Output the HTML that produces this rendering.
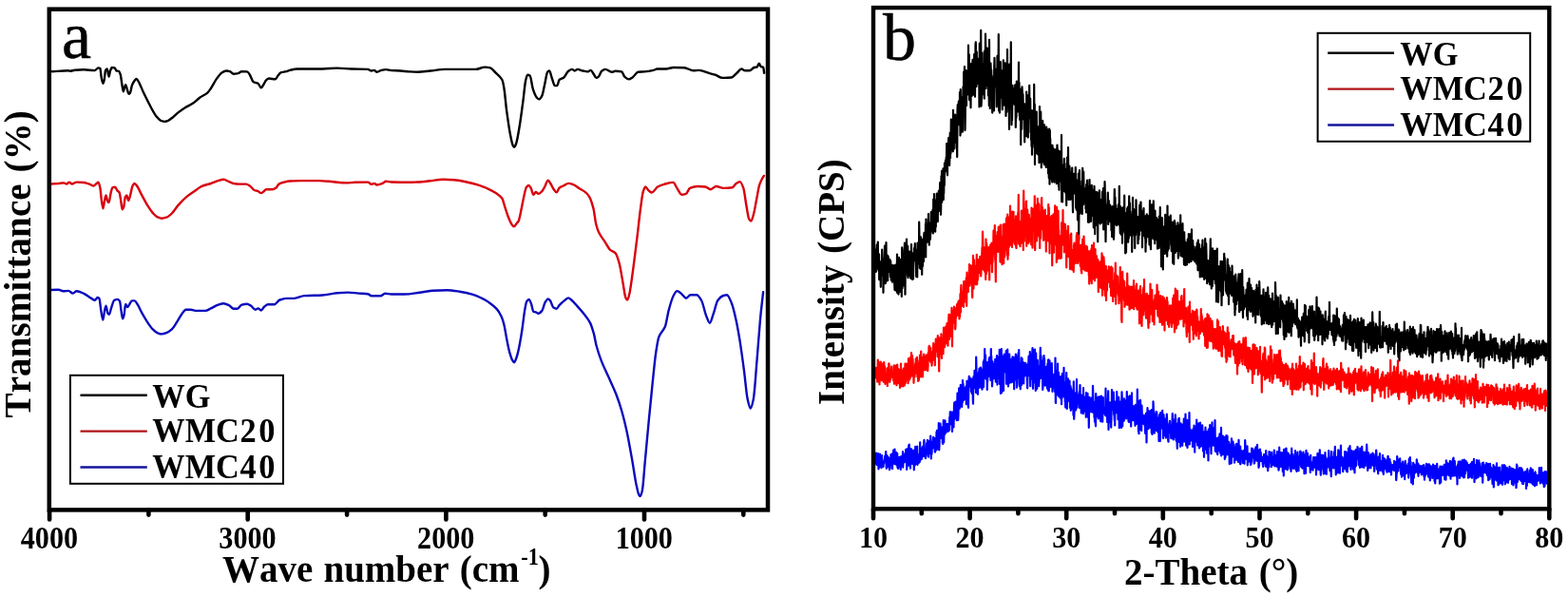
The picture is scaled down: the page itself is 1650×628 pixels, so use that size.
<!DOCTYPE html>
<html lang="en"><head><meta charset="utf-8"><title>FTIR and XRD</title>
<style>html,body{margin:0;padding:0;background:#fff}body{width:1650px;height:628px;overflow:hidden}svg{display:block}text{font-family:"Liberation Serif","Times New Roman",serif;fill:#000}.b{font-weight:bold}.t{font-size:33.5px;font-weight:bold;text-anchor:middle}.l{font-size:39px;font-weight:bold;font-kerning:none;word-spacing:2px}.g{font-size:36px;font-weight:bold;font-kerning:none}.p{font-size:70px;stroke:#000;stroke-width:0.5px}.c{fill:none;stroke-linejoin:round;stroke-linecap:round}</style></head><body>
<svg width="1650" height="628" viewBox="0 0 1650 628">
<rect width="1650" height="628" fill="#fff"/>
<g class="c" stroke-width="2.4">
<path stroke="#000" d="M54.8 75.2C60.5 74.9 66.3 74.3 72.0 74.3C72.6 74.3 73.3 74.8 73.9 74.8C75.5 74.8 77.1 73.8 78.7 73.7C81.9 73.5 85.0 73.3 88.2 73.3C92.0 73.3 95.9 74.1 99.7 74.1C101.0 74.1 102.2 71.4 103.5 71.4C104.1 71.4 104.8 71.6 105.4 72.0C105.8 72.3 106.3 79.3 106.7 81.5C107.2 84.2 107.8 87.8 108.3 87.8C108.7 87.8 109.2 86.1 109.6 84.4C110.1 82.5 110.6 74.7 111.1 73.9C111.6 73.1 112.2 72.5 112.7 72.5C113.3 72.5 114.0 80.6 114.6 80.6C115.0 80.6 115.5 76.0 115.9 74.8C116.5 73.1 117.2 71.0 117.8 71.0C118.8 71.0 119.7 71.2 120.7 71.4C121.3 71.6 122.0 74.3 122.6 74.5C123.4 74.7 124.1 74.6 124.9 74.8C125.5 75.0 126.2 76.7 126.8 78.7C127.3 80.3 127.8 85.3 128.3 88.2C128.8 91.1 129.3 96.2 129.8 96.2C130.3 96.2 130.7 92.3 131.2 91.1C131.5 90.3 131.8 89.2 132.1 89.2C132.8 89.2 133.4 93.0 134.1 94.9C134.5 96.2 135.0 98.7 135.4 98.7C135.9 98.7 136.4 98.3 136.9 97.8C137.5 97.1 138.2 91.8 138.8 90.1C139.6 87.9 140.5 86.4 141.3 85.3C142.1 84.3 142.8 82.9 143.6 82.9C144.2 82.9 144.9 84.3 145.5 85.3C147.4 88.3 149.3 93.9 151.2 97.8C153.8 103.1 156.3 108.3 158.9 113.0C160.8 116.5 162.7 120.3 164.6 122.6C166.2 124.5 167.8 126.4 169.4 127.0C170.7 127.5 171.9 127.9 173.2 127.9C174.5 127.9 175.7 127.3 177.0 126.8C178.6 126.1 180.2 124.7 181.8 123.5C183.7 122.0 185.6 119.9 187.5 118.4C190.1 116.4 192.6 114.6 195.2 113.0C197.7 111.4 200.3 110.5 202.8 108.8C205.4 107.1 207.9 104.3 210.5 102.5C213.0 100.7 215.6 99.9 218.1 97.8C219.4 96.7 220.6 94.8 221.9 93.0C223.8 90.3 225.7 86.1 227.6 83.4C229.5 80.7 231.5 77.6 233.4 76.4C235.0 75.4 236.6 74.5 238.2 74.5C239.5 74.5 240.7 74.8 242.0 75.2C243.2 75.6 244.5 77.7 245.7 77.7C247.3 77.7 248.9 77.4 250.5 77.1C251.8 76.8 253.0 75.2 254.3 75.2C256.2 75.2 258.2 75.3 260.1 75.4C261.0 75.5 262.0 77.3 262.9 78.7C264.2 80.6 265.4 85.6 266.7 86.3C268.3 87.2 269.9 87.0 271.5 87.8C272.6 88.4 273.7 92.4 274.8 92.4C275.6 92.4 276.4 90.4 277.2 89.2C278.2 87.8 279.1 85.3 280.1 84.4C281.1 83.5 282.0 82.5 283.0 82.5C285.2 82.5 287.5 83.4 289.7 83.4C290.6 83.4 291.6 80.7 292.5 79.6C293.5 78.4 294.4 76.7 295.4 76.4C297.3 75.7 299.2 75.7 301.1 75.2C302.4 74.9 303.6 74.2 304.9 73.9C307.5 73.3 310.0 72.5 312.6 72.5C317.1 72.5 321.5 72.5 326.0 72.5C330.4 72.5 334.9 72.5 339.3 72.5C344.4 72.5 349.5 71.6 354.6 71.6C359.7 71.6 364.8 72.3 369.9 72.5C375.6 72.7 381.4 72.6 387.1 72.9C388.4 73.0 389.6 74.5 390.9 74.5C391.9 74.5 392.8 73.9 393.8 73.9C394.7 73.9 395.7 75.8 396.6 75.8C398.2 75.8 399.8 74.3 401.4 73.9C403.0 73.5 404.6 73.1 406.2 73.1C408.1 73.1 410.0 74.0 411.9 74.1C415.1 74.3 418.3 74.3 421.5 74.5C424.7 74.7 427.8 75.2 431.0 75.4C433.9 75.6 436.7 75.8 439.6 75.8C444.0 75.8 448.5 74.9 452.9 74.5C458.0 74.0 463.1 72.9 468.2 72.9C474.6 72.9 480.9 72.9 487.3 72.9C491.8 72.9 496.2 72.9 500.7 72.9C503.9 72.9 507.0 70.6 510.2 70.6C512.1 70.6 514.1 70.9 516.0 71.4C517.9 71.9 519.8 74.8 521.7 76.7C523.9 78.9 526.2 80.1 528.4 84.0C529.0 85.1 529.7 88.4 530.3 92.0C531.3 97.5 532.2 109.7 533.2 116.9C534.5 126.3 535.7 135.3 537.0 141.7C537.9 146.4 538.9 151.6 539.8 153.2C540.3 154.0 540.7 154.7 541.2 154.7C541.8 154.7 542.5 152.9 543.1 151.2C544.2 148.1 545.4 140.7 546.5 134.0C547.8 126.5 549.0 116.7 550.3 107.3C551.3 100.1 552.2 88.6 553.2 84.4C553.8 81.6 554.5 78.7 555.1 78.7C555.9 78.7 556.8 79.0 557.6 79.6C558.7 80.3 559.8 90.6 560.9 93.9C562.2 97.7 563.4 101.1 564.7 102.5C565.5 103.4 566.4 104.4 567.2 104.4C568.3 104.4 569.3 102.6 570.4 100.6C571.4 98.8 572.3 92.4 573.3 88.2C574.2 84.1 575.2 76.9 576.1 75.8C576.7 75.0 577.4 74.5 578.0 74.5C579.0 74.5 579.9 79.9 580.9 82.5C581.9 85.1 582.8 90.1 583.8 90.1C584.6 90.1 585.5 90.1 586.3 90.1C587.0 90.1 587.8 84.6 588.5 84.0C590.1 82.6 591.7 82.7 593.3 81.5C594.9 80.3 596.5 76.0 598.1 74.8C599.4 73.9 600.6 72.9 601.9 72.9C602.9 72.9 603.8 74.5 604.8 74.5C605.8 74.5 606.7 72.9 607.7 72.9C609.6 72.9 611.5 74.1 613.4 74.5C615.0 74.9 616.6 75.4 618.2 75.4C619.3 75.4 620.5 73.9 621.6 73.9C622.6 73.9 623.6 76.3 624.6 77.7C625.5 79.0 626.5 81.9 627.4 81.9C628.2 81.9 629.1 81.3 629.9 80.6C631.0 79.7 632.0 75.6 633.1 74.8C634.4 73.8 635.7 72.9 637.0 72.9C639.2 72.9 641.5 75.8 643.7 75.8C645.0 75.8 646.2 74.8 647.5 74.8C649.7 74.8 652.0 75.0 654.2 75.4C655.3 75.6 656.3 80.0 657.4 80.9C658.9 82.2 660.3 83.4 661.8 83.4C663.1 83.4 664.3 82.3 665.6 81.5C667.5 80.2 669.5 76.0 671.4 75.8C673.6 75.5 675.8 75.6 678.0 75.4C681.2 75.1 684.4 74.6 687.6 73.9C688.9 73.6 690.1 72.5 691.4 72.5C694.6 72.5 697.8 72.5 701.0 72.5C703.5 72.5 706.1 71.0 708.6 71.0C712.4 71.0 716.3 71.1 720.1 71.2C723.3 71.3 726.4 74.3 729.6 74.3C731.5 74.3 733.4 73.9 735.3 73.9C739.1 73.9 743.0 76.0 746.8 77.1C748.7 77.6 750.6 78.1 752.5 78.7C755.1 79.6 757.6 81.9 760.2 81.9C763.4 81.9 766.5 81.8 769.7 81.5C771.6 81.3 773.6 78.4 775.5 76.7C777.1 75.4 778.6 72.5 780.2 72.5C781.5 72.5 782.8 74.3 784.1 74.3C785.7 74.3 787.2 74.3 788.8 74.3C790.4 74.3 792.0 71.4 793.6 71.0C794.6 70.8 795.5 70.8 796.5 70.6C797.3 70.4 798.0 66.8 798.8 66.8C799.4 66.8 800.1 69.9 800.7 70.1C801.5 70.4 802.4 70.3 803.2 70.6C803.5 70.7 803.8 74.7 804.1 76.7"/>
<path stroke="#d8000c" d="M52.9 193.6C55.8 193.4 58.6 193.2 61.5 193.0C63.4 192.8 65.3 192.4 67.2 192.4C68.2 192.4 69.1 193.6 70.1 193.6C71.0 193.6 72.0 191.6 72.9 191.6C73.9 191.6 74.8 193.6 75.8 193.6C77.4 193.6 79.0 191.6 80.6 191.6C83.1 191.6 85.7 191.8 88.2 192.0C90.1 192.2 92.0 193.0 93.9 193.6C95.5 194.1 97.1 195.5 98.7 195.5C99.7 195.5 100.6 193.8 101.6 193.0C102.2 192.5 102.9 191.6 103.5 191.6C104.1 191.6 104.8 194.8 105.4 197.8C105.9 200.2 106.4 207.9 106.9 211.1C107.4 214.5 108.0 219.2 108.5 219.2C109.0 219.2 109.5 213.3 110.0 211.1C110.5 208.9 111.0 205.4 111.5 205.4C112.0 205.4 112.5 210.2 113.0 211.1C113.5 212.1 114.1 213.0 114.6 213.0C115.2 213.0 115.9 206.0 116.5 203.5C117.1 201.0 117.8 197.7 118.4 197.4C119.3 197.0 120.2 196.8 121.1 196.8C121.9 196.8 122.7 199.7 123.5 200.6C124.2 201.4 124.9 201.4 125.6 202.5C126.1 203.3 126.7 208.0 127.2 211.1C127.7 214.0 128.2 220.3 128.7 220.3C129.2 220.3 129.7 219.1 130.2 217.8C130.7 216.4 131.3 208.4 131.8 207.3C132.3 206.2 132.8 205.4 133.3 205.4C133.9 205.4 134.6 211.1 135.2 211.1C135.8 211.1 136.5 207.6 137.1 205.4C137.9 202.7 138.6 197.5 139.4 195.8C140.0 194.4 140.7 193.0 141.3 193.0C142.1 193.0 142.8 194.0 143.6 194.9C145.5 197.1 147.4 201.9 149.3 205.4C151.2 208.9 153.2 212.8 155.1 215.9C157.0 218.9 158.9 222.0 160.8 224.1C162.4 225.8 164.0 227.6 165.6 228.3C167.2 229.0 168.7 229.7 170.3 229.7C171.9 229.7 173.5 229.2 175.1 228.7C177.0 228.1 178.9 226.3 180.8 224.5C183.0 222.4 185.3 218.4 187.5 215.9C190.7 212.3 193.9 209.0 197.1 206.4C200.3 203.8 203.4 201.9 206.6 199.7C208.5 198.4 210.5 196.6 212.4 195.8C215.6 194.5 218.7 194.0 221.9 193.0C224.5 192.2 227.0 190.8 229.6 190.1C231.5 189.6 233.4 188.8 235.3 188.8C237.2 188.8 239.1 190.3 241.0 191.1C242.6 191.7 244.1 192.7 245.7 193.0C247.6 193.3 249.6 193.6 251.5 193.6C254.0 193.6 256.6 193.6 259.1 193.6C260.4 193.6 261.6 194.7 262.9 195.5C264.5 196.5 266.1 199.2 267.7 200.0C269.0 200.6 270.2 200.7 271.5 201.2C272.6 201.6 273.7 203.1 274.8 203.1C275.6 203.1 276.4 202.2 277.2 201.6C278.2 200.9 279.1 199.3 280.1 199.3C282.3 199.3 284.6 199.3 286.8 199.3C288.1 199.3 289.3 198.3 290.6 197.4C291.6 196.7 292.5 194.1 293.5 193.6C295.4 192.5 297.3 192.1 299.2 191.6C301.1 191.1 303.0 190.6 304.9 190.5C308.7 190.3 312.6 190.1 316.4 190.1C322.8 190.1 329.1 190.1 335.5 190.1C340.6 190.1 345.7 190.9 350.8 191.3C355.3 191.7 359.7 192.4 364.2 192.4C367.4 192.4 370.5 191.9 373.7 191.8C378.2 191.7 382.6 191.6 387.1 191.6C388.4 191.6 389.6 193.9 390.9 193.9C391.9 193.9 392.8 193.0 393.8 193.0C394.7 193.0 395.7 194.5 396.6 194.5C398.5 194.5 400.5 193.7 402.4 193.0C403.7 192.5 404.9 190.7 406.2 190.7C408.1 190.7 410.0 191.4 411.9 191.5C418.3 191.7 424.6 191.8 431.0 191.8C433.9 191.8 436.7 191.6 439.6 191.5C444.0 191.3 448.5 190.7 452.9 190.2C457.4 189.7 461.8 188.7 466.3 188.7C470.1 188.7 474.0 188.9 477.8 189.2C482.2 189.5 486.7 190.6 491.1 191.5C494.9 192.3 498.8 193.2 502.6 194.4C506.4 195.6 510.2 197.1 514.0 198.8C516.6 200.0 519.1 201.3 521.7 203.0C523.9 204.5 526.2 205.7 528.4 208.7C529.3 209.9 530.3 214.5 531.2 217.3C532.5 221.2 533.8 225.6 535.1 228.8C536.2 231.6 537.4 234.5 538.5 236.0C539.3 237.0 540.0 238.3 540.8 238.3C541.8 238.3 542.7 236.1 543.7 234.9C544.3 234.1 545.0 233.8 545.6 232.6C546.5 230.9 547.5 225.3 548.4 221.1C549.4 216.8 550.3 211.0 551.3 206.8C552.1 203.2 553.0 198.5 553.8 197.2C554.6 196.0 555.3 195.0 556.1 195.0C556.9 195.0 557.6 196.1 558.4 197.2C559.4 198.6 560.4 204.9 561.4 204.9C562.2 204.9 562.9 202.0 563.7 202.0C564.7 202.0 565.6 203.9 566.6 203.9C567.9 203.9 569.1 202.4 570.4 201.1C571.4 200.1 572.3 198.0 573.3 196.3C574.4 194.3 575.6 189.6 576.7 189.6C577.5 189.6 578.2 191.4 579.0 192.5C580.3 194.4 581.5 197.5 582.8 199.2C583.8 200.5 584.7 202.4 585.7 202.4C586.6 202.4 587.6 198.5 588.5 197.8C590.1 196.5 591.7 196.1 593.3 195.3C594.9 194.5 596.5 192.9 598.1 192.9C600.0 192.9 601.9 193.7 603.8 194.4C605.7 195.1 607.7 197.0 609.6 198.2C611.5 199.4 613.4 200.1 615.3 201.6C616.9 202.8 618.5 204.3 620.1 206.8C621.6 209.1 623.0 213.8 624.5 219.5C625.4 223.0 626.3 232.2 627.2 235.8C628.1 239.4 629.0 242.0 629.9 243.9C632.2 248.6 634.4 251.2 636.7 254.7C638.5 257.5 640.3 261.2 642.1 262.8C643.9 264.4 645.7 264.3 647.5 266.1C648.8 267.4 650.2 271.8 651.5 276.4C652.9 281.1 654.2 290.6 655.6 298.0C656.5 302.9 657.4 310.9 658.3 312.9C658.9 314.3 659.6 315.6 660.2 315.6C660.9 315.6 661.7 312.0 662.4 308.9C663.7 303.3 665.1 291.5 666.4 281.8C667.8 271.8 669.1 260.5 670.5 249.3C671.7 239.7 672.8 228.1 674.0 219.5C674.9 212.9 675.8 204.9 676.7 201.9C677.5 199.2 678.3 196.5 679.1 196.5C680.3 196.5 681.5 199.7 682.7 200.6C683.8 201.4 684.8 202.5 685.9 202.5C688.0 202.5 690.0 197.7 692.1 196.5C694.4 195.2 696.6 194.4 698.9 193.8C702.1 193.0 705.2 191.9 708.4 191.9C709.7 191.9 711.1 196.0 712.4 197.9C714.0 200.3 715.7 204.7 717.3 204.7C718.8 204.7 720.4 204.3 721.9 203.8C723.3 203.3 724.6 198.5 726.0 197.9C728.7 196.8 731.4 196.0 734.1 196.0C736.8 196.0 739.5 196.2 742.2 196.5C744.0 196.7 745.8 199.2 747.6 199.2C749.6 199.2 751.6 196.0 753.6 196.0C756.1 196.0 758.6 197.9 761.1 197.9C764.3 197.9 767.4 197.7 770.6 197.3C772.0 197.1 773.3 193.9 774.7 193.0C776.0 192.1 777.4 191.1 778.7 191.1C779.9 191.1 781.1 194.5 782.3 197.9C783.4 201.0 784.4 211.0 785.5 216.8C786.4 221.7 787.3 229.0 788.2 230.4C788.9 231.6 789.7 232.5 790.4 232.5C791.3 232.5 792.2 228.2 793.1 225.0C794.2 221.2 795.2 214.1 796.3 208.7C797.2 204.2 798.1 198.1 799.0 195.2C799.9 192.1 800.9 190.2 801.8 188.4C802.5 187.0 803.2 186.1 803.9 184.9"/>
<path stroke="#0a0abe" d="M52.9 305.0C55.8 304.9 58.6 304.8 61.5 304.8C63.4 304.8 65.3 306.3 67.2 306.3C68.8 306.3 70.4 305.9 72.0 305.9C73.6 305.9 75.1 308.6 76.7 308.6C78.0 308.6 79.3 306.3 80.6 306.3C83.1 306.3 85.7 307.7 88.2 308.8C90.7 309.9 93.3 312.1 95.8 313.6C97.2 314.4 98.6 315.8 100.0 315.8C100.8 315.8 101.7 313.0 102.5 313.0C103.1 313.0 103.8 313.3 104.4 313.9C105.1 314.5 105.7 323.6 106.4 327.3C107.0 330.9 107.7 336.5 108.3 336.5C108.9 336.5 109.4 329.8 110.0 327.3C110.5 325.1 111.0 321.6 111.5 321.6C112.1 321.6 112.8 328.8 113.4 329.6C113.9 330.2 114.4 330.7 114.9 330.7C115.7 330.7 116.4 325.6 117.2 323.5C118.2 320.6 119.3 316.3 120.3 315.8C121.4 315.3 122.4 314.9 123.5 314.9C124.3 314.9 125.2 315.7 126.0 316.8C126.5 317.5 127.1 324.2 127.6 327.3C128.1 330.2 128.6 335.3 129.1 335.3C129.6 335.3 130.1 333.1 130.6 331.1C131.1 329.1 131.6 320.0 132.1 320.0C132.8 320.0 133.4 323.1 134.1 323.1C134.8 323.1 135.6 321.0 136.3 320.0C137.1 318.8 138.0 316.4 138.8 316.4C139.8 316.4 140.7 316.4 141.7 316.4C142.7 316.4 143.6 318.5 144.6 320.0C146.2 322.4 147.7 326.4 149.3 329.2C151.2 332.7 153.2 335.9 155.1 338.8C157.0 341.6 158.9 344.5 160.8 346.4C162.4 348.0 164.0 349.6 165.6 350.2C167.2 350.8 168.7 351.4 170.3 351.4C171.9 351.4 173.5 350.8 175.1 350.2C177.0 349.5 178.9 348.1 180.8 346.4C182.4 345.0 184.0 342.1 185.6 339.7C187.5 336.8 189.5 332.7 191.4 330.2C192.8 328.4 194.2 325.8 195.6 325.8C197.4 325.8 199.1 325.8 200.9 325.8C202.8 325.8 204.7 326.9 206.6 326.9C209.8 326.9 213.0 326.9 216.2 326.9C218.1 326.9 220.0 325.3 221.9 324.4C224.5 323.2 227.0 321.4 229.6 320.6C231.5 320.0 233.4 319.3 235.3 319.3C237.2 319.3 239.1 320.3 241.0 321.2C242.6 321.9 244.1 324.8 245.7 324.8C247.0 324.8 248.3 324.8 249.6 324.8C251.2 324.8 252.7 321.0 254.3 320.6C256.2 320.1 258.2 319.7 260.1 319.7C261.4 319.7 262.6 320.8 263.9 321.6C265.5 322.6 267.1 325.8 268.7 325.8C269.6 325.8 270.6 324.4 271.5 324.4C272.6 324.4 273.7 326.5 274.8 326.5C275.9 326.5 277.1 323.4 278.2 322.5C279.5 321.5 280.7 320.2 282.0 320.2C284.2 320.2 286.5 320.2 288.7 320.2C290.6 320.2 292.5 316.2 294.4 315.5C296.6 314.7 298.9 313.9 301.1 313.9C304.0 313.9 306.8 313.9 309.7 313.9C313.2 313.9 316.7 311.3 320.2 311.1C326.6 310.7 332.9 310.8 339.3 310.5C344.4 310.2 349.5 308.6 354.6 308.2C358.4 307.9 362.3 307.6 366.1 307.6C369.9 307.6 373.7 308.3 377.5 308.6C380.7 308.8 383.9 308.8 387.1 309.2C388.4 309.3 389.6 311.3 390.9 311.3C394.1 311.3 397.3 311.3 400.5 311.3C402.1 311.3 403.6 308.8 405.2 308.8C407.4 308.8 409.7 309.5 411.9 309.5C416.4 309.5 420.8 309.5 425.3 309.5C430.7 309.5 436.1 308.4 441.5 307.7C445.9 307.1 450.4 306.1 454.8 305.8C459.9 305.5 465.0 305.2 470.1 305.2C474.6 305.2 479.0 306.0 483.5 306.7C488.0 307.4 492.4 308.3 496.9 309.6C500.7 310.7 504.5 312.5 508.3 314.4C510.9 315.7 513.4 317.3 516.0 319.2C518.2 320.8 520.4 322.4 522.6 324.9C524.2 326.7 525.8 329.2 527.4 332.5C528.4 334.5 529.3 337.4 530.3 341.1C531.3 344.8 532.2 351.5 533.2 356.4C534.1 361.1 535.1 366.4 536.0 369.8C537.0 373.3 537.9 376.7 538.9 378.4C539.7 379.7 540.4 381.2 541.2 381.2C542.0 381.2 542.9 377.9 543.7 375.5C544.6 372.8 545.6 368.5 546.5 364.0C547.5 359.3 548.4 353.2 549.4 346.9C550.4 340.6 551.3 331.2 552.3 325.8C552.9 322.3 553.6 318.2 554.2 317.2C555.0 316.0 555.7 315.0 556.5 315.0C557.3 315.0 558.1 317.3 558.9 319.2C559.7 321.1 560.6 327.5 561.4 327.8C562.2 328.1 562.9 328.1 563.7 328.3C564.7 328.6 565.6 329.7 566.6 329.7C567.9 329.7 569.1 328.3 570.4 326.8C571.5 325.5 572.5 320.0 573.6 318.2C574.6 316.5 575.7 314.4 576.7 314.4C577.5 314.4 578.2 315.4 579.0 316.3C580.1 317.7 581.3 322.8 582.4 323.6C583.5 324.3 584.6 324.9 585.7 324.9C586.6 324.9 587.6 322.1 588.5 321.1C590.4 319.0 592.4 317.4 594.3 315.9C595.6 314.9 596.8 313.4 598.1 313.4C599.1 313.4 600.0 314.5 601.0 315.3C603.2 317.1 605.5 319.9 607.7 322.4C609.9 324.8 612.1 327.2 614.3 330.0C616.5 332.9 618.8 335.3 621.0 339.6C622.3 342.0 623.5 346.2 624.8 350.7C625.8 354.1 626.7 360.5 627.7 364.0C629.4 370.4 631.2 375.4 632.9 379.9C635.5 386.5 638.0 391.3 640.6 397.1C643.1 402.8 645.7 407.8 648.2 414.3C650.1 419.3 652.1 424.9 654.0 431.5C655.9 438.0 657.8 445.7 659.7 454.4C661.6 463.1 663.5 474.2 665.4 485.0C666.7 492.4 668.0 502.1 669.3 508.4C670.3 513.1 671.2 518.3 672.2 520.2C672.7 521.1 673.1 522.0 673.6 522.0C674.3 522.0 675.1 519.3 675.8 516.2C676.8 512.0 677.8 495.6 678.8 485.0C680.1 471.2 681.4 456.5 682.7 443.0C684.0 429.8 685.2 416.8 686.5 404.7C687.8 392.6 689.0 378.7 690.3 370.3C691.3 363.5 692.4 356.8 693.4 354.2C695.6 348.8 697.7 348.7 699.9 343.5C701.2 340.4 702.4 330.9 703.7 326.3C705.4 320.2 707.0 314.0 708.7 311.0C710.0 308.7 711.2 306.1 712.5 306.1C714.0 306.1 715.6 307.9 717.1 309.1C718.7 310.4 720.4 313.7 722.0 313.7C723.5 313.7 725.1 310.3 726.6 310.3C728.8 310.3 730.9 310.3 733.1 310.3C734.8 310.3 736.4 313.2 738.1 316.0C739.8 318.8 741.4 328.0 743.1 332.1C744.4 335.2 745.6 339.7 746.9 339.7C748.2 339.7 749.4 333.7 750.7 330.2C752.2 326.0 753.8 318.1 755.3 316.0C757.2 313.4 759.2 311.6 761.1 311.0C762.4 310.6 763.6 310.3 764.9 310.3C766.5 310.3 768.2 314.9 769.8 318.7C771.3 322.3 772.9 329.1 774.4 335.9C775.7 341.6 777.0 349.0 778.3 356.9C779.8 366.3 781.4 377.9 782.9 389.4C784.2 398.9 785.4 414.2 786.7 420.0C787.7 424.6 788.7 429.6 789.7 429.6C790.7 429.6 791.8 425.0 792.8 420.0C794.1 413.9 795.3 392.8 796.6 378.0C797.7 364.8 798.9 347.9 800.0 335.9C801.0 325.0 802.1 316.8 803.1 307.2"/>
</g>
<g class="c" stroke-width="2.2">
<path stroke="#000" d="M921.5 268.0L921.8 286.0L922.0 265.1L922.2 262.1L922.5 260.6L922.8 257.4L923.0 265.1L923.2 269.7L923.5 281.5L923.8 254.6L924.0 276.9L924.2 283.7L924.5 272.4L924.8 285.3L925.0 267.4L925.2 294.2L925.5 283.8L925.8 279.7L926.0 282.1L926.2 284.0L926.5 284.9L926.8 301.8L927.0 275.0L927.2 278.5L927.5 290.2L927.8 289.8L928.0 270.5L928.2 262.7L928.5 270.2L928.8 279.2L929.0 272.4L929.2 285.9L929.5 307.8L929.8 290.1L930.0 279.8L930.2 284.9L930.5 297.8L930.8 279.1L931.0 258.5L931.2 293.7L931.5 293.0L931.8 298.2L932.0 278.3L932.2 291.6L932.5 255.2L932.8 288.1L933.0 295.1L933.2 295.6L933.5 290.1L933.8 269.5L934.0 268.7L934.2 295.1L934.5 276.2L934.8 270.2L935.0 278.2L935.2 277.7L935.5 285.8L935.8 285.9L936.0 278.0L936.2 281.6L936.5 273.2L936.8 277.6L937.0 291.3L937.2 274.7L937.5 281.9L937.8 294.7L938.0 289.4L938.2 285.6L938.5 287.5L938.8 284.6L939.0 296.7L939.2 279.0L939.5 278.9L939.8 280.6L940.0 285.8L940.2 279.4L940.5 293.4L940.8 295.8L941.0 285.2L941.2 298.2L941.5 304.9L941.8 283.8L942.0 282.2L942.2 278.6L942.5 289.8L942.8 305.1L943.0 281.8L943.2 306.1L943.5 294.9L943.8 289.5L944.0 267.6L944.2 308.1L944.5 284.4L944.8 280.7L945.0 277.7L945.2 287.9L945.5 309.6L945.8 290.6L946.0 270.9L946.2 293.1L946.5 273.7L946.8 282.6L947.0 294.4L947.2 275.8L947.5 307.0L947.8 296.4L948.0 272.9L948.2 281.8L948.5 291.1L948.8 312.0L949.0 280.3L949.2 260.4L949.5 303.2L949.8 278.7L950.0 273.0L950.2 299.0L950.5 275.8L950.8 300.4L951.0 291.9L951.2 282.4L951.5 263.8L951.8 260.6L952.0 255.6L952.2 266.3L952.5 309.7L952.8 273.8L953.0 276.9L953.2 284.8L953.5 266.2L953.8 268.0L954.0 251.6L954.2 286.5L954.5 285.1L954.8 264.2L955.0 290.1L955.2 258.8L955.5 292.2L955.8 274.7L956.0 285.7L956.2 290.0L956.5 269.5L956.8 264.7L957.0 275.7L957.2 266.8L957.5 279.3L957.8 271.0L958.0 277.9L958.2 292.6L958.5 283.5L958.8 269.5L959.0 257.0L959.2 293.3L959.5 272.9L959.8 268.1L960.0 266.7L960.2 294.0L960.5 270.2L960.8 269.4L961.0 293.5L961.2 281.0L961.5 265.9L961.8 273.3L962.0 261.1L962.2 273.9L962.5 264.1L962.8 256.2L963.0 264.3L963.2 270.0L963.5 272.2L963.8 275.0L964.0 279.5L964.2 291.0L964.5 279.8L964.8 262.5L965.0 272.1L965.2 291.5L965.5 255.6L965.8 261.6L966.0 264.1L966.2 266.9L966.5 277.5L966.8 255.4L967.0 275.0L967.2 233.5L967.5 252.5L967.8 282.0L968.0 258.8L968.2 273.3L968.5 254.7L968.8 283.0L969.0 249.3L969.2 258.1L969.5 272.0L969.8 261.5L970.0 273.9L970.2 288.8L970.5 259.5L970.8 251.8L971.0 280.0L971.2 272.3L971.5 269.6L971.8 258.4L972.0 275.0L972.2 249.0L972.5 244.8L972.8 252.4L973.0 245.4L973.2 250.9L973.5 265.8L973.8 263.9L974.0 235.7L974.2 270.5L974.5 230.5L974.8 241.9L975.0 235.8L975.2 246.7L975.5 238.3L975.8 254.7L976.0 251.5L976.2 244.8L976.5 235.9L976.8 250.0L977.0 225.0L977.2 249.4L977.5 234.2L977.8 257.7L978.0 243.0L978.2 250.1L978.5 241.5L978.8 251.8L979.0 249.4L979.2 241.8L979.5 244.7L979.8 223.0L980.0 239.3L980.2 233.0L980.5 223.0L980.8 236.8L981.0 223.1L981.2 236.1L981.5 220.5L981.8 245.5L982.0 243.9L982.2 209.7L982.5 223.6L982.8 242.9L983.0 204.2L983.2 219.2L983.5 216.1L983.8 236.1L984.0 212.9L984.2 243.7L984.5 210.9L984.8 238.8L985.0 221.4L985.2 223.5L985.5 224.3L985.8 203.6L986.0 217.8L986.2 221.9L986.5 222.9L986.8 233.1L987.0 209.8L987.2 220.6L987.5 217.1L987.8 200.9L988.0 207.1L988.2 204.3L988.5 221.8L988.8 205.0L989.0 199.5L989.2 192.0L989.5 207.5L989.8 194.0L990.0 225.8L990.2 218.7L990.5 185.4L990.8 201.6L991.0 179.9L991.2 212.8L991.5 204.6L991.8 201.8L992.0 193.5L992.2 186.7L992.5 177.4L992.8 210.1L993.0 188.6L993.2 203.5L993.5 184.9L993.8 195.0L994.0 171.5L994.2 178.3L994.5 180.0L994.8 172.0L995.0 168.8L995.2 180.1L995.5 167.9L995.8 165.1L996.0 176.2L996.2 151.1L996.5 168.3L996.8 182.6L997.0 184.3L997.2 152.5L997.5 153.8L997.8 153.8L998.0 152.7L998.2 145.1L998.5 165.4L998.8 159.9L999.0 172.1L999.2 173.9L999.5 146.6L999.8 139.6L1000.0 166.3L1000.2 145.9L1000.5 161.6L1000.8 125.7L1001.0 141.4L1001.2 136.9L1001.5 139.7L1001.8 146.1L1002.0 128.3L1002.2 140.7L1002.5 151.6L1002.8 159.3L1003.0 115.8L1003.2 141.9L1003.5 154.1L1003.8 156.8L1004.0 130.5L1004.2 148.3L1004.5 131.3L1004.8 147.9L1005.0 131.8L1005.2 120.7L1005.5 136.6L1005.8 150.3L1006.0 127.7L1006.2 135.5L1006.5 155.9L1006.8 146.1L1007.0 141.5L1007.2 165.1L1007.5 116.2L1007.8 110.0L1008.0 127.9L1008.2 128.1L1008.5 131.2L1008.8 106.5L1009.0 130.8L1009.2 123.9L1009.5 114.5L1009.8 113.5L1010.0 97.1L1010.2 99.3L1010.5 142.6L1010.8 94.2L1011.0 134.1L1011.2 139.7L1011.5 112.6L1011.8 117.7L1012.0 108.2L1012.2 102.4L1012.5 117.0L1012.8 102.1L1013.0 138.6L1013.2 116.1L1013.5 91.4L1013.8 94.7L1014.0 104.1L1014.2 75.6L1014.5 96.2L1014.8 103.7L1015.0 70.0L1015.2 102.7L1015.5 137.0L1015.8 120.7L1016.0 101.4L1016.2 102.5L1016.5 74.0L1016.8 88.4L1017.0 110.9L1017.2 77.8L1017.5 96.6L1017.8 94.3L1018.0 89.4L1018.2 85.8L1018.5 74.3L1018.8 88.8L1019.0 47.5L1019.2 99.8L1019.5 87.8L1019.8 57.3L1020.0 105.1L1020.2 101.3L1020.5 67.6L1020.8 69.5L1021.0 78.5L1021.2 87.0L1021.5 113.3L1021.8 71.2L1022.0 67.1L1022.2 84.1L1022.5 66.6L1022.8 100.8L1023.0 81.5L1023.2 70.2L1023.5 62.8L1023.8 79.9L1024.0 83.9L1024.2 98.9L1024.5 96.3L1024.8 99.7L1025.0 97.7L1025.2 57.1L1025.5 71.8L1025.8 76.2L1026.0 101.7L1026.2 87.0L1026.5 46.9L1026.8 44.4L1027.0 52.4L1027.2 54.6L1027.5 91.0L1027.8 54.7L1028.0 76.1L1028.2 82.3L1028.5 62.8L1028.8 87.9L1029.0 72.1L1029.2 70.8L1029.5 87.1L1029.8 61.7L1030.0 86.8L1030.2 73.2L1030.5 112.5L1030.8 45.7L1031.0 92.3L1031.2 45.4L1031.5 90.9L1031.8 57.2L1032.0 87.5L1032.2 31.9L1032.5 111.6L1032.8 107.0L1033.0 102.8L1033.2 77.6L1033.5 55.6L1033.8 77.5L1034.0 67.2L1034.2 91.9L1034.5 91.1L1034.8 99.1L1035.0 75.8L1035.2 69.9L1035.5 92.9L1035.8 103.7L1036.0 53.6L1036.2 75.3L1036.5 54.9L1036.8 80.3L1037.0 35.7L1037.2 47.2L1037.5 93.1L1037.8 76.3L1038.0 89.0L1038.2 60.9L1038.5 64.5L1038.8 50.7L1039.0 79.9L1039.2 82.3L1039.5 90.1L1039.8 69.5L1040.0 100.5L1040.2 55.6L1040.5 79.3L1040.8 111.1L1041.0 41.9L1041.2 90.0L1041.5 66.8L1041.8 114.1L1042.0 74.3L1042.2 98.8L1042.5 66.6L1042.8 76.2L1043.0 92.5L1043.2 73.7L1043.5 83.5L1043.8 79.9L1044.0 96.0L1044.2 118.6L1044.5 107.7L1044.8 82.4L1045.0 100.6L1045.2 98.0L1045.5 102.1L1045.8 87.6L1046.0 116.5L1046.2 72.0L1046.5 60.8L1046.8 80.4L1047.0 74.2L1047.2 88.6L1047.5 72.7L1047.8 89.1L1048.0 91.1L1048.2 76.9L1048.5 93.1L1048.8 112.4L1049.0 89.8L1049.2 96.1L1049.5 58.9L1049.8 91.6L1050.0 109.0L1050.2 78.5L1050.5 87.2L1050.8 36.2L1051.0 108.1L1051.2 116.7L1051.5 80.4L1051.8 113.4L1052.0 118.6L1052.2 97.5L1052.5 103.2L1052.8 65.1L1053.0 89.8L1053.2 97.0L1053.5 87.8L1053.8 74.0L1054.0 100.9L1054.2 79.0L1054.5 97.8L1054.8 115.3L1055.0 102.3L1055.2 90.6L1055.5 93.4L1055.8 63.4L1056.0 77.5L1056.2 72.5L1056.5 98.5L1056.8 110.7L1057.0 77.7L1057.2 102.1L1057.5 71.4L1057.8 66.4L1058.0 95.3L1058.2 81.8L1058.5 122.0L1058.8 81.8L1059.0 79.8L1059.2 99.1L1059.5 117.8L1059.8 105.1L1060.0 52.1L1060.2 99.2L1060.5 102.5L1060.8 100.1L1061.0 95.7L1061.2 89.6L1061.5 76.1L1061.8 109.4L1062.0 135.9L1062.2 67.5L1062.5 103.9L1062.8 102.8L1063.0 98.3L1063.2 109.9L1063.5 98.4L1063.8 44.4L1064.0 109.5L1064.2 107.1L1064.5 131.3L1064.8 111.6L1065.0 126.6L1065.2 111.9L1065.5 89.9L1065.8 96.2L1066.0 107.7L1066.2 94.4L1066.5 103.5L1066.8 93.2L1067.0 104.0L1067.2 99.2L1067.5 109.9L1067.8 106.6L1068.0 103.0L1068.2 89.4L1068.5 91.0L1068.8 133.9L1069.0 115.2L1069.2 116.2L1069.5 123.9L1069.8 85.7L1070.0 94.1L1070.2 93.6L1070.5 94.3L1070.8 117.5L1071.0 96.0L1071.2 91.3L1071.5 117.4L1071.8 103.1L1072.0 65.6L1072.2 106.6L1072.5 86.9L1072.8 122.0L1073.0 113.6L1073.2 126.1L1073.5 119.8L1073.8 127.0L1074.0 93.9L1074.2 152.2L1074.5 118.5L1074.8 99.5L1075.0 101.5L1075.2 135.7L1075.5 91.4L1075.8 97.0L1076.0 105.5L1076.2 105.0L1076.5 99.4L1076.8 119.8L1077.0 111.3L1077.2 120.5L1077.5 125.9L1077.8 109.2L1078.0 130.0L1078.2 149.4L1078.5 111.6L1078.8 117.9L1079.0 110.8L1079.2 126.3L1079.5 142.1L1079.8 134.4L1080.0 143.2L1080.2 96.5L1080.5 124.3L1080.8 118.0L1081.0 132.4L1081.2 128.7L1081.5 100.3L1081.8 144.6L1082.0 126.1L1082.2 123.2L1082.5 117.8L1082.8 117.2L1083.0 121.0L1083.2 89.8L1083.5 123.1L1083.8 124.1L1084.0 120.0L1084.2 103.5L1084.5 139.2L1084.8 117.7L1085.0 147.1L1085.2 116.0L1085.5 153.9L1085.8 121.9L1086.0 162.7L1086.2 116.3L1086.5 155.2L1086.8 143.3L1087.0 127.3L1087.2 126.8L1087.5 143.5L1087.8 145.8L1088.0 148.2L1088.2 88.9L1088.5 151.0L1088.8 109.7L1089.0 173.1L1089.2 121.1L1089.5 122.6L1089.8 143.8L1090.0 143.8L1090.2 161.2L1090.5 138.2L1090.8 117.5L1091.0 151.5L1091.2 151.1L1091.5 137.8L1091.8 133.7L1092.0 162.3L1092.2 156.3L1092.5 133.3L1092.8 152.4L1093.0 137.7L1093.2 145.7L1093.5 171.2L1093.8 168.3L1094.0 112.2L1094.2 144.2L1094.5 161.4L1094.8 130.7L1095.0 141.9L1095.2 117.7L1095.5 138.4L1095.8 176.3L1096.0 143.9L1096.2 152.0L1096.5 138.5L1096.8 137.9L1097.0 170.4L1097.2 127.0L1097.5 136.0L1097.8 139.6L1098.0 165.5L1098.2 156.8L1098.5 157.3L1098.8 173.2L1099.0 131.4L1099.2 159.1L1099.5 140.8L1099.8 153.1L1100.0 172.9L1100.2 136.0L1100.5 170.0L1100.8 175.9L1101.0 159.6L1101.2 133.7L1101.5 169.1L1101.8 160.6L1102.0 157.0L1102.2 165.8L1102.5 136.4L1102.8 159.9L1103.0 182.5L1103.2 139.2L1103.5 176.0L1103.8 187.2L1104.0 159.2L1104.2 135.7L1104.5 193.7L1104.8 137.0L1105.0 159.7L1105.2 145.7L1105.5 173.0L1105.8 158.6L1106.0 188.3L1106.2 152.7L1106.5 177.2L1106.8 159.6L1107.0 160.9L1107.2 191.6L1107.5 152.9L1107.8 184.4L1108.0 167.4L1108.2 183.7L1108.5 156.2L1108.8 174.1L1109.0 188.1L1109.2 165.7L1109.5 191.7L1109.8 162.8L1110.0 172.8L1110.2 171.6L1110.5 157.4L1110.8 165.9L1111.0 159.7L1111.2 180.5L1111.5 159.2L1111.8 193.2L1112.0 170.3L1112.2 157.8L1112.5 152.5L1112.8 167.4L1113.0 170.6L1113.2 157.5L1113.5 183.6L1113.8 167.6L1114.0 196.2L1114.2 178.4L1114.5 199.8L1114.8 159.1L1115.0 167.0L1115.2 170.0L1115.5 165.2L1115.8 167.4L1116.0 166.2L1116.2 171.3L1116.5 177.3L1116.8 191.6L1117.0 142.0L1117.2 212.2L1117.5 178.0L1117.8 187.9L1118.0 212.5L1118.2 178.6L1118.5 173.8L1118.8 199.6L1119.0 183.8L1119.2 179.3L1119.5 182.7L1119.8 166.9L1120.0 196.7L1120.2 201.5L1120.5 177.5L1120.8 195.3L1121.0 202.0L1121.2 180.1L1121.5 203.1L1121.8 179.9L1122.0 199.7L1122.2 216.1L1122.5 172.0L1122.8 197.3L1123.0 165.7L1123.2 188.4L1123.5 200.9L1123.8 185.8L1124.0 155.2L1124.2 181.0L1124.5 210.1L1124.8 192.1L1125.0 197.8L1125.2 174.4L1125.5 175.8L1125.8 180.8L1126.0 198.9L1126.2 210.0L1126.5 192.1L1126.8 181.4L1127.0 184.7L1127.2 186.6L1127.5 191.5L1127.8 185.0L1128.0 209.8L1128.2 176.5L1128.5 206.4L1128.8 213.3L1129.0 223.3L1129.2 185.7L1129.5 193.2L1129.8 182.8L1130.0 203.6L1130.2 201.4L1130.5 188.0L1130.8 199.8L1131.0 197.7L1131.2 200.4L1131.5 202.1L1131.8 176.2L1132.0 195.5L1132.2 218.8L1132.5 195.3L1132.8 220.7L1133.0 196.9L1133.2 189.7L1133.5 191.2L1133.8 196.6L1134.0 231.4L1134.2 221.5L1134.5 216.2L1134.8 182.6L1135.0 193.1L1135.2 252.2L1135.5 211.0L1135.8 205.0L1136.0 179.0L1136.2 203.9L1136.5 224.7L1136.8 210.0L1137.0 205.7L1137.2 219.6L1137.5 222.5L1137.8 204.8L1138.0 196.1L1138.2 221.2L1138.5 190.7L1138.8 225.1L1139.0 195.4L1139.2 176.8L1139.5 209.4L1139.8 180.7L1140.0 215.2L1140.2 180.5L1140.5 197.6L1140.8 200.0L1141.0 213.2L1141.2 205.3L1141.5 198.0L1141.8 198.7L1142.0 211.0L1142.2 201.9L1142.5 219.7L1142.8 210.4L1143.0 223.4L1143.2 194.2L1143.5 202.7L1143.8 197.3L1144.0 189.5L1144.2 206.2L1144.5 203.3L1144.8 204.7L1145.0 233.7L1145.2 196.7L1145.5 212.0L1145.8 228.2L1146.0 233.8L1146.2 211.0L1146.5 189.0L1146.8 210.6L1147.0 204.6L1147.2 221.7L1147.5 225.8L1147.8 202.3L1148.0 233.0L1148.2 206.0L1148.5 206.1L1148.8 194.9L1149.0 223.3L1149.2 199.3L1149.5 226.9L1149.8 220.0L1150.0 220.8L1150.2 214.1L1150.5 214.2L1150.8 239.4L1151.0 218.1L1151.2 210.7L1151.5 195.9L1151.8 226.1L1152.0 212.7L1152.2 246.2L1152.5 202.6L1152.8 201.9L1153.0 232.9L1153.2 232.3L1153.5 236.9L1153.8 203.5L1154.0 205.0L1154.2 202.1L1154.5 206.9L1154.8 232.7L1155.0 228.3L1155.2 254.3L1155.5 203.6L1155.8 223.3L1156.0 217.4L1156.2 234.0L1156.5 212.7L1156.8 200.4L1157.0 200.5L1157.2 228.6L1157.5 218.9L1157.8 235.5L1158.0 223.0L1158.2 215.9L1158.5 210.9L1158.8 210.2L1159.0 234.5L1159.2 227.0L1159.5 213.3L1159.8 216.4L1160.0 201.6L1160.2 216.8L1160.5 232.4L1160.8 216.5L1161.0 198.0L1161.2 241.4L1161.5 231.2L1161.8 227.6L1162.0 239.8L1162.2 239.5L1162.5 191.0L1162.8 202.2L1163.0 219.1L1163.2 227.6L1163.5 254.2L1163.8 231.9L1164.0 229.9L1164.2 228.9L1164.5 222.0L1164.8 219.1L1165.0 219.0L1165.2 215.3L1165.5 212.7L1165.8 202.6L1166.0 209.2L1166.2 236.0L1166.5 226.3L1166.8 211.2L1167.0 228.4L1167.2 228.1L1167.5 225.5L1167.8 230.8L1168.0 230.5L1168.2 215.6L1168.5 233.2L1168.8 229.9L1169.0 218.1L1169.2 229.1L1169.5 242.4L1169.8 219.2L1170.0 236.7L1170.2 249.2L1170.5 217.1L1170.8 248.1L1171.0 223.1L1171.2 224.0L1171.5 227.1L1171.8 237.8L1172.0 251.8L1172.2 246.2L1172.5 219.9L1172.8 199.1L1173.0 205.1L1173.2 225.7L1173.5 207.8L1173.8 225.9L1174.0 227.7L1174.2 215.9L1174.5 236.4L1174.8 236.7L1175.0 227.4L1175.2 237.2L1175.5 233.8L1175.8 219.8L1176.0 219.8L1176.2 230.2L1176.5 231.1L1176.8 226.8L1177.0 215.1L1177.2 228.5L1177.5 236.4L1177.8 195.8L1178.0 236.1L1178.2 225.8L1178.5 237.2L1178.8 245.5L1179.0 217.1L1179.2 226.7L1179.5 228.8L1179.8 233.2L1180.0 246.9L1180.2 220.9L1180.5 219.8L1180.8 219.0L1181.0 255.8L1181.2 225.4L1181.5 218.4L1181.8 231.4L1182.0 227.3L1182.2 237.0L1182.5 242.5L1182.8 220.1L1183.0 240.2L1183.2 205.7L1183.5 245.1L1183.8 224.2L1184.0 233.9L1184.2 266.5L1184.5 241.8L1184.8 224.3L1185.0 265.6L1185.2 247.4L1185.5 233.2L1185.8 229.5L1186.0 229.2L1186.2 219.1L1186.5 224.3L1186.8 223.6L1187.0 217.5L1187.2 254.7L1187.5 221.9L1187.8 250.8L1188.0 225.7L1188.2 206.3L1188.5 240.9L1188.8 223.9L1189.0 213.5L1189.2 247.5L1189.5 222.5L1189.8 244.9L1190.0 235.5L1190.2 239.1L1190.5 233.6L1190.8 226.2L1191.0 243.2L1191.2 265.0L1191.5 236.6L1191.8 246.7L1192.0 207.9L1192.2 229.3L1192.5 226.4L1192.8 225.1L1193.0 228.1L1193.2 220.2L1193.5 231.2L1193.8 248.4L1194.0 239.6L1194.2 261.1L1194.5 225.8L1194.8 237.8L1195.0 247.2L1195.2 242.2L1195.5 210.3L1195.8 227.4L1196.0 243.5L1196.2 228.8L1196.5 240.8L1196.8 237.3L1197.0 228.0L1197.2 235.0L1197.5 256.2L1197.8 229.5L1198.0 250.1L1198.2 251.7L1198.5 234.8L1198.8 247.2L1199.0 228.2L1199.2 215.9L1199.5 232.1L1199.8 238.8L1200.0 221.5L1200.2 214.7L1200.5 212.7L1200.8 230.7L1201.0 242.7L1201.2 221.4L1201.5 225.8L1201.8 226.1L1202.0 260.3L1202.2 224.4L1202.5 240.4L1202.8 246.1L1203.0 245.7L1203.2 244.3L1203.5 219.0L1203.8 248.0L1204.0 242.3L1204.2 241.6L1204.5 234.9L1204.8 232.3L1205.0 250.8L1205.2 227.4L1205.5 264.7L1205.8 238.1L1206.0 255.3L1206.2 245.6L1206.5 236.8L1206.8 225.3L1207.0 228.3L1207.2 229.9L1207.5 249.1L1207.8 243.3L1208.0 240.6L1208.2 243.0L1208.5 246.0L1208.8 227.0L1209.0 234.2L1209.2 242.9L1209.5 257.5L1209.8 242.0L1210.0 211.1L1210.2 234.7L1210.5 222.4L1210.8 258.7L1211.0 262.2L1211.2 244.1L1211.5 236.8L1211.8 217.5L1212.0 215.3L1212.2 224.0L1212.5 222.5L1212.8 239.5L1213.0 236.9L1213.2 247.8L1213.5 251.2L1213.8 211.4L1214.0 229.1L1214.2 235.3L1214.5 227.2L1214.8 224.1L1215.0 243.9L1215.2 256.2L1215.5 221.7L1215.8 239.5L1216.0 233.4L1216.2 250.9L1216.5 250.4L1216.8 251.2L1217.0 229.1L1217.2 241.6L1217.5 252.6L1217.8 231.3L1218.0 261.6L1218.2 256.2L1218.5 252.9L1218.8 244.8L1219.0 259.9L1219.2 230.5L1219.5 261.0L1219.8 227.5L1220.0 257.9L1220.2 258.6L1220.5 244.1L1220.8 218.0L1221.0 257.3L1221.2 257.2L1221.5 246.2L1221.8 252.6L1222.0 280.3L1222.2 257.3L1222.5 250.1L1222.8 229.1L1223.0 229.6L1223.2 243.0L1223.5 240.0L1223.8 283.5L1224.0 243.5L1224.2 244.1L1224.5 238.7L1224.8 242.7L1225.0 239.2L1225.2 249.5L1225.5 238.8L1225.8 266.9L1226.0 263.0L1226.2 225.8L1226.5 265.2L1226.8 240.7L1227.0 245.6L1227.2 250.4L1227.5 231.2L1227.8 247.9L1228.0 241.0L1228.2 269.7L1228.5 216.5L1228.8 264.0L1229.0 234.2L1229.2 240.7L1229.5 235.8L1229.8 261.7L1230.0 228.4L1230.2 247.4L1230.5 249.0L1230.8 250.9L1231.0 250.5L1231.2 237.4L1231.5 246.2L1231.8 226.6L1232.0 247.3L1232.2 257.6L1232.5 258.1L1232.8 264.2L1233.0 238.8L1233.2 261.4L1233.5 246.7L1233.8 242.9L1234.0 233.7L1234.2 276.7L1234.5 244.1L1234.8 261.3L1235.0 236.9L1235.2 277.8L1235.5 245.5L1235.8 237.9L1236.0 232.0L1236.2 243.6L1236.5 234.7L1236.8 266.0L1237.0 249.8L1237.2 255.0L1237.5 241.1L1237.8 245.6L1238.0 258.4L1238.2 237.9L1238.5 244.9L1238.8 264.1L1239.0 246.0L1239.2 263.9L1239.5 234.4L1239.8 271.6L1240.0 269.3L1240.2 250.3L1240.5 238.3L1240.8 237.1L1241.0 260.9L1241.2 245.1L1241.5 262.4L1241.8 243.3L1242.0 264.8L1242.2 226.3L1242.5 268.9L1242.8 251.9L1243.0 255.3L1243.2 250.4L1243.5 243.4L1243.8 263.7L1244.0 265.4L1244.2 269.9L1244.5 235.2L1244.8 269.4L1245.0 249.3L1245.2 261.0L1245.5 250.5L1245.8 270.2L1246.0 278.3L1246.2 244.3L1246.5 258.6L1246.8 254.2L1247.0 258.8L1247.2 278.9L1247.5 255.0L1247.8 262.9L1248.0 262.7L1248.2 256.7L1248.5 263.4L1248.8 264.3L1249.0 278.4L1249.2 260.9L1249.5 256.1L1249.8 251.9L1250.0 251.4L1250.2 271.1L1250.5 271.9L1250.8 246.0L1251.0 257.1L1251.2 276.1L1251.5 270.8L1251.8 264.9L1252.0 267.4L1252.2 254.1L1252.5 246.3L1252.8 250.6L1253.0 275.0L1253.2 250.2L1253.5 274.9L1253.8 259.3L1254.0 241.3L1254.2 267.3L1254.5 258.3L1254.8 261.2L1255.0 270.8L1255.2 253.2L1255.5 270.0L1255.8 273.4L1256.0 259.1L1256.2 269.6L1256.5 262.4L1256.8 272.6L1257.0 269.2L1257.2 273.2L1257.5 275.3L1257.8 266.4L1258.0 275.1L1258.2 269.7L1258.5 259.8L1258.8 269.8L1259.0 264.2L1259.2 277.6L1259.5 263.1L1259.8 255.3L1260.0 259.5L1260.2 262.0L1260.5 284.3L1260.8 252.7L1261.0 267.4L1261.2 269.0L1261.5 280.6L1261.8 277.9L1262.0 257.0L1262.2 269.2L1262.5 282.6L1262.8 291.5L1263.0 280.2L1263.2 289.0L1263.5 284.4L1263.8 290.7L1264.0 289.9L1264.2 261.7L1264.5 263.6L1264.8 263.9L1265.0 257.1L1265.2 291.1L1265.5 252.6L1265.8 284.5L1266.0 277.8L1266.2 281.8L1266.5 281.8L1266.8 261.2L1267.0 269.4L1267.2 293.9L1267.5 280.8L1267.8 259.6L1268.0 272.6L1268.2 251.2L1268.5 265.9L1268.8 292.7L1269.0 289.0L1269.2 256.1L1269.5 266.3L1269.8 282.5L1270.0 275.0L1270.2 298.1L1270.5 291.4L1270.8 275.1L1271.0 274.1L1271.2 293.3L1271.5 277.3L1271.8 287.2L1272.0 295.9L1272.2 278.5L1272.5 282.8L1272.8 294.8L1273.0 299.2L1273.2 275.0L1273.5 267.2L1273.8 251.4L1274.0 293.0L1274.2 273.5L1274.5 288.6L1274.8 303.6L1275.0 277.0L1275.2 285.0L1275.5 288.2L1275.8 301.0L1276.0 261.3L1276.2 280.9L1276.5 281.4L1276.8 283.5L1277.0 280.6L1277.2 271.4L1277.5 264.0L1277.8 285.2L1278.0 294.1L1278.2 270.4L1278.5 285.0L1278.8 298.3L1279.0 263.8L1279.2 288.5L1279.5 288.2L1279.8 283.2L1280.0 317.4L1280.2 283.1L1280.5 265.9L1280.8 261.7L1281.0 293.5L1281.2 286.7L1281.5 279.8L1281.8 306.4L1282.0 317.8L1282.2 306.9L1282.5 280.4L1282.8 305.6L1283.0 294.7L1283.2 284.9L1283.5 287.5L1283.8 285.4L1284.0 295.6L1284.2 287.0L1284.5 274.8L1284.8 278.5L1285.0 307.4L1285.2 301.5L1285.5 321.2L1285.8 289.8L1286.0 305.6L1286.2 275.0L1286.5 301.8L1286.8 305.6L1287.0 310.5L1287.2 292.3L1287.5 290.8L1287.8 287.8L1288.0 276.7L1288.2 266.9L1288.5 292.0L1288.8 271.2L1289.0 290.7L1289.2 294.8L1289.5 288.7L1289.8 292.1L1290.0 304.7L1290.2 306.7L1290.5 304.4L1290.8 308.7L1291.0 300.6L1291.2 295.3L1291.5 274.8L1291.8 272.5L1292.0 311.1L1292.2 304.3L1292.5 306.9L1292.8 279.2L1293.0 320.1L1293.2 302.2L1293.5 309.4L1293.8 281.7L1294.0 303.4L1294.2 292.2L1294.5 286.0L1294.8 307.2L1295.0 308.3L1295.2 298.8L1295.5 295.3L1295.8 298.7L1296.0 305.3L1296.2 311.0L1296.5 279.6L1296.8 290.8L1297.0 289.0L1297.2 302.5L1297.5 296.8L1297.8 303.2L1298.0 294.8L1298.2 317.7L1298.5 300.5L1298.8 304.9L1299.0 290.7L1299.2 317.6L1299.5 331.5L1299.8 303.9L1300.0 325.7L1300.2 288.5L1300.5 293.3L1300.8 298.4L1301.0 319.6L1301.2 319.9L1301.5 303.7L1301.8 313.2L1302.0 303.3L1302.2 297.6L1302.5 310.9L1302.8 315.7L1303.0 309.0L1303.2 294.4L1303.5 288.3L1303.8 294.1L1304.0 322.1L1304.2 328.1L1304.5 300.9L1304.8 326.6L1305.0 295.2L1305.2 305.4L1305.5 288.1L1305.8 303.7L1306.0 288.0L1306.2 325.8L1306.5 289.5L1306.8 315.9L1307.0 293.5L1307.2 284.2L1307.5 316.5L1307.8 324.6L1308.0 334.1L1308.2 302.1L1308.5 309.5L1308.8 317.6L1309.0 325.3L1309.2 317.7L1309.5 314.3L1309.8 319.3L1310.0 322.7L1310.2 310.9L1310.5 321.7L1310.8 319.3L1311.0 312.1L1311.2 317.9L1311.5 304.9L1311.8 323.1L1312.0 315.8L1312.2 332.4L1312.5 312.5L1312.8 297.5L1313.0 336.0L1313.2 311.6L1313.5 306.7L1313.8 316.7L1314.0 319.7L1314.2 302.9L1314.5 293.0L1314.8 325.9L1315.0 303.8L1315.2 323.2L1315.5 316.4L1315.8 327.8L1316.0 299.7L1316.2 308.9L1316.5 327.5L1316.8 307.7L1317.0 302.9L1317.2 320.6L1317.5 321.7L1317.8 312.8L1318.0 326.6L1318.2 324.1L1318.5 332.8L1318.8 317.6L1319.0 305.9L1319.2 319.3L1319.5 313.7L1319.8 314.8L1320.0 312.5L1320.2 307.6L1320.5 331.1L1320.8 322.7L1321.0 325.0L1321.2 339.4L1321.5 304.8L1321.8 328.9L1322.0 313.1L1322.2 329.7L1322.5 299.7L1322.8 329.8L1323.0 307.0L1323.2 330.8L1323.5 310.3L1323.8 303.0L1324.0 330.9L1324.2 317.8L1324.5 311.3L1324.8 308.5L1325.0 320.2L1325.2 296.2L1325.5 306.1L1325.8 324.6L1326.0 319.2L1326.2 315.4L1326.5 331.1L1326.8 332.3L1327.0 317.0L1327.2 312.8L1327.5 310.8L1327.8 341.3L1328.0 320.2L1328.2 334.6L1328.5 318.6L1328.8 335.3L1329.0 326.6L1329.2 316.2L1329.5 304.4L1329.8 319.0L1330.0 340.3L1330.2 331.0L1330.5 312.2L1330.8 331.6L1331.0 325.2L1331.2 326.3L1331.5 315.0L1331.8 324.5L1332.0 307.9L1332.2 337.2L1332.5 328.1L1332.8 340.3L1333.0 319.7L1333.2 320.2L1333.5 330.4L1333.8 312.8L1334.0 305.1L1334.2 302.3L1334.5 323.2L1334.8 334.7L1335.0 341.1L1335.2 310.9L1335.5 328.2L1335.8 321.9L1336.0 326.1L1336.2 326.9L1336.5 335.1L1336.8 314.4L1337.0 317.1L1337.2 340.9L1337.5 330.4L1337.8 326.3L1338.0 323.0L1338.2 344.1L1338.5 340.4L1338.8 341.4L1339.0 308.6L1339.2 341.4L1339.5 317.1L1339.8 329.7L1340.0 334.2L1340.2 337.3L1340.5 322.2L1340.8 338.0L1341.0 331.5L1341.2 327.6L1341.5 316.7L1341.8 323.0L1342.0 297.1L1342.2 302.6L1342.5 327.9L1342.8 351.1L1343.0 311.0L1343.2 328.7L1343.5 334.7L1343.8 343.3L1344.0 333.7L1344.2 344.4L1344.5 317.4L1344.8 351.0L1345.0 312.9L1345.2 334.5L1345.5 343.3L1345.8 338.9L1346.0 328.7L1346.2 327.5L1346.5 328.3L1346.8 332.5L1347.0 324.9L1347.2 344.3L1347.5 310.6L1347.8 335.6L1348.0 335.9L1348.2 334.2L1348.5 321.9L1348.8 325.3L1349.0 317.2L1349.2 329.1L1349.5 331.7L1349.8 323.9L1350.0 319.3L1350.2 339.1L1350.5 337.1L1350.8 352.6L1351.0 330.4L1351.2 323.5L1351.5 357.0L1351.8 321.3L1352.0 337.2L1352.2 342.3L1352.5 336.5L1352.8 336.1L1353.0 342.3L1353.2 323.6L1353.5 353.9L1353.8 317.0L1354.0 323.2L1354.2 338.3L1354.5 344.1L1354.8 329.9L1355.0 335.7L1355.2 321.8L1355.5 349.0L1355.8 324.6L1356.0 324.1L1356.2 312.9L1356.5 349.8L1356.8 328.6L1357.0 329.1L1357.2 344.2L1357.5 337.6L1357.8 319.4L1358.0 343.4L1358.2 346.7L1358.5 328.3L1358.8 353.3L1359.0 316.8L1359.2 334.0L1359.5 327.1L1359.8 343.3L1360.0 330.5L1360.2 338.1L1360.5 322.2L1360.8 319.6L1361.0 322.5L1361.2 324.2L1361.5 333.3L1361.8 339.4L1362.0 327.7L1362.2 334.2L1362.5 334.6L1362.8 326.3L1363.0 335.7L1363.2 341.1L1363.5 328.1L1363.8 336.4L1364.0 335.5L1364.2 332.9L1364.5 338.0L1364.8 315.4L1365.0 344.1L1365.2 340.5L1365.5 345.6L1365.8 336.4L1366.0 334.8L1366.2 336.3L1366.5 354.7L1366.8 351.2L1367.0 339.0L1367.2 337.1L1367.5 350.0L1367.8 341.9L1368.0 345.5L1368.2 341.5L1368.5 340.6L1368.8 351.6L1369.0 363.8L1369.2 338.4L1369.5 353.2L1369.8 340.6L1370.0 349.0L1370.2 333.5L1370.5 337.3L1370.8 348.3L1371.0 353.0L1371.2 342.9L1371.5 347.4L1371.8 329.8L1372.0 336.8L1372.2 354.0L1372.5 346.6L1372.8 359.4L1373.0 320.8L1373.2 334.6L1373.5 330.3L1373.8 321.9L1374.0 341.6L1374.2 337.0L1374.5 336.7L1374.8 338.3L1375.0 332.8L1375.2 347.9L1375.5 341.0L1375.8 341.8L1376.0 334.8L1376.2 350.0L1376.5 336.6L1376.8 347.9L1377.0 345.2L1377.2 326.2L1377.5 360.5L1377.8 328.6L1378.0 334.2L1378.2 346.3L1378.5 322.4L1378.8 342.8L1379.0 345.3L1379.2 332.2L1379.5 341.8L1379.8 328.2L1380.0 339.5L1380.2 341.7L1380.5 336.2L1380.8 322.1L1381.0 343.9L1381.2 345.7L1381.5 342.8L1381.8 336.9L1382.0 340.6L1382.2 353.4L1382.5 342.5L1382.8 337.7L1383.0 327.6L1383.2 357.9L1383.5 349.4L1383.8 338.1L1384.0 333.9L1384.2 352.9L1384.5 333.7L1384.8 351.6L1385.0 345.0L1385.2 338.8L1385.5 312.7L1385.8 331.6L1386.0 341.1L1386.2 339.7L1386.5 334.1L1386.8 351.8L1387.0 327.9L1387.2 358.2L1387.5 323.6L1387.8 342.3L1388.0 340.8L1388.2 324.8L1388.5 347.5L1388.8 340.1L1389.0 351.9L1389.2 334.8L1389.5 327.5L1389.8 337.7L1390.0 339.0L1390.2 350.7L1390.5 346.4L1390.8 334.0L1391.0 352.2L1391.2 336.9L1391.5 362.3L1391.8 331.4L1392.0 346.1L1392.2 355.0L1392.5 339.0L1392.8 346.9L1393.0 340.9L1393.2 340.4L1393.5 356.7L1393.8 335.5L1394.0 348.7L1394.2 358.5L1394.5 333.2L1394.8 327.6L1395.0 340.2L1395.2 340.6L1395.5 340.5L1395.8 354.2L1396.0 338.0L1396.2 348.5L1396.5 346.0L1396.8 349.4L1397.0 355.9L1397.2 344.0L1397.5 343.3L1397.8 351.5L1398.0 335.0L1398.2 332.8L1398.5 333.0L1398.8 332.1L1399.0 317.8L1399.2 337.5L1399.5 345.7L1399.8 347.0L1400.0 340.0L1400.2 345.7L1400.5 343.4L1400.8 340.5L1401.0 341.1L1401.2 346.5L1401.5 352.3L1401.8 345.9L1402.0 340.0L1402.2 351.4L1402.5 347.3L1402.8 338.9L1403.0 357.3L1403.2 331.7L1403.5 359.8L1403.8 355.4L1404.0 363.0L1404.2 342.4L1404.5 332.0L1404.8 350.8L1405.0 346.3L1405.2 354.1L1405.5 358.2L1405.8 342.9L1406.0 349.3L1406.2 339.4L1406.5 353.5L1406.8 324.5L1407.0 342.1L1407.2 346.0L1407.5 346.7L1407.8 348.3L1408.0 334.7L1408.2 341.0L1408.5 350.7L1408.8 350.5L1409.0 335.9L1409.2 348.7L1409.5 353.3L1409.8 342.5L1410.0 346.0L1410.2 343.5L1410.5 353.6L1410.8 345.6L1411.0 348.2L1411.2 346.2L1411.5 354.9L1411.8 353.9L1412.0 356.5L1412.2 358.3L1412.5 357.6L1412.8 341.9L1413.0 347.9L1413.2 358.7L1413.5 351.2L1413.8 352.3L1414.0 331.4L1414.2 333.8L1414.5 340.5L1414.8 342.2L1415.0 329.2L1415.2 344.2L1415.5 332.7L1415.8 332.5L1416.0 367.3L1416.2 349.1L1416.5 333.2L1416.8 346.2L1417.0 360.5L1417.2 360.0L1417.5 346.7L1417.8 336.2L1418.0 347.6L1418.2 336.8L1418.5 342.8L1418.8 336.7L1419.0 356.3L1419.2 336.8L1419.5 349.4L1419.8 347.9L1420.0 362.2L1420.2 350.1L1420.5 346.0L1420.8 355.3L1421.0 331.9L1421.2 362.9L1421.5 359.4L1421.8 359.1L1422.0 350.0L1422.2 339.3L1422.5 348.1L1422.8 339.4L1423.0 368.8L1423.2 342.5L1423.5 351.4L1423.8 338.1L1424.0 352.0L1424.2 369.0L1424.5 350.3L1424.8 343.2L1425.0 335.9L1425.2 351.2L1425.5 354.9L1425.8 348.8L1426.0 359.7L1426.2 336.9L1426.5 354.4L1426.8 357.0L1427.0 360.1L1427.2 365.9L1427.5 352.2L1427.8 340.0L1428.0 360.9L1428.2 353.6L1428.5 349.4L1428.8 335.1L1429.0 343.5L1429.2 363.8L1429.5 374.1L1429.8 348.2L1430.0 348.5L1430.2 361.0L1430.5 361.3L1430.8 339.0L1431.0 341.4L1431.2 369.1L1431.5 357.9L1431.8 348.1L1432.0 345.3L1432.2 376.7L1432.5 334.7L1432.8 350.3L1433.0 359.4L1433.2 352.3L1433.5 347.6L1433.8 354.1L1434.0 349.7L1434.2 356.5L1434.5 341.3L1434.8 336.6L1435.0 352.9L1435.2 345.6L1435.5 349.2L1435.8 360.1L1436.0 351.1L1436.2 347.1L1436.5 348.4L1436.8 344.2L1437.0 370.0L1437.2 344.5L1437.5 348.8L1437.8 344.0L1438.0 360.1L1438.2 347.7L1438.5 352.9L1438.8 344.9L1439.0 354.8L1439.2 352.3L1439.5 341.3L1439.8 356.7L1440.0 341.6L1440.2 366.2L1440.5 345.3L1440.8 357.5L1441.0 348.0L1441.2 340.6L1441.5 361.5L1441.8 339.4L1442.0 344.8L1442.2 346.4L1442.5 363.0L1442.8 351.7L1443.0 352.4L1443.2 370.9L1443.5 356.8L1443.8 362.5L1444.0 346.4L1444.2 328.4L1444.5 344.0L1444.8 361.8L1445.0 343.5L1445.2 339.2L1445.5 368.6L1445.8 354.9L1446.0 359.0L1446.2 344.3L1446.5 353.8L1446.8 353.4L1447.0 364.5L1447.2 365.4L1447.5 365.9L1447.8 340.6L1448.0 359.1L1448.2 355.9L1448.5 344.6L1448.8 344.1L1449.0 369.4L1449.2 343.5L1449.5 357.7L1449.8 352.0L1450.0 359.9L1450.2 344.7L1450.5 358.2L1450.8 349.9L1451.0 357.4L1451.2 361.9L1451.5 352.1L1451.8 327.8L1452.0 357.8L1452.2 365.4L1452.5 356.1L1452.8 363.8L1453.0 365.6L1453.2 356.4L1453.5 354.4L1453.8 354.2L1454.0 357.6L1454.2 357.5L1454.5 342.9L1454.8 358.9L1455.0 365.3L1455.2 358.7L1455.5 339.0L1455.8 358.8L1456.0 350.6L1456.2 358.3L1456.5 354.9L1456.8 354.5L1457.0 354.2L1457.2 352.8L1457.5 358.8L1457.8 344.4L1458.0 351.2L1458.2 347.0L1458.5 344.3L1458.8 343.1L1459.0 357.0L1459.2 361.8L1459.5 346.8L1459.8 352.9L1460.0 356.6L1460.2 346.0L1460.5 347.1L1460.8 370.8L1461.0 357.5L1461.2 364.0L1461.5 360.8L1461.8 350.5L1462.0 342.1L1462.2 356.3L1462.5 350.5L1462.8 344.7L1463.0 355.5L1463.2 361.9L1463.5 367.1L1463.8 347.6L1464.0 358.0L1464.2 352.2L1464.5 357.4L1464.8 348.7L1465.0 360.5L1465.2 348.7L1465.5 346.2L1465.8 363.9L1466.0 355.2L1466.2 362.8L1466.5 351.5L1466.8 356.4L1467.0 363.1L1467.2 372.5L1467.5 356.6L1467.8 348.7L1468.0 360.6L1468.2 357.8L1468.5 359.9L1468.8 341.5L1469.0 352.9L1469.2 355.6L1469.5 344.9L1469.8 353.5L1470.0 340.6L1470.2 358.3L1470.5 347.7L1470.8 357.3L1471.0 351.7L1471.2 370.3L1471.5 375.7L1471.8 346.7L1472.0 355.1L1472.2 347.7L1472.5 379.5L1472.8 352.1L1473.0 358.0L1473.2 351.0L1473.5 359.7L1473.8 364.2L1474.0 369.4L1474.2 353.1L1474.5 349.6L1474.8 363.4L1475.0 365.1L1475.2 359.3L1475.5 362.5L1475.8 351.5L1476.0 358.2L1476.2 349.7L1476.5 357.9L1476.8 349.0L1477.0 364.0L1477.2 368.3L1477.5 357.1L1477.8 338.7L1478.0 357.7L1478.2 353.8L1478.5 347.2L1478.8 348.8L1479.0 367.2L1479.2 356.5L1479.5 358.1L1479.8 361.4L1480.0 356.2L1480.2 352.9L1480.5 354.3L1480.8 363.0L1481.0 350.5L1481.2 347.2L1481.5 366.4L1481.8 357.7L1482.0 351.7L1482.2 353.5L1482.5 350.7L1482.8 356.5L1483.0 361.1L1483.2 370.7L1483.5 371.1L1483.8 343.7L1484.0 373.1L1484.2 358.8L1484.5 360.9L1484.8 354.8L1485.0 348.2L1485.2 347.8L1485.5 351.1L1485.8 346.1L1486.0 370.1L1486.2 361.4L1486.5 371.6L1486.8 359.6L1487.0 344.0L1487.2 369.8L1487.5 357.1L1487.8 348.0L1488.0 358.2L1488.2 362.2L1488.5 347.0L1488.8 355.3L1489.0 356.2L1489.2 370.7L1489.5 360.7L1489.8 371.8L1490.0 355.4L1490.2 365.9L1490.5 352.7L1490.8 356.4L1491.0 366.8L1491.2 375.1L1491.5 364.4L1491.8 364.2L1492.0 363.4L1492.2 358.1L1492.5 369.2L1492.8 372.8L1493.0 360.1L1493.2 355.6L1493.5 351.2L1493.8 366.0L1494.0 363.4L1494.2 356.5L1494.5 366.1L1494.8 341.8L1495.0 375.3L1495.2 342.2L1495.5 364.9L1495.8 353.6L1496.0 369.2L1496.2 356.5L1496.5 352.3L1496.8 360.3L1497.0 376.0L1497.2 367.2L1497.5 364.9L1497.8 367.4L1498.0 371.0L1498.2 359.8L1498.5 349.3L1498.8 367.1L1499.0 359.7L1499.2 371.2L1499.5 356.5L1499.8 355.9L1500.0 357.9L1500.2 369.3L1500.5 372.7L1500.8 356.8L1501.0 366.1L1501.2 368.5L1501.5 355.9L1501.8 349.3L1502.0 363.9L1502.2 355.1L1502.5 343.9L1502.8 354.8L1503.0 364.3L1503.2 346.7L1503.5 349.1L1503.8 350.1L1504.0 374.4L1504.2 363.0L1504.5 358.3L1504.8 349.2L1505.0 360.0L1505.2 359.4L1505.5 354.1L1505.8 372.1L1506.0 345.9L1506.2 365.5L1506.5 360.4L1506.8 358.8L1507.0 373.6L1507.2 359.6L1507.5 381.3L1507.8 374.4L1508.0 373.5L1508.2 356.0L1508.5 348.1L1508.8 364.3L1509.0 350.1L1509.2 362.9L1509.5 349.2L1509.8 369.7L1510.0 349.0L1510.2 355.2L1510.5 349.1L1510.8 364.2L1511.0 370.7L1511.2 359.4L1511.5 370.6L1511.8 350.6L1512.0 346.2L1512.2 369.1L1512.5 368.0L1512.8 367.5L1513.0 368.6L1513.2 357.1L1513.5 362.7L1513.8 357.7L1514.0 351.4L1514.2 346.1L1514.5 368.7L1514.8 348.4L1515.0 360.5L1515.2 354.8L1515.5 346.1L1515.8 356.8L1516.0 342.1L1516.2 345.9L1516.5 354.0L1516.8 379.7L1517.0 362.7L1517.2 348.8L1517.5 352.8L1517.8 362.7L1518.0 365.8L1518.2 371.2L1518.5 359.1L1518.8 361.2L1519.0 368.1L1519.2 356.8L1519.5 353.2L1519.8 369.9L1520.0 359.1L1520.2 363.2L1520.5 348.4L1520.8 353.6L1521.0 360.0L1521.2 357.6L1521.5 358.6L1521.8 368.6L1522.0 350.6L1522.2 370.7L1522.5 363.5L1522.8 350.4L1523.0 373.2L1523.2 369.4L1523.5 361.2L1523.8 356.3L1524.0 362.7L1524.2 377.7L1524.5 356.3L1524.8 364.4L1525.0 354.0L1525.2 349.8L1525.5 367.1L1525.8 352.5L1526.0 360.5L1526.2 362.6L1526.5 359.4L1526.8 358.8L1527.0 348.7L1527.2 360.4L1527.5 360.1L1527.8 369.2L1528.0 363.6L1528.2 351.2L1528.5 372.8L1528.8 359.1L1529.0 376.6L1529.2 367.3L1529.5 355.5L1529.8 363.2L1530.0 366.2L1530.2 361.9L1530.5 371.9L1530.8 363.8L1531.0 356.6L1531.2 369.0L1531.5 340.3L1531.8 352.1L1532.0 345.3L1532.2 364.6L1532.5 362.9L1532.8 364.9L1533.0 352.7L1533.2 361.7L1533.5 366.6L1533.8 372.7L1534.0 358.8L1534.2 368.6L1534.5 360.4L1534.8 359.9L1535.0 352.6L1535.2 363.1L1535.5 363.5L1535.8 369.9L1536.0 366.5L1536.2 356.0L1536.5 372.5L1536.8 362.5L1537.0 366.8L1537.2 360.1L1537.5 356.5L1537.8 375.9L1538.0 344.9L1538.2 374.0L1538.5 379.1L1538.8 367.8L1539.0 362.9L1539.2 366.7L1539.5 365.0L1539.8 364.7L1540.0 373.1L1540.2 369.9L1540.5 366.0L1540.8 368.0L1541.0 360.0L1541.2 360.9L1541.5 357.7L1541.8 361.7L1542.0 355.1L1542.2 353.0L1542.5 365.3L1542.8 363.7L1543.0 360.9L1543.2 363.5L1543.5 354.2L1543.8 367.5L1544.0 367.3L1544.2 360.1L1544.5 353.4L1544.8 359.1L1545.0 380.3L1545.2 361.4L1545.5 373.0L1545.8 357.4L1546.0 367.9L1546.2 361.5L1546.5 373.8L1546.8 362.2L1547.0 372.7L1547.2 362.8L1547.5 361.2L1547.8 370.7L1548.0 357.8L1548.2 355.2L1548.5 363.4L1548.8 357.9L1549.0 370.2L1549.2 362.8L1549.5 365.0L1549.8 368.4L1550.0 360.5L1550.2 358.3L1550.5 368.9L1550.8 353.1L1551.0 364.8L1551.2 360.3L1551.5 363.4L1551.8 369.6L1552.0 377.0L1552.2 368.9L1552.5 370.4L1552.8 376.3L1553.0 351.3L1553.2 356.5L1553.5 358.2L1553.8 365.1L1554.0 365.4L1554.2 349.3L1554.5 358.3L1554.8 371.6L1555.0 380.2L1555.2 377.8L1555.5 372.9L1555.8 359.6L1556.0 363.5L1556.2 362.6L1556.5 372.0L1556.8 375.2L1557.0 364.4L1557.2 359.5L1557.5 364.8L1557.8 385.8L1558.0 361.6L1558.2 355.1L1558.5 347.0L1558.8 364.9L1559.0 376.5L1559.2 348.7L1559.5 357.7L1559.8 351.1L1560.0 365.8L1560.2 356.2L1560.5 364.5L1560.8 359.3L1561.0 386.6L1561.2 379.1L1561.5 379.9L1561.8 351.6L1562.0 369.7L1562.2 356.1L1562.5 370.9L1562.8 359.1L1563.0 366.3L1563.2 375.2L1563.5 359.1L1563.8 369.4L1564.0 359.4L1564.2 364.4L1564.5 361.2L1564.8 373.8L1565.0 363.5L1565.2 373.0L1565.5 372.9L1565.8 361.2L1566.0 360.4L1566.2 359.1L1566.5 373.2L1566.8 378.4L1567.0 368.8L1567.2 368.5L1567.5 366.1L1567.8 371.6L1568.0 373.1L1568.2 369.0L1568.5 351.9L1568.8 357.1L1569.0 365.9L1569.2 359.0L1569.5 362.5L1569.8 362.9L1570.0 370.0L1570.2 376.0L1570.5 363.8L1570.8 368.1L1571.0 363.5L1571.2 356.8L1571.5 366.0L1571.8 358.4L1572.0 360.4L1572.2 356.0L1572.5 364.9L1572.8 373.2L1573.0 379.2L1573.2 373.8L1573.5 361.8L1573.8 368.5L1574.0 355.9L1574.2 360.1L1574.5 366.7L1574.8 368.0L1575.0 371.8L1575.2 366.1L1575.5 363.7L1575.8 361.3L1576.0 372.4L1576.2 362.5L1576.5 363.4L1576.8 372.5L1577.0 376.8L1577.2 372.5L1577.5 373.2L1577.8 368.3L1578.0 376.4L1578.2 380.2L1578.5 375.4L1578.8 369.0L1579.0 372.6L1579.2 367.6L1579.5 363.6L1579.8 374.8L1580.0 356.5L1580.2 370.7L1580.5 372.6L1580.8 374.9L1581.0 362.1L1581.2 361.9L1581.5 369.8L1581.8 375.9L1582.0 382.0L1582.2 359.6L1582.5 364.2L1582.8 375.4L1583.0 359.0L1583.2 367.4L1583.5 379.5L1583.8 362.3L1584.0 368.2L1584.2 366.9L1584.5 367.5L1584.8 371.0L1585.0 366.7L1585.2 372.2L1585.5 380.0L1585.8 365.7L1586.0 373.2L1586.2 361.2L1586.5 374.6L1586.8 364.6L1587.0 365.3L1587.2 370.1L1587.5 375.9L1587.8 359.7L1588.0 377.7L1588.2 370.2L1588.5 378.1L1588.8 366.4L1589.0 368.6L1589.2 368.7L1589.5 362.8L1589.8 364.0L1590.0 369.2L1590.2 362.8L1590.5 357.6L1590.8 365.8L1591.0 360.8L1591.2 361.0L1591.5 373.9L1591.8 356.9L1592.0 359.6L1592.2 376.8L1592.5 387.1L1592.8 364.0L1593.0 354.2L1593.2 377.6L1593.5 373.5L1593.8 375.9L1594.0 371.4L1594.2 375.4L1594.5 368.7L1594.8 374.7L1595.0 376.5L1595.2 371.5L1595.5 368.3L1595.8 370.8L1596.0 364.1L1596.2 367.6L1596.5 373.2L1596.8 362.7L1597.0 360.8L1597.2 372.6L1597.5 380.4L1597.8 369.2L1598.0 373.8L1598.2 375.9L1598.5 351.6L1598.8 360.6L1599.0 369.1L1599.2 374.0L1599.5 374.0L1599.8 374.3L1600.0 365.5L1600.2 363.6L1600.5 368.2L1600.8 367.0L1601.0 363.1L1601.2 371.4L1601.5 357.0L1601.8 371.0L1602.0 376.0L1602.2 373.8L1602.5 359.4L1602.8 366.8L1603.0 367.5L1603.2 356.9L1603.5 374.6L1603.8 367.2L1604.0 370.7L1604.2 365.4L1604.5 363.9L1604.8 363.4L1605.0 364.1L1605.2 382.8L1605.5 367.2L1605.8 366.5L1606.0 372.7L1606.2 373.2L1606.5 361.6L1606.8 363.8L1607.0 373.8L1607.2 371.4L1607.5 370.7L1607.8 381.4L1608.0 378.2L1608.2 369.7L1608.5 365.0L1608.8 360.0L1609.0 364.0L1609.2 378.6L1609.5 370.6L1609.8 364.0L1610.0 385.7L1610.2 380.4L1610.5 358.1L1610.8 358.0L1611.0 366.6L1611.2 377.1L1611.5 371.3L1611.8 371.4L1612.0 367.5L1612.2 363.5L1612.5 361.0L1612.8 383.4L1613.0 374.9L1613.2 365.4L1613.5 375.2L1613.8 364.9L1614.0 360.9L1614.2 364.4L1614.5 376.1L1614.8 376.2L1615.0 372.0L1615.2 366.2L1615.5 363.3L1615.8 365.2L1616.0 366.3L1616.2 363.4L1616.5 375.0L1616.8 358.5L1617.0 363.1L1617.2 373.8L1617.5 377.7L1617.8 374.7L1618.0 367.3L1618.2 369.1L1618.5 362.3L1618.8 376.7L1619.0 362.0L1619.2 373.6L1619.5 358.7L1619.8 370.7L1620.0 374.3L1620.2 366.5L1620.5 365.8L1620.8 367.7L1621.0 371.5L1621.2 363.6L1621.5 368.4L1621.8 369.1L1622.0 373.4L1622.2 361.9L1622.5 371.4L1622.8 372.6L1623.0 371.0L1623.2 359.2L1623.5 368.4L1623.8 358.4L1624.0 365.3L1624.2 367.7L1624.5 364.8L1624.8 366.6L1625.0 374.0L1625.2 363.9L1625.5 360.7L1625.8 372.4L1626.0 361.8L1626.2 366.2L1626.5 372.9L1626.8 378.9L1627.0 365.6L1627.2 364.8L1627.5 361.7L1627.8 374.3L1628.0 373.5"/>
<path stroke="#f00" d="M921.5 397.4L921.8 386.9L922.0 392.8L922.2 393.8L922.5 390.5L922.8 388.9L923.0 387.5L923.2 401.7L923.5 394.4L923.8 378.6L924.0 387.5L924.2 400.5L924.5 380.6L924.8 397.4L925.0 396.7L925.2 395.4L925.5 404.5L925.8 395.1L926.0 398.2L926.2 384.0L926.5 391.1L926.8 380.6L927.0 388.0L927.2 390.5L927.5 385.0L927.8 400.3L928.0 390.3L928.2 393.9L928.5 390.0L928.8 389.9L929.0 396.5L929.2 382.0L929.5 390.0L929.8 401.8L930.0 392.0L930.2 381.0L930.5 390.4L930.8 391.2L931.0 385.4L931.2 397.1L931.5 403.9L931.8 399.8L932.0 400.0L932.2 393.1L932.5 399.1L932.8 394.2L933.0 397.9L933.2 401.2L933.5 387.4L933.8 406.1L934.0 399.3L934.2 392.7L934.5 397.0L934.8 392.5L935.0 397.1L935.2 382.7L935.5 382.4L935.8 389.0L936.0 398.6L936.2 401.9L936.5 400.2L936.8 399.9L937.0 398.5L937.2 398.5L937.5 389.1L937.8 395.6L938.0 396.2L938.2 385.5L938.5 392.2L938.8 392.8L939.0 395.8L939.2 395.3L939.5 395.5L939.8 398.1L940.0 397.4L940.2 400.3L940.5 396.7L940.8 384.3L941.0 403.8L941.2 396.5L941.5 400.8L941.8 385.1L942.0 402.1L942.2 395.8L942.5 394.0L942.8 384.6L943.0 390.5L943.2 404.0L943.5 405.2L943.8 384.8L944.0 395.9L944.2 383.5L944.5 400.2L944.8 396.1L945.0 387.8L945.2 398.0L945.5 403.1L945.8 398.8L946.0 389.4L946.2 399.1L946.5 399.3L946.8 388.8L947.0 407.9L947.2 399.6L947.5 393.3L947.8 400.1L948.0 382.5L948.2 397.0L948.5 406.1L948.8 393.0L949.0 389.5L949.2 399.8L949.5 395.4L949.8 397.5L950.0 394.3L950.2 406.4L950.5 392.4L950.8 387.7L951.0 393.4L951.2 398.5L951.5 395.7L951.8 405.5L952.0 388.0L952.2 392.0L952.5 382.5L952.8 402.9L953.0 398.4L953.2 399.1L953.5 392.7L953.8 382.7L954.0 382.7L954.2 393.2L954.5 392.7L954.8 392.1L955.0 383.7L955.2 400.3L955.5 403.1L955.8 399.4L956.0 377.2L956.2 388.7L956.5 389.4L956.8 390.1L957.0 399.6L957.2 382.1L957.5 390.2L957.8 393.4L958.0 397.6L958.2 375.7L958.5 390.0L958.8 392.5L959.0 371.0L959.2 377.9L959.5 389.6L959.8 395.4L960.0 374.0L960.2 385.0L960.5 377.8L960.8 384.3L961.0 390.8L961.2 386.7L961.5 402.8L961.8 392.1L962.0 388.4L962.2 388.8L962.5 396.2L962.8 387.7L963.0 388.4L963.2 382.4L963.5 392.5L963.8 377.3L964.0 390.3L964.2 390.2L964.5 381.5L964.8 382.0L965.0 375.9L965.2 391.9L965.5 396.7L965.8 382.0L966.0 390.0L966.2 401.0L966.5 382.1L966.8 394.9L967.0 399.7L967.2 389.3L967.5 379.0L967.8 392.4L968.0 373.6L968.2 386.3L968.5 379.6L968.8 378.2L969.0 396.5L969.2 369.5L969.5 386.3L969.8 375.6L970.0 376.4L970.2 379.1L970.5 380.7L970.8 390.2L971.0 396.4L971.2 381.1L971.5 384.3L971.8 385.7L972.0 372.7L972.2 372.6L972.5 380.7L972.8 381.0L973.0 389.1L973.2 374.5L973.5 384.8L973.8 389.3L974.0 384.3L974.2 388.8L974.5 375.5L974.8 380.1L975.0 373.4L975.2 382.3L975.5 380.1L975.8 374.3L976.0 383.7L976.2 390.1L976.5 385.4L976.8 371.2L977.0 377.8L977.2 379.2L977.5 364.6L977.8 363.8L978.0 375.2L978.2 364.6L978.5 378.3L978.8 378.0L979.0 366.1L979.2 380.8L979.5 370.1L979.8 374.9L980.0 378.8L980.2 371.1L980.5 384.6L980.8 381.5L981.0 370.1L981.2 376.4L981.5 373.0L981.8 365.2L982.0 375.4L982.2 361.2L982.5 368.3L982.8 378.8L983.0 377.0L983.2 365.8L983.5 367.3L983.8 384.3L984.0 362.3L984.2 370.4L984.5 364.4L984.8 356.5L985.0 365.6L985.2 368.3L985.5 359.9L985.8 359.3L986.0 360.3L986.2 357.7L986.5 375.1L986.8 353.0L987.0 364.3L987.2 365.0L987.5 354.6L987.8 373.4L988.0 379.9L988.2 390.6L988.5 365.9L988.8 363.9L989.0 355.8L989.2 372.8L989.5 359.2L989.8 369.0L990.0 365.4L990.2 359.6L990.5 351.4L990.8 375.4L991.0 376.9L991.2 368.1L991.5 356.0L991.8 362.1L992.0 368.7L992.2 371.9L992.5 372.2L992.8 360.6L993.0 344.5L993.2 365.8L993.5 349.2L993.8 349.1L994.0 362.4L994.2 364.9L994.5 350.1L994.8 349.7L995.0 348.1L995.2 343.7L995.5 355.6L995.8 361.3L996.0 344.5L996.2 357.0L996.5 340.0L996.8 347.4L997.0 347.8L997.2 344.8L997.5 363.7L997.8 345.4L998.0 343.4L998.2 338.2L998.5 330.8L998.8 356.4L999.0 356.9L999.2 330.8L999.5 349.8L999.8 354.1L1000.0 352.2L1000.2 339.1L1000.5 332.7L1000.8 347.1L1001.0 345.5L1001.2 339.8L1001.5 323.8L1001.8 339.0L1002.0 364.4L1002.2 343.0L1002.5 346.1L1002.8 327.5L1003.0 329.8L1003.2 326.9L1003.5 330.7L1003.8 337.1L1004.0 322.6L1004.2 328.3L1004.5 330.2L1004.8 340.2L1005.0 324.0L1005.2 346.3L1005.5 343.5L1005.8 326.8L1006.0 334.6L1006.2 328.5L1006.5 329.1L1006.8 330.6L1007.0 320.2L1007.2 325.7L1007.5 324.3L1007.8 331.7L1008.0 319.3L1008.2 325.3L1008.5 317.1L1008.8 323.0L1009.0 319.8L1009.2 316.4L1009.5 335.4L1009.8 324.6L1010.0 333.5L1010.2 325.7L1010.5 309.1L1010.8 311.1L1011.0 328.4L1011.2 303.9L1011.5 299.8L1011.8 306.6L1012.0 321.2L1012.2 314.9L1012.5 309.7L1012.8 321.8L1013.0 307.7L1013.2 313.6L1013.5 314.9L1013.8 313.2L1014.0 322.8L1014.2 296.0L1014.5 318.4L1014.8 317.5L1015.0 302.1L1015.2 305.0L1015.5 296.2L1015.8 310.9L1016.0 310.2L1016.2 313.2L1016.5 297.6L1016.8 292.3L1017.0 304.9L1017.2 321.8L1017.5 286.7L1017.8 300.7L1018.0 301.5L1018.2 292.9L1018.5 298.8L1018.8 307.1L1019.0 295.2L1019.2 290.9L1019.5 299.6L1019.8 291.8L1020.0 278.1L1020.2 297.0L1020.5 300.6L1020.8 281.3L1021.0 287.5L1021.2 293.2L1021.5 279.3L1021.8 279.5L1022.0 297.8L1022.2 287.9L1022.5 282.2L1022.8 294.2L1023.0 303.3L1023.2 313.1L1023.5 298.3L1023.8 301.9L1024.0 268.9L1024.2 284.4L1024.5 303.6L1024.8 276.2L1025.0 273.3L1025.2 285.0L1025.5 288.9L1025.8 298.6L1026.0 279.6L1026.2 290.9L1026.5 287.7L1026.8 299.3L1027.0 283.2L1027.2 299.4L1027.5 287.4L1027.8 267.8L1028.0 292.2L1028.2 299.0L1028.5 274.4L1028.8 294.6L1029.0 275.0L1029.2 291.7L1029.5 273.0L1029.8 287.0L1030.0 286.8L1030.2 282.3L1030.5 279.4L1030.8 287.1L1031.0 277.1L1031.2 269.9L1031.5 273.4L1031.8 275.8L1032.0 283.6L1032.2 290.5L1032.5 285.0L1032.8 274.9L1033.0 282.7L1033.2 269.0L1033.5 260.3L1033.8 266.4L1034.0 243.7L1034.2 248.4L1034.5 266.5L1034.8 283.7L1035.0 279.5L1035.2 274.6L1035.5 262.7L1035.8 260.4L1036.0 274.5L1036.2 285.8L1036.5 269.6L1036.8 280.3L1037.0 268.8L1037.2 294.0L1037.5 251.7L1037.8 288.1L1038.0 287.9L1038.2 255.9L1038.5 260.6L1038.8 262.3L1039.0 261.3L1039.2 273.8L1039.5 269.9L1039.8 283.2L1040.0 284.7L1040.2 270.4L1040.5 260.1L1040.8 266.3L1041.0 285.0L1041.2 294.4L1041.5 261.7L1041.8 274.1L1042.0 277.2L1042.2 257.6L1042.5 259.6L1042.8 270.1L1043.0 276.1L1043.2 265.8L1043.5 255.6L1043.8 260.9L1044.0 286.2L1044.2 273.4L1044.5 276.2L1044.8 268.5L1045.0 265.4L1045.2 261.7L1045.5 242.7L1045.8 266.3L1046.0 250.5L1046.2 262.8L1046.5 261.5L1046.8 237.0L1047.0 252.3L1047.2 272.9L1047.5 275.1L1047.8 296.4L1048.0 267.7L1048.2 270.3L1048.5 248.1L1048.8 255.9L1049.0 260.3L1049.2 263.8L1049.5 244.2L1049.8 263.5L1050.0 252.2L1050.2 265.0L1050.5 247.3L1050.8 238.7L1051.0 253.2L1051.2 263.7L1051.5 259.4L1051.8 250.1L1052.0 250.1L1052.2 255.0L1052.5 275.6L1052.8 236.7L1053.0 258.3L1053.2 249.7L1053.5 255.7L1053.8 248.6L1054.0 252.7L1054.2 274.7L1054.5 278.2L1054.8 253.2L1055.0 253.8L1055.2 265.4L1055.5 236.3L1055.8 265.9L1056.0 240.1L1056.2 277.1L1056.5 249.6L1056.8 235.5L1057.0 249.0L1057.2 270.3L1057.5 265.7L1057.8 261.5L1058.0 262.8L1058.2 236.7L1058.5 243.8L1058.8 252.7L1059.0 229.4L1059.2 245.3L1059.5 249.5L1059.8 229.0L1060.0 268.6L1060.2 225.6L1060.5 272.8L1060.8 235.9L1061.0 268.6L1061.2 238.2L1061.5 251.5L1061.8 259.9L1062.0 257.0L1062.2 228.3L1062.5 250.5L1062.8 251.6L1063.0 216.7L1063.2 241.9L1063.5 237.8L1063.8 250.5L1064.0 246.7L1064.2 258.3L1064.5 241.5L1064.8 246.8L1065.0 259.9L1065.2 222.6L1065.5 226.0L1065.8 253.8L1066.0 243.4L1066.2 236.9L1066.5 222.8L1066.8 240.7L1067.0 231.4L1067.2 234.5L1067.5 256.1L1067.8 253.0L1068.0 252.2L1068.2 257.1L1068.5 231.9L1068.8 242.0L1069.0 227.3L1069.2 259.8L1069.5 261.0L1069.8 249.5L1070.0 242.3L1070.2 248.1L1070.5 244.7L1070.8 231.9L1071.0 251.9L1071.2 224.0L1071.5 231.1L1071.8 204.8L1072.0 256.6L1072.2 232.2L1072.5 233.9L1072.8 237.3L1073.0 233.0L1073.2 253.1L1073.5 259.1L1073.8 247.7L1074.0 254.4L1074.2 245.8L1074.5 256.0L1074.8 221.5L1075.0 221.5L1075.2 224.8L1075.5 237.2L1075.8 240.1L1076.0 226.3L1076.2 251.9L1076.5 238.8L1076.8 263.1L1077.0 212.2L1077.2 200.5L1077.5 222.5L1077.8 253.7L1078.0 246.1L1078.2 231.6L1078.5 227.1L1078.8 246.7L1079.0 236.6L1079.2 220.2L1079.5 240.3L1079.8 212.5L1080.0 211.5L1080.2 258.8L1080.5 235.5L1080.8 250.2L1081.0 229.3L1081.2 220.5L1081.5 240.8L1081.8 225.9L1082.0 249.8L1082.2 255.9L1082.5 245.5L1082.8 225.8L1083.0 237.9L1083.2 233.0L1083.5 249.2L1083.8 231.8L1084.0 230.3L1084.2 247.2L1084.5 254.4L1084.8 240.2L1085.0 231.8L1085.2 257.4L1085.5 218.5L1085.8 234.7L1086.0 230.6L1086.2 222.6L1086.5 260.7L1086.8 232.4L1087.0 244.0L1087.2 219.8L1087.5 229.6L1087.8 230.7L1088.0 235.3L1088.2 222.4L1088.5 230.0L1088.8 206.4L1089.0 259.0L1089.2 263.1L1089.5 236.8L1089.8 227.3L1090.0 215.8L1090.2 237.1L1090.5 253.4L1090.8 242.6L1091.0 253.5L1091.2 225.3L1091.5 239.7L1091.8 208.8L1092.0 237.7L1092.2 241.2L1092.5 241.9L1092.8 229.1L1093.0 248.5L1093.2 214.3L1093.5 216.0L1093.8 236.3L1094.0 250.9L1094.2 261.1L1094.5 222.8L1094.8 247.6L1095.0 250.7L1095.2 238.8L1095.5 224.2L1095.8 241.0L1096.0 209.8L1096.2 208.0L1096.5 238.9L1096.8 217.8L1097.0 220.4L1097.2 221.6L1097.5 235.0L1097.8 244.1L1098.0 252.8L1098.2 221.5L1098.5 227.6L1098.8 244.6L1099.0 241.7L1099.2 244.9L1099.5 243.5L1099.8 220.7L1100.0 252.3L1100.2 240.9L1100.5 242.0L1100.8 264.6L1101.0 233.6L1101.2 246.3L1101.5 227.0L1101.8 248.5L1102.0 240.1L1102.2 239.5L1102.5 240.0L1102.8 250.5L1103.0 253.4L1103.2 215.0L1103.5 240.8L1103.8 218.3L1104.0 251.4L1104.2 237.9L1104.5 266.5L1104.8 248.4L1105.0 234.0L1105.2 256.0L1105.5 229.3L1105.8 237.3L1106.0 234.4L1106.2 228.1L1106.5 227.0L1106.8 237.8L1107.0 235.8L1107.2 279.3L1107.5 246.8L1107.8 256.0L1108.0 245.4L1108.2 250.4L1108.5 225.3L1108.8 245.8L1109.0 265.7L1109.2 241.9L1109.5 249.3L1109.8 250.5L1110.0 224.7L1110.2 216.3L1110.5 255.7L1110.8 245.0L1111.0 257.7L1111.2 254.4L1111.5 221.1L1111.8 275.9L1112.0 217.8L1112.2 222.4L1112.5 256.1L1112.8 245.7L1113.0 242.6L1113.2 272.3L1113.5 221.8L1113.8 251.7L1114.0 241.9L1114.2 250.8L1114.5 253.3L1114.8 265.3L1115.0 254.5L1115.2 262.8L1115.5 272.0L1115.8 259.9L1116.0 255.7L1116.2 247.8L1116.5 247.6L1116.8 271.5L1117.0 234.4L1117.2 235.6L1117.5 241.8L1117.8 242.8L1118.0 241.3L1118.2 254.1L1118.5 221.0L1118.8 257.6L1119.0 236.6L1119.2 253.7L1119.5 235.3L1119.8 265.5L1120.0 252.1L1120.2 239.9L1120.5 250.3L1120.8 235.8L1121.0 246.0L1121.2 261.2L1121.5 243.3L1121.8 242.9L1122.0 257.8L1122.2 281.5L1122.5 259.3L1122.8 251.5L1123.0 266.0L1123.2 251.9L1123.5 244.2L1123.8 237.9L1124.0 237.8L1124.2 253.0L1124.5 270.2L1124.8 259.4L1125.0 261.4L1125.2 256.2L1125.5 258.5L1125.8 266.8L1126.0 283.2L1126.2 276.4L1126.5 247.0L1126.8 265.0L1127.0 275.5L1127.2 245.5L1127.5 270.8L1127.8 270.4L1128.0 262.8L1128.2 283.7L1128.5 277.2L1128.8 270.1L1129.0 267.1L1129.2 265.9L1129.5 278.1L1129.8 285.9L1130.0 257.9L1130.2 266.4L1130.5 255.5L1130.8 277.1L1131.0 257.6L1131.2 277.2L1131.5 261.1L1131.8 262.8L1132.0 264.1L1132.2 266.1L1132.5 264.2L1132.8 247.7L1133.0 267.2L1133.2 245.2L1133.5 276.9L1133.8 258.2L1134.0 255.7L1134.2 277.0L1134.5 267.6L1134.8 274.5L1135.0 256.0L1135.2 248.2L1135.5 272.6L1135.8 272.0L1136.0 267.9L1136.2 269.5L1136.5 268.4L1136.8 279.8L1137.0 272.8L1137.2 257.9L1137.5 276.9L1137.8 285.6L1138.0 271.7L1138.2 287.5L1138.5 258.8L1138.8 263.3L1139.0 256.7L1139.2 251.9L1139.5 265.6L1139.8 268.6L1140.0 282.8L1140.2 269.5L1140.5 248.5L1140.8 257.4L1141.0 281.2L1141.2 279.3L1141.5 284.4L1141.8 263.0L1142.0 273.9L1142.2 266.3L1142.5 258.8L1142.8 258.6L1143.0 277.1L1143.2 262.8L1143.5 285.2L1143.8 265.9L1144.0 259.7L1144.2 276.7L1144.5 270.7L1144.8 264.1L1145.0 284.3L1145.2 274.2L1145.5 276.7L1145.8 289.6L1146.0 264.3L1146.2 298.6L1146.5 269.9L1146.8 295.4L1147.0 275.4L1147.2 269.0L1147.5 294.0L1147.8 290.5L1148.0 263.5L1148.2 280.2L1148.5 261.9L1148.8 298.2L1149.0 258.1L1149.2 293.0L1149.5 282.7L1149.8 279.7L1150.0 290.4L1150.2 284.6L1150.5 265.6L1150.8 285.1L1151.0 255.5L1151.2 294.1L1151.5 288.6L1151.8 282.5L1152.0 295.3L1152.2 286.4L1152.5 262.0L1152.8 286.1L1153.0 272.4L1153.2 269.4L1153.5 292.0L1153.8 282.2L1154.0 269.3L1154.2 284.0L1154.5 282.1L1154.8 277.4L1155.0 281.9L1155.2 282.0L1155.5 273.4L1155.8 307.2L1156.0 278.4L1156.2 289.6L1156.5 277.2L1156.8 282.8L1157.0 293.0L1157.2 302.1L1157.5 275.9L1157.8 284.4L1158.0 275.4L1158.2 297.6L1158.5 302.9L1158.8 296.3L1159.0 291.9L1159.2 280.0L1159.5 266.4L1159.8 291.7L1160.0 310.8L1160.2 269.0L1160.5 294.1L1160.8 304.6L1161.0 285.4L1161.2 293.5L1161.5 270.5L1161.8 277.5L1162.0 284.7L1162.2 282.3L1162.5 287.1L1162.8 309.5L1163.0 310.8L1163.2 311.4L1163.5 290.3L1163.8 279.9L1164.0 316.0L1164.2 300.8L1164.5 291.3L1164.8 304.8L1165.0 305.6L1165.2 295.0L1165.5 284.5L1165.8 289.9L1166.0 295.0L1166.2 297.0L1166.5 291.7L1166.8 280.3L1167.0 284.3L1167.2 292.1L1167.5 287.2L1167.8 297.4L1168.0 281.4L1168.2 302.3L1168.5 297.9L1168.8 296.4L1169.0 300.4L1169.2 311.2L1169.5 280.6L1169.8 296.2L1170.0 299.9L1170.2 293.2L1170.5 282.1L1170.8 303.8L1171.0 304.5L1171.2 317.1L1171.5 295.3L1171.8 304.6L1172.0 308.1L1172.2 304.7L1172.5 312.0L1172.8 309.8L1173.0 309.0L1173.2 287.2L1173.5 299.6L1173.8 276.7L1174.0 291.8L1174.2 319.7L1174.5 306.1L1174.8 308.4L1175.0 289.6L1175.2 295.0L1175.5 296.0L1175.8 301.9L1176.0 296.1L1176.2 290.8L1176.5 307.2L1176.8 306.7L1177.0 310.9L1177.2 302.8L1177.5 319.2L1177.8 306.3L1178.0 306.1L1178.2 316.3L1178.5 306.9L1178.8 281.2L1179.0 311.1L1179.2 300.4L1179.5 299.4L1179.8 307.4L1180.0 297.1L1180.2 336.0L1180.5 339.0L1180.8 286.5L1181.0 313.0L1181.2 285.8L1181.5 299.8L1181.8 294.1L1182.0 309.7L1182.2 300.5L1182.5 301.7L1182.8 312.0L1183.0 316.1L1183.2 296.2L1183.5 322.8L1183.8 312.5L1184.0 310.5L1184.2 302.3L1184.5 308.6L1184.8 308.0L1185.0 316.5L1185.2 320.5L1185.5 306.7L1185.8 308.9L1186.0 320.1L1186.2 287.5L1186.5 320.7L1186.8 319.0L1187.0 317.9L1187.2 300.5L1187.5 302.6L1187.8 309.9L1188.0 308.9L1188.2 305.1L1188.5 325.7L1188.8 302.2L1189.0 301.5L1189.2 325.0L1189.5 319.7L1189.8 324.2L1190.0 323.6L1190.2 307.9L1190.5 309.4L1190.8 301.5L1191.0 314.7L1191.2 307.2L1191.5 323.9L1191.8 309.2L1192.0 307.5L1192.2 301.8L1192.5 301.4L1192.8 324.1L1193.0 295.2L1193.2 325.2L1193.5 300.6L1193.8 320.4L1194.0 308.9L1194.2 307.7L1194.5 321.8L1194.8 320.5L1195.0 321.5L1195.2 305.0L1195.5 306.4L1195.8 321.3L1196.0 298.6L1196.2 324.2L1196.5 322.4L1196.8 325.6L1197.0 316.9L1197.2 311.1L1197.5 317.5L1197.8 305.9L1198.0 316.0L1198.2 317.8L1198.5 322.7L1198.8 321.5L1199.0 340.3L1199.2 322.7L1199.5 304.1L1199.8 304.6L1200.0 301.2L1200.2 320.5L1200.5 319.8L1200.8 313.9L1201.0 311.5L1201.2 340.1L1201.5 343.0L1201.8 326.2L1202.0 327.9L1202.2 310.1L1202.5 321.8L1202.8 304.6L1203.0 331.3L1203.2 302.6L1203.5 306.9L1203.8 326.4L1204.0 294.2L1204.2 316.3L1204.5 308.7L1204.8 313.7L1205.0 327.1L1205.2 314.9L1205.5 330.9L1205.8 331.9L1206.0 334.6L1206.2 326.2L1206.5 316.3L1206.8 308.8L1207.0 329.7L1207.2 323.2L1207.5 333.5L1207.8 334.9L1208.0 311.0L1208.2 338.2L1208.5 344.9L1208.8 310.9L1209.0 329.1L1209.2 311.5L1209.5 339.4L1209.8 321.8L1210.0 316.3L1210.2 330.5L1210.5 298.7L1210.8 330.5L1211.0 320.5L1211.2 329.2L1211.5 318.5L1211.8 318.6L1212.0 321.8L1212.2 304.9L1212.5 318.0L1212.8 338.0L1213.0 318.6L1213.2 324.1L1213.5 317.4L1213.8 324.7L1214.0 323.9L1214.2 319.0L1214.5 341.4L1214.8 315.4L1215.0 322.5L1215.2 323.0L1215.5 310.7L1215.8 324.4L1216.0 313.4L1216.2 322.9L1216.5 312.9L1216.8 324.4L1217.0 323.6L1217.2 325.0L1217.5 299.5L1217.8 305.2L1218.0 316.6L1218.2 328.8L1218.5 332.5L1218.8 317.5L1219.0 306.9L1219.2 332.1L1219.5 322.0L1219.8 333.7L1220.0 316.6L1220.2 320.6L1220.5 339.0L1220.8 328.8L1221.0 316.1L1221.2 311.0L1221.5 332.8L1221.8 314.7L1222.0 338.7L1222.2 314.5L1222.5 319.3L1222.8 318.4L1223.0 341.8L1223.2 327.6L1223.5 311.8L1223.8 318.0L1224.0 332.9L1224.2 333.7L1224.5 332.0L1224.8 328.5L1225.0 341.7L1225.2 313.7L1225.5 347.6L1225.8 322.1L1226.0 316.3L1226.2 326.2L1226.5 324.1L1226.8 325.2L1227.0 316.2L1227.2 327.5L1227.5 331.2L1227.8 337.1L1228.0 313.0L1228.2 322.9L1228.5 317.2L1228.8 323.5L1229.0 341.2L1229.2 323.9L1229.5 340.6L1229.8 329.3L1230.0 340.5L1230.2 344.0L1230.5 338.9L1230.8 339.4L1231.0 321.3L1231.2 325.7L1231.5 329.8L1231.8 326.0L1232.0 324.2L1232.2 330.0L1232.5 321.5L1232.8 337.8L1233.0 343.9L1233.2 327.5L1233.5 328.3L1233.8 331.4L1234.0 340.0L1234.2 313.7L1234.5 324.2L1234.8 315.5L1235.0 327.2L1235.2 310.7L1235.5 337.5L1235.8 325.6L1236.0 349.5L1236.2 344.0L1236.5 316.9L1236.8 303.7L1237.0 341.5L1237.2 334.2L1237.5 305.2L1237.8 345.5L1238.0 326.1L1238.2 306.4L1238.5 338.2L1238.8 342.1L1239.0 306.0L1239.2 324.2L1239.5 322.3L1239.8 338.4L1240.0 340.8L1240.2 333.8L1240.5 317.2L1240.8 334.7L1241.0 317.3L1241.2 320.8L1241.5 324.2L1241.8 318.8L1242.0 335.5L1242.2 334.1L1242.5 335.8L1242.8 328.8L1243.0 312.4L1243.2 335.5L1243.5 311.0L1243.8 321.4L1244.0 320.2L1244.2 317.3L1244.5 317.7L1244.8 326.0L1245.0 316.7L1245.2 318.9L1245.5 343.5L1245.8 316.6L1246.0 316.9L1246.2 304.1L1246.5 332.3L1246.8 335.8L1247.0 337.4L1247.2 336.7L1247.5 339.4L1247.8 330.1L1248.0 323.8L1248.2 333.3L1248.5 347.6L1248.8 354.1L1249.0 337.2L1249.2 329.9L1249.5 331.0L1249.8 334.4L1250.0 341.1L1250.2 326.5L1250.5 322.6L1250.8 329.6L1251.0 343.8L1251.2 349.6L1251.5 341.4L1251.8 359.9L1252.0 317.6L1252.2 328.8L1252.5 335.3L1252.8 341.2L1253.0 336.3L1253.2 333.9L1253.5 330.6L1253.8 336.4L1254.0 341.7L1254.2 342.2L1254.5 341.0L1254.8 334.5L1255.0 326.9L1255.2 347.3L1255.5 343.1L1255.8 356.8L1256.0 338.0L1256.2 333.3L1256.5 338.0L1256.8 339.5L1257.0 350.7L1257.2 327.9L1257.5 338.1L1257.8 338.6L1258.0 334.4L1258.2 348.7L1258.5 339.3L1258.8 353.3L1259.0 340.9L1259.2 325.5L1259.5 326.2L1259.8 347.5L1260.0 335.8L1260.2 333.2L1260.5 343.2L1260.8 347.8L1261.0 348.6L1261.2 340.6L1261.5 356.4L1261.8 338.6L1262.0 348.0L1262.2 339.4L1262.5 345.8L1262.8 351.0L1263.0 349.4L1263.2 340.0L1263.5 343.4L1263.8 325.1L1264.0 341.2L1264.2 329.9L1264.5 332.5L1264.8 332.8L1265.0 344.6L1265.2 348.8L1265.5 337.2L1265.8 342.4L1266.0 346.4L1266.2 345.3L1266.5 339.2L1266.8 346.3L1267.0 352.4L1267.2 347.1L1267.5 353.4L1267.8 335.9L1268.0 336.8L1268.2 364.0L1268.5 334.8L1268.8 354.3L1269.0 348.5L1269.2 343.2L1269.5 346.8L1269.8 366.0L1270.0 353.9L1270.2 363.1L1270.5 330.3L1270.8 365.7L1271.0 352.8L1271.2 359.4L1271.5 338.4L1271.8 331.9L1272.0 356.7L1272.2 353.2L1272.5 355.2L1272.8 358.1L1273.0 336.7L1273.2 353.2L1273.5 334.9L1273.8 344.1L1274.0 358.9L1274.2 352.1L1274.5 346.2L1274.8 344.5L1275.0 348.4L1275.2 341.9L1275.5 337.7L1275.8 343.3L1276.0 359.7L1276.2 345.7L1276.5 358.7L1276.8 366.8L1277.0 354.6L1277.2 357.4L1277.5 365.7L1277.8 345.9L1278.0 362.5L1278.2 346.4L1278.5 352.0L1278.8 359.5L1279.0 360.7L1279.2 349.6L1279.5 366.8L1279.8 355.7L1280.0 365.8L1280.2 345.8L1280.5 366.6L1280.8 360.0L1281.0 336.3L1281.2 346.4L1281.5 353.5L1281.8 367.6L1282.0 338.2L1282.2 369.2L1282.5 350.4L1282.8 360.9L1283.0 361.4L1283.2 354.4L1283.5 363.1L1283.8 344.0L1284.0 365.7L1284.2 367.3L1284.5 369.1L1284.8 365.0L1285.0 348.5L1285.2 355.4L1285.5 374.6L1285.8 363.0L1286.0 375.0L1286.2 362.9L1286.5 362.7L1286.8 343.0L1287.0 353.8L1287.2 349.4L1287.5 362.2L1287.8 353.6L1288.0 349.1L1288.2 355.3L1288.5 358.9L1288.8 352.2L1289.0 360.9L1289.2 366.0L1289.5 350.6L1289.8 376.2L1290.0 356.6L1290.2 355.7L1290.5 380.8L1290.8 366.8L1291.0 356.9L1291.2 378.5L1291.5 356.6L1291.8 344.3L1292.0 360.4L1292.2 358.0L1292.5 362.3L1292.8 372.2L1293.0 349.8L1293.2 374.5L1293.5 360.0L1293.8 367.5L1294.0 371.4L1294.2 372.7L1294.5 375.5L1294.8 369.4L1295.0 362.5L1295.2 365.2L1295.5 357.3L1295.8 362.6L1296.0 367.3L1296.2 361.4L1296.5 365.4L1296.8 361.6L1297.0 367.0L1297.2 353.1L1297.5 357.2L1297.8 353.0L1298.0 360.1L1298.2 373.2L1298.5 369.6L1298.8 360.8L1299.0 374.0L1299.2 361.2L1299.5 362.1L1299.8 379.1L1300.0 382.0L1300.2 373.8L1300.5 365.1L1300.8 376.6L1301.0 373.0L1301.2 362.6L1301.5 361.8L1301.8 377.5L1302.0 393.6L1302.2 365.5L1302.5 368.0L1302.8 384.8L1303.0 364.1L1303.2 360.1L1303.5 362.8L1303.8 360.9L1304.0 379.4L1304.2 359.2L1304.5 381.8L1304.8 361.6L1305.0 369.3L1305.2 371.9L1305.5 373.9L1305.8 371.9L1306.0 376.7L1306.2 372.5L1306.5 368.3L1306.8 362.3L1307.0 380.2L1307.2 377.3L1307.5 383.3L1307.8 367.7L1308.0 364.4L1308.2 363.5L1308.5 355.7L1308.8 369.4L1309.0 373.2L1309.2 374.2L1309.5 369.6L1309.8 372.9L1310.0 383.9L1310.2 371.6L1310.5 384.2L1310.8 355.1L1311.0 356.7L1311.2 371.8L1311.5 369.1L1311.8 369.6L1312.0 381.9L1312.2 387.3L1312.5 383.4L1312.8 375.5L1313.0 382.7L1313.2 365.7L1313.5 391.0L1313.8 381.2L1314.0 368.6L1314.2 379.2L1314.5 384.2L1314.8 369.8L1315.0 366.1L1315.2 382.1L1315.5 373.7L1315.8 387.7L1316.0 370.0L1316.2 377.5L1316.5 374.7L1316.8 369.2L1317.0 388.9L1317.2 389.0L1317.5 374.2L1317.8 380.4L1318.0 402.9L1318.2 388.1L1318.5 362.6L1318.8 386.6L1319.0 383.3L1319.2 387.0L1319.5 362.4L1319.8 393.6L1320.0 380.8L1320.2 371.4L1320.5 363.0L1320.8 384.1L1321.0 379.7L1321.2 387.4L1321.5 366.7L1321.8 369.4L1322.0 378.4L1322.2 381.7L1322.5 366.1L1322.8 378.8L1323.0 375.2L1323.2 387.3L1323.5 370.1L1323.8 394.3L1324.0 369.4L1324.2 389.1L1324.5 381.8L1324.8 384.8L1325.0 390.3L1325.2 390.0L1325.5 385.4L1325.8 381.9L1326.0 364.9L1326.2 386.7L1326.5 392.9L1326.8 386.5L1327.0 390.9L1327.2 386.5L1327.5 393.2L1327.8 412.7L1328.0 384.4L1328.2 379.5L1328.5 393.9L1328.8 394.9L1329.0 378.8L1329.2 373.4L1329.5 371.8L1329.8 382.6L1330.0 393.9L1330.2 375.3L1330.5 393.6L1330.8 365.7L1331.0 399.5L1331.2 366.4L1331.5 387.5L1331.8 384.9L1332.0 378.6L1332.2 383.2L1332.5 387.2L1332.8 398.0L1333.0 381.4L1333.2 385.7L1333.5 381.0L1333.8 395.6L1334.0 383.9L1334.2 383.3L1334.5 379.2L1334.8 374.6L1335.0 387.3L1335.2 397.5L1335.5 381.3L1335.8 388.2L1336.0 391.0L1336.2 401.1L1336.5 392.7L1336.8 384.7L1337.0 364.3L1337.2 386.5L1337.5 388.4L1337.8 378.4L1338.0 368.0L1338.2 379.7L1338.5 378.2L1338.8 402.7L1339.0 401.2L1339.2 394.8L1339.5 382.2L1339.8 382.9L1340.0 398.6L1340.2 390.1L1340.5 389.6L1340.8 386.2L1341.0 373.1L1341.2 384.8L1341.5 383.7L1341.8 393.0L1342.0 388.5L1342.2 392.0L1342.5 374.2L1342.8 373.6L1343.0 382.6L1343.2 390.8L1343.5 378.8L1343.8 397.5L1344.0 373.2L1344.2 389.5L1344.5 382.4L1344.8 389.2L1345.0 388.6L1345.2 389.0L1345.5 397.2L1345.8 393.5L1346.0 369.2L1346.2 392.2L1346.5 379.0L1346.8 391.5L1347.0 368.5L1347.2 377.6L1347.5 401.0L1347.8 376.3L1348.0 388.3L1348.2 387.4L1348.5 389.5L1348.8 381.2L1349.0 398.9L1349.2 393.8L1349.5 383.1L1349.8 400.4L1350.0 401.4L1350.2 399.0L1350.5 406.2L1350.8 384.0L1351.0 384.1L1351.2 402.1L1351.5 403.8L1351.8 386.2L1352.0 393.2L1352.2 389.0L1352.5 389.9L1352.8 398.4L1353.0 390.2L1353.2 382.5L1353.5 398.1L1353.8 398.8L1354.0 386.0L1354.2 399.7L1354.5 391.3L1354.8 384.7L1355.0 404.5L1355.2 385.6L1355.5 393.6L1355.8 396.7L1356.0 387.7L1356.2 395.9L1356.5 393.6L1356.8 398.8L1357.0 389.1L1357.2 393.8L1357.5 391.3L1357.8 398.7L1358.0 409.1L1358.2 397.4L1358.5 388.3L1358.8 394.0L1359.0 400.6L1359.2 387.4L1359.5 399.6L1359.8 414.9L1360.0 382.7L1360.2 390.1L1360.5 390.6L1360.8 387.9L1361.0 403.1L1361.2 391.1L1361.5 401.9L1361.8 389.4L1362.0 409.4L1362.2 397.5L1362.5 390.1L1362.8 396.6L1363.0 393.1L1363.2 392.8L1363.5 402.3L1363.8 406.1L1364.0 382.7L1364.2 409.8L1364.5 393.0L1364.8 392.5L1365.0 400.8L1365.2 405.3L1365.5 404.5L1365.8 396.0L1366.0 406.1L1366.2 388.1L1366.5 409.8L1366.8 384.8L1367.0 391.6L1367.2 406.2L1367.5 390.7L1367.8 375.2L1368.0 407.7L1368.2 386.1L1368.5 407.2L1368.8 392.8L1369.0 395.1L1369.2 401.8L1369.5 395.9L1369.8 385.8L1370.0 384.5L1370.2 391.9L1370.5 400.4L1370.8 400.3L1371.0 396.2L1371.2 398.1L1371.5 381.6L1371.8 410.3L1372.0 398.3L1372.2 391.8L1372.5 402.5L1372.8 401.7L1373.0 383.2L1373.2 392.7L1373.5 404.2L1373.8 394.4L1374.0 387.6L1374.2 393.8L1374.5 402.6L1374.8 392.7L1375.0 388.3L1375.2 390.9L1375.5 396.5L1375.8 401.7L1376.0 400.6L1376.2 387.5L1376.5 385.1L1376.8 398.1L1377.0 401.6L1377.2 401.1L1377.5 403.3L1377.8 401.4L1378.0 389.7L1378.2 398.2L1378.5 402.1L1378.8 398.1L1379.0 389.7L1379.2 409.5L1379.5 400.4L1379.8 388.4L1380.0 379.2L1380.2 395.8L1380.5 415.0L1380.8 381.7L1381.0 396.8L1381.2 399.4L1381.5 402.8L1381.8 395.1L1382.0 393.5L1382.2 398.9L1382.5 398.4L1382.8 371.5L1383.0 399.7L1383.2 396.3L1383.5 404.0L1383.8 403.7L1384.0 393.9L1384.2 402.5L1384.5 389.7L1384.8 396.3L1385.0 386.0L1385.2 393.1L1385.5 397.7L1385.8 393.3L1386.0 392.9L1386.2 416.7L1386.5 394.6L1386.8 397.3L1387.0 394.8L1387.2 399.7L1387.5 394.3L1387.8 401.4L1388.0 399.5L1388.2 393.3L1388.5 405.7L1388.8 391.2L1389.0 391.5L1389.2 386.2L1389.5 398.7L1389.8 407.6L1390.0 397.8L1390.2 403.8L1390.5 389.9L1390.8 399.8L1391.0 398.5L1391.2 391.3L1391.5 387.0L1391.8 397.8L1392.0 400.1L1392.2 379.8L1392.5 377.1L1392.8 400.5L1393.0 394.6L1393.2 410.0L1393.5 400.4L1393.8 398.7L1394.0 394.1L1394.2 391.9L1394.5 402.2L1394.8 387.9L1395.0 387.6L1395.2 392.0L1395.5 399.9L1395.8 385.2L1396.0 382.6L1396.2 403.7L1396.5 397.0L1396.8 386.3L1397.0 385.9L1397.2 387.3L1397.5 395.5L1397.8 398.0L1398.0 389.5L1398.2 408.6L1398.5 394.3L1398.8 406.4L1399.0 400.2L1399.2 393.2L1399.5 395.5L1399.8 403.9L1400.0 388.3L1400.2 402.4L1400.5 395.5L1400.8 405.4L1401.0 402.9L1401.2 394.0L1401.5 405.2L1401.8 394.8L1402.0 390.7L1402.2 402.5L1402.5 395.0L1402.8 404.8L1403.0 389.4L1403.2 391.5L1403.5 387.7L1403.8 400.4L1404.0 392.9L1404.2 391.7L1404.5 401.7L1404.8 393.8L1405.0 390.0L1405.2 397.1L1405.5 390.3L1405.8 404.0L1406.0 389.4L1406.2 393.6L1406.5 390.6L1406.8 409.5L1407.0 387.8L1407.2 400.4L1407.5 408.4L1407.8 395.4L1408.0 396.8L1408.2 396.3L1408.5 394.0L1408.8 407.8L1409.0 391.1L1409.2 409.5L1409.5 390.2L1409.8 397.8L1410.0 393.3L1410.2 401.0L1410.5 394.2L1410.8 408.1L1411.0 412.2L1411.2 381.9L1411.5 389.8L1411.8 400.2L1412.0 397.3L1412.2 389.5L1412.5 398.9L1412.8 399.8L1413.0 388.5L1413.2 392.9L1413.5 395.9L1413.8 393.2L1414.0 395.7L1414.2 396.5L1414.5 391.6L1414.8 407.1L1415.0 393.5L1415.2 406.1L1415.5 396.9L1415.8 402.7L1416.0 398.7L1416.2 397.9L1416.5 406.9L1416.8 408.4L1417.0 393.9L1417.2 408.1L1417.5 404.0L1417.8 397.2L1418.0 406.1L1418.2 393.5L1418.5 398.9L1418.8 399.4L1419.0 387.3L1419.2 390.2L1419.5 395.2L1419.8 414.0L1420.0 407.6L1420.2 392.8L1420.5 403.7L1420.8 403.2L1421.0 400.3L1421.2 393.1L1421.5 400.7L1421.8 394.0L1422.0 405.7L1422.2 411.8L1422.5 408.3L1422.8 410.8L1423.0 396.1L1423.2 407.8L1423.5 394.5L1423.8 394.2L1424.0 394.4L1424.2 391.4L1424.5 394.9L1424.8 415.5L1425.0 389.8L1425.2 403.5L1425.5 403.4L1425.8 396.7L1426.0 387.9L1426.2 399.4L1426.5 402.7L1426.8 401.9L1427.0 395.2L1427.2 400.9L1427.5 396.2L1427.8 392.8L1428.0 402.7L1428.2 400.3L1428.5 409.6L1428.8 405.4L1429.0 405.1L1429.2 408.0L1429.5 410.6L1429.8 393.6L1430.0 388.7L1430.2 388.4L1430.5 395.5L1430.8 396.5L1431.0 407.1L1431.2 398.7L1431.5 402.0L1431.8 411.3L1432.0 390.4L1432.2 405.0L1432.5 385.4L1432.8 405.4L1433.0 408.0L1433.2 400.5L1433.5 408.1L1433.8 393.5L1434.0 403.7L1434.2 406.9L1434.5 409.3L1434.8 394.5L1435.0 391.4L1435.2 405.1L1435.5 411.2L1435.8 401.3L1436.0 402.2L1436.2 409.3L1436.5 405.3L1436.8 391.0L1437.0 389.1L1437.2 404.8L1437.5 408.0L1437.8 401.6L1438.0 397.7L1438.2 410.4L1438.5 399.9L1438.8 398.3L1439.0 410.3L1439.2 399.0L1439.5 395.7L1439.8 391.9L1440.0 402.3L1440.2 405.8L1440.5 398.6L1440.8 395.5L1441.0 399.6L1441.2 394.2L1441.5 395.9L1441.8 396.3L1442.0 402.5L1442.2 404.4L1442.5 402.4L1442.8 392.8L1443.0 403.2L1443.2 386.0L1443.5 406.5L1443.8 395.6L1444.0 422.0L1444.2 408.1L1444.5 401.4L1444.8 395.3L1445.0 387.0L1445.2 408.4L1445.5 408.1L1445.8 405.8L1446.0 394.4L1446.2 401.4L1446.5 413.2L1446.8 409.6L1447.0 396.8L1447.2 393.5L1447.5 398.2L1447.8 390.1L1448.0 399.1L1448.2 407.7L1448.5 398.6L1448.8 408.3L1449.0 396.9L1449.2 396.7L1449.5 400.9L1449.8 388.3L1450.0 403.3L1450.2 401.4L1450.5 407.3L1450.8 404.4L1451.0 405.9L1451.2 400.9L1451.5 410.8L1451.8 399.7L1452.0 409.0L1452.2 400.9L1452.5 409.2L1452.8 417.1L1453.0 397.4L1453.2 406.1L1453.5 408.2L1453.8 411.1L1454.0 393.7L1454.2 410.2L1454.5 396.7L1454.8 393.9L1455.0 391.4L1455.2 392.2L1455.5 410.3L1455.8 402.6L1456.0 407.8L1456.2 403.1L1456.5 408.1L1456.8 399.0L1457.0 401.8L1457.2 418.7L1457.5 396.8L1457.8 399.3L1458.0 406.6L1458.2 394.5L1458.5 400.8L1458.8 401.6L1459.0 398.2L1459.2 404.7L1459.5 404.0L1459.8 403.9L1460.0 396.1L1460.2 406.0L1460.5 392.2L1460.8 393.1L1461.0 417.6L1461.2 406.5L1461.5 402.9L1461.8 408.5L1462.0 404.3L1462.2 405.4L1462.5 400.1L1462.8 408.5L1463.0 409.1L1463.2 378.9L1463.5 397.8L1463.8 397.2L1464.0 396.5L1464.2 415.5L1464.5 409.0L1464.8 400.8L1465.0 409.2L1465.2 405.4L1465.5 403.1L1465.8 391.9L1466.0 413.6L1466.2 395.3L1466.5 402.3L1466.8 406.8L1467.0 385.7L1467.2 397.5L1467.5 402.9L1467.8 391.2L1468.0 401.2L1468.2 412.7L1468.5 399.9L1468.8 392.8L1469.0 410.1L1469.2 410.0L1469.5 412.2L1469.8 386.9L1470.0 389.5L1470.2 400.4L1470.5 403.1L1470.8 408.1L1471.0 379.3L1471.2 417.1L1471.5 400.4L1471.8 394.2L1472.0 411.6L1472.2 419.9L1472.5 407.6L1472.8 401.8L1473.0 409.0L1473.2 412.6L1473.5 402.9L1473.8 394.7L1474.0 393.1L1474.2 391.9L1474.5 395.0L1474.8 400.9L1475.0 412.4L1475.2 398.0L1475.5 396.0L1475.8 402.8L1476.0 398.8L1476.2 411.5L1476.5 400.1L1476.8 411.9L1477.0 407.8L1477.2 411.9L1477.5 389.3L1477.8 412.5L1478.0 400.4L1478.2 394.8L1478.5 405.5L1478.8 403.1L1479.0 408.5L1479.2 390.3L1479.5 394.8L1479.8 410.6L1480.0 409.5L1480.2 409.7L1480.5 410.6L1480.8 399.2L1481.0 409.2L1481.2 415.0L1481.5 402.9L1481.8 404.9L1482.0 397.8L1482.2 396.1L1482.5 412.3L1482.8 424.7L1483.0 392.5L1483.2 411.1L1483.5 397.4L1483.8 403.0L1484.0 409.4L1484.2 406.8L1484.5 413.1L1484.8 408.5L1485.0 395.1L1485.2 422.1L1485.5 418.2L1485.8 397.7L1486.0 395.1L1486.2 398.6L1486.5 402.0L1486.8 403.0L1487.0 418.2L1487.2 403.8L1487.5 399.6L1487.8 407.4L1488.0 406.0L1488.2 395.5L1488.5 412.4L1488.8 405.0L1489.0 419.2L1489.2 391.2L1489.5 406.4L1489.8 396.5L1490.0 408.6L1490.2 401.3L1490.5 392.1L1490.8 407.4L1491.0 393.1L1491.2 403.2L1491.5 409.7L1491.8 411.5L1492.0 407.3L1492.2 406.7L1492.5 418.6L1492.8 415.7L1493.0 390.5L1493.2 417.9L1493.5 413.9L1493.8 394.1L1494.0 397.5L1494.2 414.4L1494.5 397.5L1494.8 395.6L1495.0 415.5L1495.2 407.2L1495.5 405.6L1495.8 404.9L1496.0 407.1L1496.2 404.5L1496.5 402.2L1496.8 395.1L1497.0 399.7L1497.2 413.7L1497.5 403.2L1497.8 406.1L1498.0 418.7L1498.2 413.2L1498.5 416.2L1498.8 412.4L1499.0 406.8L1499.2 409.2L1499.5 401.2L1499.8 414.0L1500.0 407.9L1500.2 406.1L1500.5 414.5L1500.8 394.9L1501.0 401.9L1501.2 401.8L1501.5 405.8L1501.8 393.9L1502.0 405.8L1502.2 418.4L1502.5 413.3L1502.8 405.5L1503.0 411.0L1503.2 400.8L1503.5 422.0L1503.8 403.1L1504.0 408.0L1504.2 400.1L1504.5 402.2L1504.8 408.6L1505.0 395.7L1505.2 409.0L1505.5 401.1L1505.8 413.3L1506.0 407.9L1506.2 394.8L1506.5 398.3L1506.8 409.8L1507.0 412.3L1507.2 399.4L1507.5 409.9L1507.8 405.9L1508.0 405.6L1508.2 410.1L1508.5 401.8L1508.8 407.1L1509.0 404.0L1509.2 402.8L1509.5 418.3L1509.8 408.7L1510.0 410.7L1510.2 401.3L1510.5 401.5L1510.8 416.4L1511.0 410.2L1511.2 397.4L1511.5 413.3L1511.8 415.5L1512.0 400.9L1512.2 401.3L1512.5 416.0L1512.8 403.7L1513.0 411.0L1513.2 393.4L1513.5 421.2L1513.8 401.4L1514.0 414.2L1514.2 411.0L1514.5 409.8L1514.8 409.9L1515.0 416.6L1515.2 410.6L1515.5 398.6L1515.8 419.3L1516.0 403.4L1516.2 401.8L1516.5 405.7L1516.8 411.3L1517.0 406.3L1517.2 410.2L1517.5 407.9L1517.8 409.1L1518.0 401.3L1518.2 413.1L1518.5 408.0L1518.8 415.7L1519.0 422.1L1519.2 416.0L1519.5 414.2L1519.8 413.8L1520.0 406.3L1520.2 405.7L1520.5 408.4L1520.8 404.4L1521.0 413.0L1521.2 400.7L1521.5 411.8L1521.8 409.8L1522.0 416.8L1522.2 416.5L1522.5 409.3L1522.8 406.5L1523.0 415.4L1523.2 403.3L1523.5 394.5L1523.8 412.2L1524.0 408.1L1524.2 405.7L1524.5 410.2L1524.8 411.2L1525.0 416.0L1525.2 412.4L1525.5 419.2L1525.8 412.9L1526.0 404.3L1526.2 415.5L1526.5 412.6L1526.8 406.9L1527.0 398.6L1527.2 419.3L1527.5 399.3L1527.8 401.1L1528.0 405.3L1528.2 407.8L1528.5 402.2L1528.8 416.9L1529.0 407.3L1529.2 410.3L1529.5 412.4L1529.8 396.5L1530.0 412.4L1530.2 407.4L1530.5 407.7L1530.8 409.6L1531.0 406.2L1531.2 412.8L1531.5 415.9L1531.8 400.6L1532.0 416.6L1532.2 405.6L1532.5 410.8L1532.8 394.9L1533.0 418.9L1533.2 411.5L1533.5 404.4L1533.8 405.8L1534.0 420.0L1534.2 412.0L1534.5 412.1L1534.8 412.3L1535.0 408.1L1535.2 409.8L1535.5 395.6L1535.8 411.7L1536.0 419.1L1536.2 414.4L1536.5 419.7L1536.8 417.0L1537.0 412.4L1537.2 408.5L1537.5 424.4L1537.8 400.6L1538.0 407.1L1538.2 403.8L1538.5 412.3L1538.8 414.1L1539.0 402.2L1539.2 420.5L1539.5 400.3L1539.8 414.3L1540.0 412.4L1540.2 412.3L1540.5 427.8L1540.8 407.3L1541.0 413.6L1541.2 419.9L1541.5 409.9L1541.8 410.2L1542.0 396.2L1542.2 412.4L1542.5 407.8L1542.8 405.6L1543.0 405.4L1543.2 402.9L1543.5 408.3L1543.8 417.1L1544.0 409.3L1544.2 419.4L1544.5 407.3L1544.8 404.9L1545.0 411.3L1545.2 410.0L1545.5 405.0L1545.8 415.8L1546.0 406.6L1546.2 404.0L1546.5 400.4L1546.8 420.9L1547.0 408.1L1547.2 420.0L1547.5 416.6L1547.8 424.5L1548.0 406.3L1548.2 409.8L1548.5 403.7L1548.8 406.0L1549.0 412.1L1549.2 414.5L1549.5 398.1L1549.8 408.9L1550.0 416.2L1550.2 414.4L1550.5 404.3L1550.8 418.9L1551.0 399.0L1551.2 406.9L1551.5 408.2L1551.8 428.5L1552.0 414.6L1552.2 417.4L1552.5 404.5L1552.8 416.7L1553.0 394.2L1553.2 414.1L1553.5 421.0L1553.8 410.0L1554.0 413.7L1554.2 416.1L1554.5 403.1L1554.8 401.1L1555.0 410.1L1555.2 422.2L1555.5 410.2L1555.8 410.6L1556.0 423.3L1556.2 420.1L1556.5 411.3L1556.8 419.3L1557.0 420.9L1557.2 417.4L1557.5 415.3L1557.8 407.7L1558.0 416.4L1558.2 407.9L1558.5 420.0L1558.8 418.3L1559.0 417.3L1559.2 414.0L1559.5 412.6L1559.8 423.6L1560.0 423.4L1560.2 421.2L1560.5 403.8L1560.8 414.3L1561.0 418.5L1561.2 418.4L1561.5 411.0L1561.8 423.5L1562.0 417.5L1562.2 415.9L1562.5 407.2L1562.8 411.4L1563.0 415.4L1563.2 415.5L1563.5 413.5L1563.8 412.3L1564.0 408.6L1564.2 411.5L1564.5 404.7L1564.8 405.7L1565.0 428.2L1565.2 418.7L1565.5 412.5L1565.8 416.8L1566.0 424.2L1566.2 405.1L1566.5 420.4L1566.8 421.0L1567.0 419.1L1567.2 412.9L1567.5 408.9L1567.8 407.8L1568.0 420.4L1568.2 411.2L1568.5 410.6L1568.8 417.1L1569.0 421.1L1569.2 405.3L1569.5 413.5L1569.8 417.0L1570.0 411.3L1570.2 415.2L1570.5 406.3L1570.8 414.7L1571.0 413.7L1571.2 411.9L1571.5 423.8L1571.8 423.6L1572.0 408.1L1572.2 413.4L1572.5 416.4L1572.8 425.6L1573.0 413.1L1573.2 418.3L1573.5 417.4L1573.8 416.9L1574.0 424.2L1574.2 414.4L1574.5 404.4L1574.8 409.3L1575.0 420.8L1575.2 417.1L1575.5 407.6L1575.8 411.7L1576.0 424.9L1576.2 425.1L1576.5 419.0L1576.8 420.4L1577.0 416.1L1577.2 424.4L1577.5 412.1L1577.8 421.1L1578.0 415.2L1578.2 417.3L1578.5 411.4L1578.8 424.0L1579.0 409.0L1579.2 424.3L1579.5 411.6L1579.8 417.7L1580.0 410.9L1580.2 410.7L1580.5 418.4L1580.8 413.0L1581.0 414.6L1581.2 419.1L1581.5 425.6L1581.8 417.0L1582.0 409.2L1582.2 413.7L1582.5 408.8L1582.8 424.9L1583.0 404.6L1583.2 410.3L1583.5 421.6L1583.8 416.8L1584.0 425.0L1584.2 416.1L1584.5 416.3L1584.8 417.6L1585.0 417.4L1585.2 423.7L1585.5 412.7L1585.8 425.6L1586.0 408.0L1586.2 415.0L1586.5 410.9L1586.8 411.6L1587.0 416.0L1587.2 421.0L1587.5 419.3L1587.8 416.3L1588.0 409.4L1588.2 413.1L1588.5 404.9L1588.8 425.3L1589.0 422.4L1589.2 408.8L1589.5 419.2L1589.8 415.2L1590.0 424.5L1590.2 422.1L1590.5 421.6L1590.8 422.1L1591.0 425.4L1591.2 418.3L1591.5 411.5L1591.8 411.7L1592.0 420.2L1592.2 428.3L1592.5 427.4L1592.8 406.7L1593.0 422.5L1593.2 416.9L1593.5 415.7L1593.8 430.1L1594.0 418.4L1594.2 416.8L1594.5 413.2L1594.8 417.1L1595.0 417.3L1595.2 427.2L1595.5 407.1L1595.8 405.4L1596.0 415.0L1596.2 416.3L1596.5 420.0L1596.8 412.3L1597.0 421.6L1597.2 408.5L1597.5 409.8L1597.8 413.5L1598.0 406.9L1598.2 403.9L1598.5 413.0L1598.8 422.4L1599.0 425.0L1599.2 417.3L1599.5 430.4L1599.8 418.3L1600.0 411.9L1600.2 410.8L1600.5 417.4L1600.8 407.8L1601.0 413.8L1601.2 421.5L1601.5 421.8L1601.8 421.7L1602.0 411.2L1602.2 419.6L1602.5 413.9L1602.8 419.7L1603.0 414.2L1603.2 412.4L1603.5 409.4L1603.8 420.2L1604.0 411.7L1604.2 427.2L1604.5 422.4L1604.8 417.6L1605.0 422.3L1605.2 413.1L1605.5 408.8L1605.8 411.9L1606.0 414.4L1606.2 419.1L1606.5 420.4L1606.8 413.1L1607.0 405.1L1607.2 426.1L1607.5 420.9L1607.8 416.5L1608.0 418.8L1608.2 419.4L1608.5 411.2L1608.8 417.1L1609.0 413.6L1609.2 417.7L1609.5 411.3L1609.8 426.5L1610.0 413.5L1610.2 417.5L1610.5 416.6L1610.8 409.6L1611.0 419.7L1611.2 422.1L1611.5 417.9L1611.8 428.5L1612.0 420.4L1612.2 428.6L1612.5 405.8L1612.8 414.5L1613.0 412.5L1613.2 415.5L1613.5 417.5L1613.8 424.9L1614.0 419.6L1614.2 414.2L1614.5 408.9L1614.8 403.7L1615.0 417.4L1615.2 408.7L1615.5 409.9L1615.8 431.7L1616.0 416.2L1616.2 425.7L1616.5 414.4L1616.8 412.4L1617.0 415.7L1617.2 411.3L1617.5 411.3L1617.8 413.5L1618.0 408.6L1618.2 426.7L1618.5 415.0L1618.8 416.5L1619.0 423.8L1619.2 421.5L1619.5 426.8L1619.8 418.0L1620.0 422.2L1620.2 429.7L1620.5 430.3L1620.8 419.6L1621.0 409.1L1621.2 416.6L1621.5 426.5L1621.8 422.1L1622.0 428.1L1622.2 424.9L1622.5 415.3L1622.8 429.4L1623.0 414.7L1623.2 424.7L1623.5 425.6L1623.8 418.7L1624.0 420.4L1624.2 422.1L1624.5 425.2L1624.8 412.6L1625.0 414.4L1625.2 411.0L1625.5 415.3L1625.8 414.1L1626.0 432.0L1626.2 419.0L1626.5 410.5L1626.8 414.1L1627.0 420.1L1627.2 412.6L1627.5 417.0L1627.8 426.9L1628.0 418.1"/>
<path stroke="#00f" d="M921.5 477.6L921.8 487.6L922.0 476.7L922.2 481.9L922.5 489.0L922.8 487.8L923.0 481.3L923.2 489.0L923.5 478.0L923.8 483.0L924.0 477.1L924.2 486.0L924.5 493.4L924.8 482.6L925.0 478.5L925.2 491.6L925.5 478.7L925.8 489.8L926.0 477.5L926.2 480.3L926.5 479.5L926.8 486.7L927.0 482.7L927.2 481.6L927.5 492.1L927.8 488.9L928.0 479.2L928.2 487.0L928.5 485.0L928.8 488.5L929.0 489.2L929.2 485.8L929.5 491.0L929.8 486.1L930.0 487.8L930.2 486.3L930.5 485.0L930.8 483.5L931.0 481.7L931.2 479.8L931.5 484.0L931.8 479.3L932.0 478.0L932.2 475.0L932.5 486.9L932.8 492.8L933.0 482.9L933.2 482.0L933.5 479.4L933.8 486.5L934.0 480.0L934.2 486.6L934.5 491.1L934.8 481.4L935.0 481.3L935.2 484.8L935.5 491.3L935.8 491.3L936.0 494.1L936.2 488.8L936.5 483.5L936.8 484.0L937.0 483.1L937.2 483.7L937.5 478.2L937.8 485.6L938.0 480.9L938.2 484.6L938.5 492.8L938.8 477.4L939.0 493.1L939.2 487.0L939.5 485.0L939.8 481.4L940.0 487.6L940.2 473.6L940.5 476.1L940.8 482.1L941.0 481.0L941.2 487.9L941.5 472.5L941.8 485.9L942.0 485.3L942.2 486.1L942.5 488.1L942.8 482.1L943.0 488.7L943.2 475.9L943.5 488.4L943.8 489.4L944.0 488.9L944.2 476.8L944.5 492.0L944.8 489.2L945.0 484.6L945.2 493.0L945.5 489.1L945.8 483.0L946.0 484.9L946.2 480.9L946.5 481.9L946.8 484.9L947.0 484.5L947.2 491.3L947.5 486.7L947.8 494.0L948.0 483.2L948.2 480.1L948.5 489.8L948.8 490.1L949.0 485.8L949.2 482.7L949.5 483.0L949.8 485.1L950.0 475.0L950.2 491.6L950.5 486.2L950.8 482.1L951.0 477.3L951.2 478.5L951.5 478.2L951.8 485.8L952.0 486.2L952.2 484.1L952.5 480.7L952.8 485.5L953.0 485.3L953.2 472.9L953.5 475.0L953.8 472.9L954.0 477.4L954.2 494.0L954.5 488.6L954.8 486.6L955.0 472.1L955.2 484.5L955.5 486.1L955.8 489.6L956.0 489.4L956.2 468.6L956.5 485.2L956.8 467.6L957.0 486.1L957.2 480.6L957.5 487.0L957.8 490.0L958.0 492.6L958.2 479.5L958.5 481.8L958.8 472.2L959.0 476.1L959.2 476.8L959.5 481.9L959.8 479.1L960.0 488.0L960.2 482.6L960.5 486.1L960.8 475.4L961.0 473.7L961.2 480.1L961.5 483.8L961.8 494.3L962.0 487.6L962.2 482.6L962.5 478.5L962.8 489.5L963.0 480.8L963.2 469.9L963.5 476.2L963.8 488.0L964.0 482.6L964.2 472.8L964.5 478.2L964.8 487.3L965.0 477.9L965.2 469.6L965.5 488.9L965.8 477.5L966.0 478.4L966.2 478.0L966.5 484.9L966.8 486.9L967.0 479.9L967.2 482.4L967.5 482.4L967.8 485.9L968.0 478.3L968.2 465.3L968.5 484.0L968.8 471.7L969.0 473.1L969.2 474.7L969.5 481.1L969.8 478.2L970.0 482.7L970.2 473.1L970.5 474.8L970.8 470.2L971.0 480.2L971.2 473.1L971.5 469.3L971.8 476.9L972.0 472.8L972.2 465.5L972.5 462.9L972.8 478.4L973.0 473.3L973.2 480.5L973.5 477.2L973.8 474.8L974.0 482.2L974.2 473.2L974.5 479.8L974.8 476.3L975.0 468.0L975.2 466.5L975.5 465.7L975.8 470.2L976.0 462.9L976.2 463.6L976.5 465.0L976.8 470.2L977.0 480.6L977.2 476.6L977.5 474.3L977.8 473.9L978.0 470.6L978.2 464.4L978.5 463.3L978.8 471.2L979.0 476.9L979.2 458.6L979.5 465.4L979.8 482.4L980.0 464.7L980.2 470.6L980.5 477.8L980.8 467.4L981.0 465.4L981.2 470.2L981.5 471.7L981.8 469.7L982.0 461.9L982.2 459.9L982.5 464.1L982.8 460.5L983.0 465.5L983.2 461.7L983.5 468.9L983.8 475.5L984.0 475.6L984.2 461.2L984.5 466.7L984.8 464.5L985.0 464.1L985.2 473.6L985.5 454.4L985.8 471.6L986.0 452.8L986.2 466.3L986.5 455.4L986.8 472.4L987.0 463.3L987.2 465.4L987.5 468.5L987.8 445.0L988.0 460.7L988.2 473.3L988.5 469.1L988.8 455.3L989.0 459.3L989.2 460.9L989.5 445.7L989.8 458.9L990.0 455.5L990.2 459.7L990.5 460.8L990.8 458.9L991.0 459.3L991.2 454.9L991.5 449.3L991.8 466.3L992.0 464.6L992.2 466.9L992.5 453.2L992.8 442.2L993.0 462.8L993.2 465.5L993.5 452.3L993.8 446.1L994.0 449.3L994.2 457.0L994.5 442.3L994.8 453.6L995.0 452.3L995.2 446.3L995.5 455.2L995.8 450.6L996.0 446.4L996.2 453.4L996.5 450.7L996.8 446.1L997.0 445.8L997.2 448.0L997.5 448.4L997.8 453.8L998.0 446.0L998.2 453.3L998.5 448.9L998.8 450.2L999.0 452.6L999.2 439.1L999.5 443.5L999.8 433.3L1000.0 436.5L1000.2 435.4L1000.5 433.4L1000.8 441.9L1001.0 446.4L1001.2 438.5L1001.5 438.5L1001.8 441.6L1002.0 453.9L1002.2 433.5L1002.5 447.7L1002.8 443.0L1003.0 437.1L1003.2 436.9L1003.5 449.5L1003.8 436.6L1004.0 427.5L1004.2 423.7L1004.5 440.8L1004.8 425.5L1005.0 434.3L1005.2 440.0L1005.5 422.6L1005.8 437.2L1006.0 425.0L1006.2 439.0L1006.5 433.2L1006.8 442.2L1007.0 431.5L1007.2 426.4L1007.5 413.5L1007.8 436.1L1008.0 431.0L1008.2 441.9L1008.5 435.9L1008.8 416.6L1009.0 420.9L1009.2 408.3L1009.5 420.8L1009.8 429.7L1010.0 417.2L1010.2 414.5L1010.5 420.0L1010.8 404.9L1011.0 414.8L1011.2 427.5L1011.5 422.7L1011.8 407.5L1012.0 414.6L1012.2 428.0L1012.5 416.7L1012.8 423.3L1013.0 400.0L1013.2 415.5L1013.5 403.6L1013.8 409.5L1014.0 416.4L1014.2 420.8L1014.5 420.4L1014.8 416.5L1015.0 417.8L1015.2 416.1L1015.5 408.0L1015.8 410.3L1016.0 417.1L1016.2 413.3L1016.5 406.3L1016.8 425.2L1017.0 405.8L1017.2 424.3L1017.5 400.8L1017.8 414.8L1018.0 425.5L1018.2 404.4L1018.5 414.0L1018.8 412.6L1019.0 428.8L1019.2 413.9L1019.5 399.6L1019.8 395.9L1020.0 404.9L1020.2 403.2L1020.5 406.7L1020.8 405.9L1021.0 397.8L1021.2 403.1L1021.5 400.1L1021.8 405.7L1022.0 412.2L1022.2 409.5L1022.5 398.6L1022.8 414.1L1023.0 410.3L1023.2 402.6L1023.5 403.1L1023.8 420.3L1024.0 424.7L1024.2 408.4L1024.5 396.1L1024.8 404.7L1025.0 401.4L1025.2 408.1L1025.5 389.9L1025.8 394.8L1026.0 390.6L1026.2 399.7L1026.5 403.1L1026.8 398.4L1027.0 413.0L1027.2 375.7L1027.5 389.4L1027.8 413.3L1028.0 393.5L1028.2 397.5L1028.5 393.1L1028.8 401.7L1029.0 414.8L1029.2 392.8L1029.5 404.9L1029.8 408.4L1030.0 390.9L1030.2 395.6L1030.5 387.7L1030.8 405.0L1031.0 395.0L1031.2 406.4L1031.5 394.6L1031.8 390.9L1032.0 386.5L1032.2 407.8L1032.5 399.5L1032.8 404.0L1033.0 389.7L1033.2 402.9L1033.5 409.7L1033.8 397.0L1034.0 395.6L1034.2 388.3L1034.5 401.3L1034.8 380.5L1035.0 407.2L1035.2 395.6L1035.5 378.7L1035.8 383.6L1036.0 397.3L1036.2 367.0L1036.5 384.7L1036.8 394.4L1037.0 373.5L1037.2 394.6L1037.5 398.4L1037.8 380.5L1038.0 392.1L1038.2 399.5L1038.5 381.7L1038.8 409.9L1039.0 386.3L1039.2 401.8L1039.5 383.1L1039.8 396.7L1040.0 396.1L1040.2 380.5L1040.5 389.1L1040.8 377.0L1041.0 387.3L1041.2 376.1L1041.5 385.3L1041.8 383.5L1042.0 375.7L1042.2 395.6L1042.5 399.9L1042.8 367.0L1043.0 375.0L1043.2 374.7L1043.5 381.7L1043.8 389.1L1044.0 406.4L1044.2 402.7L1044.5 380.4L1044.8 390.2L1045.0 398.2L1045.2 398.4L1045.5 397.6L1045.8 398.0L1046.0 386.0L1046.2 392.7L1046.5 382.7L1046.8 382.5L1047.0 392.5L1047.2 377.8L1047.5 378.7L1047.8 401.6L1048.0 394.3L1048.2 389.7L1048.5 388.2L1048.8 386.8L1049.0 374.1L1049.2 392.2L1049.5 404.6L1049.8 381.3L1050.0 394.2L1050.2 398.1L1050.5 379.4L1050.8 377.5L1051.0 386.8L1051.2 375.4L1051.5 378.8L1051.8 367.8L1052.0 403.9L1052.2 403.6L1052.5 398.5L1052.8 384.9L1053.0 413.9L1053.2 368.3L1053.5 393.6L1053.8 367.2L1054.0 385.5L1054.2 413.0L1054.5 388.9L1054.8 383.7L1055.0 374.6L1055.2 377.6L1055.5 402.3L1055.8 405.4L1056.0 411.0L1056.2 393.9L1056.5 389.4L1056.8 372.5L1057.0 379.1L1057.2 382.5L1057.5 384.8L1057.8 388.2L1058.0 380.7L1058.2 384.2L1058.5 391.7L1058.8 369.1L1059.0 403.8L1059.2 373.2L1059.5 401.5L1059.8 387.3L1060.0 388.4L1060.2 367.5L1060.5 386.4L1060.8 380.3L1061.0 406.5L1061.2 399.7L1061.5 396.8L1061.8 397.5L1062.0 402.9L1062.2 372.5L1062.5 390.7L1062.8 383.6L1063.0 384.2L1063.2 395.6L1063.5 398.2L1063.8 384.4L1064.0 402.5L1064.2 392.5L1064.5 377.6L1064.8 400.2L1065.0 385.1L1065.2 398.8L1065.5 375.4L1065.8 401.7L1066.0 393.4L1066.2 375.7L1066.5 376.6L1066.8 375.9L1067.0 377.0L1067.2 409.3L1067.5 385.8L1067.8 397.7L1068.0 378.5L1068.2 394.0L1068.5 389.0L1068.8 372.5L1069.0 399.6L1069.2 374.2L1069.5 387.2L1069.8 388.6L1070.0 407.7L1070.2 383.5L1070.5 391.9L1070.8 397.7L1071.0 382.5L1071.2 381.7L1071.5 371.6L1071.8 375.1L1072.0 373.7L1072.2 368.2L1072.5 403.4L1072.8 406.1L1073.0 395.7L1073.2 400.0L1073.5 390.4L1073.8 409.3L1074.0 390.8L1074.2 381.7L1074.5 390.7L1074.8 376.4L1075.0 405.0L1075.2 390.8L1075.5 377.0L1075.8 382.4L1076.0 394.8L1076.2 380.8L1076.5 386.4L1076.8 387.8L1077.0 382.3L1077.2 403.4L1077.5 381.6L1077.8 392.3L1078.0 388.8L1078.2 383.1L1078.5 395.4L1078.8 393.1L1079.0 391.1L1079.2 381.8L1079.5 387.7L1079.8 383.6L1080.0 394.2L1080.2 389.3L1080.5 387.1L1080.8 398.6L1081.0 405.6L1081.2 408.4L1081.5 391.8L1081.8 385.6L1082.0 381.9L1082.2 386.5L1082.5 374.9L1082.8 385.0L1083.0 392.3L1083.2 390.1L1083.5 395.5L1083.8 370.0L1084.0 386.8L1084.2 406.2L1084.5 391.5L1084.8 391.2L1085.0 391.3L1085.2 398.8L1085.5 379.7L1085.8 373.2L1086.0 396.8L1086.2 372.9L1086.5 366.2L1086.8 393.5L1087.0 408.8L1087.2 368.0L1087.5 402.8L1087.8 399.1L1088.0 377.5L1088.2 394.9L1088.5 395.6L1088.8 401.0L1089.0 367.6L1089.2 399.5L1089.5 393.0L1089.8 411.0L1090.0 390.4L1090.2 371.6L1090.5 395.4L1090.8 389.9L1091.0 398.0L1091.2 408.9L1091.5 395.1L1091.8 378.9L1092.0 393.2L1092.2 386.4L1092.5 391.3L1092.8 386.1L1093.0 395.1L1093.2 406.2L1093.5 400.6L1093.8 398.1L1094.0 384.9L1094.2 389.6L1094.5 377.5L1094.8 365.9L1095.0 398.0L1095.2 381.8L1095.5 374.3L1095.8 392.4L1096.0 397.3L1096.2 379.4L1096.5 394.3L1096.8 391.0L1097.0 388.3L1097.2 409.9L1097.5 407.7L1097.8 387.7L1098.0 391.6L1098.2 377.0L1098.5 374.0L1098.8 382.6L1099.0 377.0L1099.2 388.9L1099.5 395.4L1099.8 405.7L1100.0 390.9L1100.2 399.5L1100.5 404.3L1100.8 397.5L1101.0 393.3L1101.2 385.9L1101.5 396.0L1101.8 398.1L1102.0 408.7L1102.2 389.2L1102.5 382.3L1102.8 399.5L1103.0 378.5L1103.2 411.0L1103.5 378.3L1103.8 411.3L1104.0 395.5L1104.2 395.7L1104.5 379.4L1104.8 389.3L1105.0 398.4L1105.2 395.9L1105.5 392.1L1105.8 406.9L1106.0 394.9L1106.2 383.9L1106.5 394.6L1106.8 382.0L1107.0 391.1L1107.2 398.6L1107.5 412.0L1107.8 408.7L1108.0 393.8L1108.2 405.2L1108.5 397.7L1108.8 402.3L1109.0 405.5L1109.2 407.4L1109.5 393.7L1109.8 408.4L1110.0 397.0L1110.2 412.3L1110.5 376.5L1110.8 423.3L1111.0 424.0L1111.2 400.6L1111.5 389.5L1111.8 415.3L1112.0 402.4L1112.2 408.6L1112.5 413.5L1112.8 410.1L1113.0 382.5L1113.2 413.8L1113.5 415.6L1113.8 416.3L1114.0 391.8L1114.2 406.9L1114.5 417.4L1114.8 414.9L1115.0 414.0L1115.2 413.9L1115.5 416.1L1115.8 414.2L1116.0 396.0L1116.2 419.2L1116.5 411.3L1116.8 395.9L1117.0 425.2L1117.2 418.4L1117.5 418.1L1117.8 393.0L1118.0 410.4L1118.2 403.9L1118.5 417.2L1118.8 412.5L1119.0 407.1L1119.2 405.7L1119.5 386.8L1119.8 412.2L1120.0 417.8L1120.2 402.2L1120.5 408.0L1120.8 423.0L1121.0 419.7L1121.2 428.6L1121.5 408.4L1121.8 408.4L1122.0 415.0L1122.2 392.1L1122.5 416.6L1122.8 429.9L1123.0 422.6L1123.2 408.4L1123.5 404.7L1123.8 398.4L1124.0 406.4L1124.2 400.6L1124.5 406.7L1124.8 403.2L1125.0 422.0L1125.2 413.9L1125.5 400.5L1125.8 413.7L1126.0 428.9L1126.2 413.1L1126.5 406.2L1126.8 431.8L1127.0 411.2L1127.2 408.5L1127.5 430.0L1127.8 411.4L1128.0 412.0L1128.2 411.0L1128.5 416.5L1128.8 413.2L1129.0 425.0L1129.2 417.2L1129.5 436.7L1129.8 401.4L1130.0 423.8L1130.2 440.8L1130.5 434.3L1130.8 415.9L1131.0 413.4L1131.2 416.5L1131.5 423.8L1131.8 418.9L1132.0 426.2L1132.2 431.4L1132.5 422.8L1132.8 415.5L1133.0 399.2L1133.2 414.9L1133.5 428.6L1133.8 420.3L1134.0 418.1L1134.2 419.2L1134.5 421.2L1134.8 424.3L1135.0 415.2L1135.2 417.2L1135.5 422.2L1135.8 412.3L1136.0 429.1L1136.2 425.0L1136.5 405.0L1136.8 421.5L1137.0 415.0L1137.2 422.3L1137.5 416.0L1137.8 434.5L1138.0 415.6L1138.2 415.7L1138.5 432.4L1138.8 424.5L1139.0 421.9L1139.2 423.7L1139.5 425.8L1139.8 435.2L1140.0 408.1L1140.2 421.2L1140.5 421.9L1140.8 417.4L1141.0 419.6L1141.2 418.9L1141.5 432.7L1141.8 432.7L1142.0 424.7L1142.2 419.9L1142.5 431.8L1142.8 438.8L1143.0 413.1L1143.2 435.4L1143.5 425.9L1143.8 435.2L1144.0 435.6L1144.2 424.5L1144.5 413.8L1144.8 434.6L1145.0 438.9L1145.2 428.3L1145.5 425.9L1145.8 449.8L1146.0 431.9L1146.2 434.5L1146.5 417.8L1146.8 429.0L1147.0 425.1L1147.2 427.7L1147.5 433.0L1147.8 431.3L1148.0 433.0L1148.2 430.7L1148.5 423.5L1148.8 418.5L1149.0 433.2L1149.2 433.5L1149.5 423.9L1149.8 421.7L1150.0 405.9L1150.2 411.3L1150.5 422.3L1150.8 433.8L1151.0 430.6L1151.2 422.6L1151.5 439.1L1151.8 427.8L1152.0 443.8L1152.2 440.1L1152.5 435.4L1152.8 445.1L1153.0 448.3L1153.2 414.0L1153.5 427.5L1153.8 427.0L1154.0 430.4L1154.2 425.9L1154.5 438.1L1154.8 428.4L1155.0 424.9L1155.2 423.5L1155.5 417.6L1155.8 440.4L1156.0 432.9L1156.2 420.9L1156.5 422.2L1156.8 439.5L1157.0 427.1L1157.2 419.3L1157.5 417.0L1157.8 425.9L1158.0 434.6L1158.2 443.3L1158.5 429.7L1158.8 428.0L1159.0 416.7L1159.2 434.5L1159.5 434.4L1159.8 428.2L1160.0 427.9L1160.2 443.7L1160.5 424.9L1160.8 418.1L1161.0 434.7L1161.2 428.4L1161.5 432.9L1161.8 429.9L1162.0 432.8L1162.2 432.1L1162.5 432.4L1162.8 434.9L1163.0 436.6L1163.2 430.7L1163.5 408.7L1163.8 437.5L1164.0 425.6L1164.2 421.7L1164.5 420.6L1164.8 426.5L1165.0 420.5L1165.2 444.0L1165.5 429.0L1165.8 441.9L1166.0 417.1L1166.2 411.3L1166.5 451.9L1166.8 431.8L1167.0 434.6L1167.2 440.4L1167.5 437.2L1167.8 434.4L1168.0 423.3L1168.2 431.9L1168.5 433.9L1168.8 444.9L1169.0 437.6L1169.2 449.6L1169.5 437.7L1169.8 429.9L1170.0 410.0L1170.2 427.5L1170.5 430.8L1170.8 427.9L1171.0 427.9L1171.2 415.6L1171.5 421.4L1171.8 412.6L1172.0 419.7L1172.2 436.3L1172.5 435.9L1172.8 442.5L1173.0 435.0L1173.2 447.4L1173.5 422.7L1173.8 428.7L1174.0 426.4L1174.2 429.8L1174.5 425.6L1174.8 429.3L1175.0 434.1L1175.2 412.1L1175.5 425.0L1175.8 423.5L1176.0 433.9L1176.2 417.7L1176.5 441.2L1176.8 435.7L1177.0 424.8L1177.2 417.9L1177.5 426.1L1177.8 450.2L1178.0 437.2L1178.2 427.1L1178.5 438.5L1178.8 432.9L1179.0 425.0L1179.2 422.6L1179.5 426.5L1179.8 434.2L1180.0 450.0L1180.2 435.4L1180.5 412.3L1180.8 420.5L1181.0 428.9L1181.2 448.4L1181.5 436.5L1181.8 432.7L1182.0 429.6L1182.2 438.8L1182.5 442.9L1182.8 434.5L1183.0 419.4L1183.2 441.8L1183.5 425.0L1183.8 423.6L1184.0 431.6L1184.2 438.1L1184.5 437.5L1184.8 434.7L1185.0 421.2L1185.2 424.9L1185.5 440.3L1185.8 412.0L1186.0 431.0L1186.2 422.6L1186.5 417.1L1186.8 435.0L1187.0 431.8L1187.2 425.9L1187.5 443.3L1187.8 424.8L1188.0 444.1L1188.2 432.5L1188.5 424.0L1188.8 416.3L1189.0 433.1L1189.2 431.3L1189.5 434.5L1189.8 423.8L1190.0 426.7L1190.2 448.6L1190.5 431.2L1190.8 442.6L1191.0 413.4L1191.2 428.5L1191.5 440.0L1191.8 426.5L1192.0 433.7L1192.2 441.3L1192.5 442.2L1192.8 438.8L1193.0 436.7L1193.2 438.1L1193.5 427.4L1193.8 428.7L1194.0 427.5L1194.2 439.9L1194.5 447.8L1194.8 436.7L1195.0 425.8L1195.2 439.0L1195.5 429.1L1195.8 433.6L1196.0 446.0L1196.2 431.5L1196.5 441.4L1196.8 409.6L1197.0 429.7L1197.2 437.6L1197.5 444.0L1197.8 431.7L1198.0 454.1L1198.2 442.7L1198.5 456.2L1198.8 421.5L1199.0 437.6L1199.2 438.2L1199.5 424.6L1199.8 429.5L1200.0 420.9L1200.2 429.8L1200.5 452.2L1200.8 447.5L1201.0 444.3L1201.2 452.9L1201.5 426.7L1201.8 437.1L1202.0 436.6L1202.2 440.1L1202.5 440.2L1202.8 438.9L1203.0 444.2L1203.2 443.9L1203.5 446.2L1203.8 436.9L1204.0 443.8L1204.2 443.3L1204.5 442.5L1204.8 446.9L1205.0 450.3L1205.2 455.9L1205.5 450.6L1205.8 437.3L1206.0 434.8L1206.2 437.3L1206.5 465.4L1206.8 444.1L1207.0 434.0L1207.2 450.3L1207.5 429.2L1207.8 446.1L1208.0 444.2L1208.2 442.3L1208.5 451.1L1208.8 432.5L1209.0 442.5L1209.2 440.9L1209.5 439.3L1209.8 440.3L1210.0 449.4L1210.2 446.0L1210.5 432.0L1210.8 434.2L1211.0 450.2L1211.2 439.4L1211.5 432.3L1211.8 455.4L1212.0 431.1L1212.2 442.9L1212.5 456.9L1212.8 453.5L1213.0 444.1L1213.2 442.8L1213.5 422.4L1213.8 428.2L1214.0 446.2L1214.2 432.6L1214.5 438.5L1214.8 455.6L1215.0 449.5L1215.2 442.2L1215.5 449.3L1215.8 435.6L1216.0 453.0L1216.2 443.1L1216.5 444.6L1216.8 433.2L1217.0 451.8L1217.2 433.7L1217.5 437.0L1217.8 452.6L1218.0 442.1L1218.2 454.2L1218.5 453.6L1218.8 439.9L1219.0 442.9L1219.2 444.1L1219.5 464.0L1219.8 442.3L1220.0 454.7L1220.2 436.0L1220.5 444.5L1220.8 464.1L1221.0 443.0L1221.2 434.0L1221.5 442.4L1221.8 448.2L1222.0 446.7L1222.2 447.2L1222.5 439.9L1222.8 450.3L1223.0 444.5L1223.2 431.9L1223.5 451.7L1223.8 448.9L1224.0 461.1L1224.2 446.8L1224.5 436.1L1224.8 443.0L1225.0 440.3L1225.2 441.1L1225.5 443.8L1225.8 454.4L1226.0 458.1L1226.2 450.2L1226.5 443.0L1226.8 460.6L1227.0 458.9L1227.2 440.0L1227.5 445.3L1227.8 435.7L1228.0 439.0L1228.2 445.8L1228.5 452.3L1228.8 447.9L1229.0 448.8L1229.2 463.1L1229.5 464.6L1229.8 452.2L1230.0 451.2L1230.2 454.9L1230.5 445.6L1230.8 445.2L1231.0 442.9L1231.2 454.0L1231.5 448.8L1231.8 449.7L1232.0 448.7L1232.2 460.9L1232.5 452.5L1232.8 453.2L1233.0 461.2L1233.2 448.1L1233.5 444.1L1233.8 435.0L1234.0 457.4L1234.2 449.2L1234.5 446.6L1234.8 462.5L1235.0 456.0L1235.2 441.5L1235.5 460.3L1235.8 446.7L1236.0 452.6L1236.2 441.8L1236.5 445.7L1236.8 436.4L1237.0 445.2L1237.2 440.3L1237.5 463.1L1237.8 454.6L1238.0 460.3L1238.2 464.5L1238.5 463.4L1238.8 471.8L1239.0 445.5L1239.2 459.6L1239.5 457.9L1239.8 451.0L1240.0 463.5L1240.2 440.9L1240.5 464.8L1240.8 439.9L1241.0 450.1L1241.2 454.7L1241.5 457.1L1241.8 457.6L1242.0 469.8L1242.2 452.8L1242.5 445.4L1242.8 449.5L1243.0 466.0L1243.2 452.7L1243.5 456.8L1243.8 448.9L1244.0 446.5L1244.2 468.8L1244.5 455.7L1244.8 451.7L1245.0 449.6L1245.2 457.8L1245.5 456.7L1245.8 440.5L1246.0 443.0L1246.2 464.5L1246.5 446.6L1246.8 450.2L1247.0 441.8L1247.2 450.3L1247.5 435.6L1247.8 459.8L1248.0 463.0L1248.2 468.7L1248.5 464.0L1248.8 462.3L1249.0 455.9L1249.2 441.8L1249.5 470.9L1249.8 458.3L1250.0 467.7L1250.2 447.9L1250.5 462.7L1250.8 454.9L1251.0 454.5L1251.2 455.5L1251.5 434.0L1251.8 467.4L1252.0 461.6L1252.2 451.4L1252.5 460.6L1252.8 453.8L1253.0 463.0L1253.2 452.3L1253.5 461.1L1253.8 454.7L1254.0 452.6L1254.2 458.4L1254.5 464.1L1254.8 452.6L1255.0 469.9L1255.2 459.7L1255.5 465.2L1255.8 450.9L1256.0 464.7L1256.2 457.1L1256.5 447.7L1256.8 461.2L1257.0 452.6L1257.2 475.7L1257.5 457.8L1257.8 459.7L1258.0 458.8L1258.2 461.5L1258.5 464.7L1258.8 448.1L1259.0 451.7L1259.2 441.6L1259.5 449.0L1259.8 453.2L1260.0 457.7L1260.2 468.5L1260.5 463.6L1260.8 451.7L1261.0 456.2L1261.2 465.0L1261.5 445.3L1261.8 462.4L1262.0 471.5L1262.2 458.3L1262.5 453.8L1262.8 467.1L1263.0 444.6L1263.2 451.4L1263.5 469.7L1263.8 458.5L1264.0 453.1L1264.2 461.3L1264.5 464.1L1264.8 451.3L1265.0 469.0L1265.2 447.3L1265.5 455.1L1265.8 457.2L1266.0 474.5L1266.2 468.8L1266.5 456.6L1266.8 462.8L1267.0 480.8L1267.2 475.0L1267.5 454.1L1267.8 455.0L1268.0 466.3L1268.2 461.2L1268.5 449.7L1268.8 472.7L1269.0 471.9L1269.2 465.2L1269.5 460.9L1269.8 454.6L1270.0 476.7L1270.2 475.5L1270.5 454.2L1270.8 467.8L1271.0 469.4L1271.2 467.7L1271.5 484.4L1271.8 451.6L1272.0 463.6L1272.2 466.1L1272.5 465.2L1272.8 455.8L1273.0 463.3L1273.2 447.1L1273.5 469.4L1273.8 459.7L1274.0 465.1L1274.2 463.5L1274.5 477.3L1274.8 457.2L1275.0 463.3L1275.2 467.4L1275.5 444.4L1275.8 460.8L1276.0 464.1L1276.2 464.2L1276.5 459.7L1276.8 468.6L1277.0 460.5L1277.2 465.7L1277.5 458.7L1277.8 449.9L1278.0 467.7L1278.2 466.9L1278.5 442.0L1278.8 474.6L1279.0 469.9L1279.2 465.6L1279.5 464.4L1279.8 473.6L1280.0 460.8L1280.2 461.6L1280.5 475.5L1280.8 476.6L1281.0 466.2L1281.2 478.1L1281.5 460.8L1281.8 474.9L1282.0 471.9L1282.2 462.9L1282.5 459.6L1282.8 461.7L1283.0 465.1L1283.2 466.4L1283.5 456.3L1283.8 471.3L1284.0 469.0L1284.2 476.7L1284.5 463.4L1284.8 470.4L1285.0 449.9L1285.2 479.5L1285.5 457.5L1285.8 477.9L1286.0 464.3L1286.2 471.9L1286.5 473.6L1286.8 468.8L1287.0 478.0L1287.2 458.8L1287.5 462.0L1287.8 469.4L1288.0 477.3L1288.2 461.6L1288.5 463.5L1288.8 483.1L1289.0 465.4L1289.2 459.9L1289.5 481.4L1289.8 469.1L1290.0 464.5L1290.2 478.2L1290.5 458.0L1290.8 467.6L1291.0 459.1L1291.2 476.7L1291.5 458.6L1291.8 478.2L1292.0 467.3L1292.2 468.1L1292.5 469.9L1292.8 471.4L1293.0 477.5L1293.2 464.8L1293.5 475.5L1293.8 488.1L1294.0 467.4L1294.2 476.3L1294.5 477.4L1294.8 476.3L1295.0 487.1L1295.2 487.3L1295.5 469.6L1295.8 487.3L1296.0 461.3L1296.2 474.0L1296.5 474.0L1296.8 476.1L1297.0 465.8L1297.2 467.8L1297.5 464.7L1297.8 480.6L1298.0 477.6L1298.2 475.7L1298.5 467.6L1298.8 470.0L1299.0 486.7L1299.2 484.8L1299.5 474.0L1299.8 484.0L1300.0 477.6L1300.2 471.1L1300.5 478.0L1300.8 482.8L1301.0 483.7L1301.2 466.8L1301.5 471.0L1301.8 480.8L1302.0 477.5L1302.2 478.7L1302.5 479.7L1302.8 476.1L1303.0 486.0L1303.2 475.0L1303.5 462.8L1303.8 477.5L1304.0 476.4L1304.2 482.8L1304.5 469.4L1304.8 475.0L1305.0 488.1L1305.2 469.6L1305.5 488.3L1305.8 480.7L1306.0 473.8L1306.2 474.2L1306.5 480.3L1306.8 482.8L1307.0 477.0L1307.2 483.5L1307.5 477.0L1307.8 476.0L1308.0 487.1L1308.2 476.6L1308.5 473.9L1308.8 474.3L1309.0 479.0L1309.2 474.0L1309.5 487.8L1309.8 473.8L1310.0 480.0L1310.2 463.0L1310.5 469.8L1310.8 474.0L1311.0 471.9L1311.2 479.4L1311.5 483.0L1311.8 481.9L1312.0 476.2L1312.2 476.2L1312.5 469.3L1312.8 489.3L1313.0 482.6L1313.2 479.5L1313.5 483.9L1313.8 483.4L1314.0 481.6L1314.2 483.0L1314.5 477.0L1314.8 478.4L1315.0 485.2L1315.2 485.8L1315.5 484.9L1315.8 479.4L1316.0 489.0L1316.2 484.2L1316.5 488.3L1316.8 476.2L1317.0 485.9L1317.2 471.6L1317.5 477.8L1317.8 471.9L1318.0 474.2L1318.2 479.8L1318.5 477.8L1318.8 481.1L1319.0 478.2L1319.2 474.6L1319.5 482.2L1319.8 487.6L1320.0 486.7L1320.2 486.8L1320.5 472.4L1320.8 472.5L1321.0 471.9L1321.2 482.5L1321.5 470.4L1321.8 481.2L1322.0 470.9L1322.2 482.2L1322.5 484.6L1322.8 484.3L1323.0 467.8L1323.2 479.7L1323.5 474.8L1323.8 476.0L1324.0 480.5L1324.2 477.9L1324.5 491.9L1324.8 482.8L1325.0 490.3L1325.2 473.2L1325.5 484.5L1325.8 480.8L1326.0 472.7L1326.2 479.2L1326.5 485.0L1326.8 476.1L1327.0 485.0L1327.2 480.3L1327.5 483.4L1327.8 481.1L1328.0 482.7L1328.2 485.5L1328.5 482.9L1328.8 488.6L1329.0 480.6L1329.2 491.0L1329.5 481.8L1329.8 483.5L1330.0 478.2L1330.2 480.4L1330.5 482.9L1330.8 484.0L1331.0 486.6L1331.2 477.8L1331.5 483.6L1331.8 490.3L1332.0 479.3L1332.2 474.2L1332.5 491.2L1332.8 479.4L1333.0 480.7L1333.2 480.2L1333.5 485.4L1333.8 480.5L1334.0 490.0L1334.2 495.1L1334.5 487.2L1334.8 489.2L1335.0 485.7L1335.2 491.4L1335.5 475.1L1335.8 475.4L1336.0 480.9L1336.2 485.2L1336.5 484.6L1336.8 475.8L1337.0 485.7L1337.2 486.5L1337.5 479.9L1337.8 491.1L1338.0 483.0L1338.2 475.9L1338.5 484.1L1338.8 486.6L1339.0 486.4L1339.2 483.8L1339.5 482.2L1339.8 489.1L1340.0 484.6L1340.2 481.1L1340.5 488.7L1340.8 473.5L1341.0 474.0L1341.2 484.7L1341.5 490.4L1341.8 483.5L1342.0 478.5L1342.2 482.3L1342.5 490.1L1342.8 485.6L1343.0 481.5L1343.2 490.1L1343.5 485.1L1343.8 484.3L1344.0 475.1L1344.2 491.2L1344.5 476.1L1344.8 481.6L1345.0 487.1L1345.2 489.9L1345.5 494.6L1345.8 493.1L1346.0 489.0L1346.2 470.7L1346.5 490.7L1346.8 475.8L1347.0 486.4L1347.2 480.2L1347.5 487.9L1347.8 490.9L1348.0 485.3L1348.2 476.2L1348.5 485.5L1348.8 479.5L1349.0 482.3L1349.2 485.9L1349.5 481.6L1349.8 495.9L1350.0 476.0L1350.2 493.1L1350.5 487.1L1350.8 500.4L1351.0 472.8L1351.2 489.6L1351.5 478.0L1351.8 473.9L1352.0 489.1L1352.2 481.5L1352.5 481.8L1352.8 472.0L1353.0 493.5L1353.2 485.8L1353.5 471.5L1353.8 481.8L1354.0 481.2L1354.2 476.1L1354.5 482.1L1354.8 494.3L1355.0 491.0L1355.2 483.5L1355.5 476.7L1355.8 486.6L1356.0 487.5L1356.2 477.5L1356.5 489.3L1356.8 488.6L1357.0 487.6L1357.2 479.0L1357.5 492.9L1357.8 491.8L1358.0 479.9L1358.2 479.4L1358.5 495.8L1358.8 492.4L1359.0 491.5L1359.2 471.7L1359.5 482.5L1359.8 488.4L1360.0 481.4L1360.2 492.4L1360.5 478.2L1360.8 484.0L1361.0 483.0L1361.2 484.4L1361.5 493.0L1361.8 481.2L1362.0 481.7L1362.2 482.8L1362.5 487.9L1362.8 484.3L1363.0 474.0L1363.2 484.7L1363.5 479.5L1363.8 494.3L1364.0 482.8L1364.2 489.5L1364.5 496.0L1364.8 492.1L1365.0 477.7L1365.2 477.6L1365.5 475.5L1365.8 486.2L1366.0 479.8L1366.2 494.9L1366.5 495.2L1366.8 482.9L1367.0 489.2L1367.2 483.3L1367.5 482.0L1367.8 482.6L1368.0 484.3L1368.2 474.7L1368.5 477.0L1368.8 475.2L1369.0 485.0L1369.2 491.1L1369.5 488.0L1369.8 479.7L1370.0 483.4L1370.2 477.6L1370.5 492.7L1370.8 481.5L1371.0 483.4L1371.2 484.8L1371.5 475.5L1371.8 486.1L1372.0 490.4L1372.2 480.8L1372.5 498.3L1372.8 479.7L1373.0 479.4L1373.2 478.4L1373.5 487.2L1373.8 484.6L1374.0 497.8L1374.2 482.8L1374.5 473.9L1374.8 489.1L1375.0 487.7L1375.2 486.5L1375.5 484.4L1375.8 490.0L1376.0 476.9L1376.2 481.6L1376.5 483.4L1376.8 487.5L1377.0 490.2L1377.2 486.7L1377.5 489.3L1377.8 488.3L1378.0 489.3L1378.2 480.3L1378.5 486.1L1378.8 497.0L1379.0 485.5L1379.2 478.8L1379.5 493.8L1379.8 489.7L1380.0 493.8L1380.2 486.1L1380.5 486.9L1380.8 487.9L1381.0 491.3L1381.2 488.2L1381.5 494.6L1381.8 485.5L1382.0 487.2L1382.2 481.0L1382.5 488.6L1382.8 481.0L1383.0 487.1L1383.2 491.6L1383.5 488.5L1383.8 484.3L1384.0 481.4L1384.2 491.4L1384.5 491.7L1384.8 481.4L1385.0 499.4L1385.2 481.0L1385.5 482.8L1385.8 483.5L1386.0 482.5L1386.2 483.7L1386.5 476.9L1386.8 484.6L1387.0 487.3L1387.2 492.8L1387.5 494.2L1387.8 477.5L1388.0 487.7L1388.2 493.8L1388.5 489.3L1388.8 473.3L1389.0 489.0L1389.2 480.1L1389.5 494.5L1389.8 499.7L1390.0 486.6L1390.2 495.2L1390.5 482.1L1390.8 485.8L1391.0 478.7L1391.2 484.4L1391.5 485.4L1391.8 483.1L1392.0 492.5L1392.2 489.0L1392.5 479.2L1392.8 498.4L1393.0 495.0L1393.2 488.3L1393.5 488.7L1393.8 498.2L1394.0 481.2L1394.2 486.6L1394.5 476.1L1394.8 492.4L1395.0 481.1L1395.2 487.2L1395.5 481.5L1395.8 498.8L1396.0 485.6L1396.2 493.3L1396.5 487.1L1396.8 487.9L1397.0 484.1L1397.2 483.0L1397.5 491.2L1397.8 486.1L1398.0 488.2L1398.2 474.1L1398.5 480.8L1398.8 487.2L1399.0 481.4L1399.2 490.1L1399.5 495.1L1399.8 491.7L1400.0 489.9L1400.2 485.7L1400.5 494.3L1400.8 501.2L1401.0 474.9L1401.2 484.3L1401.5 487.7L1401.8 480.7L1402.0 492.2L1402.2 485.9L1402.5 487.6L1402.8 481.8L1403.0 486.5L1403.2 488.9L1403.5 492.5L1403.8 475.4L1404.0 487.0L1404.2 483.3L1404.5 487.9L1404.8 469.9L1405.0 478.4L1405.2 482.9L1405.5 487.1L1405.8 499.4L1406.0 482.1L1406.2 488.7L1406.5 486.7L1406.8 482.6L1407.0 494.9L1407.2 480.6L1407.5 487.6L1407.8 492.4L1408.0 497.4L1408.2 473.3L1408.5 480.5L1408.8 484.1L1409.0 481.2L1409.2 479.2L1409.5 496.2L1409.8 481.4L1410.0 497.7L1410.2 484.3L1410.5 474.1L1410.8 473.0L1411.0 468.5L1411.2 480.7L1411.5 489.7L1411.8 483.4L1412.0 483.1L1412.2 482.9L1412.5 480.8L1412.8 481.9L1413.0 482.8L1413.2 496.1L1413.5 486.1L1413.8 488.7L1414.0 487.7L1414.2 483.9L1414.5 493.2L1414.8 484.7L1415.0 489.0L1415.2 475.1L1415.5 480.5L1415.8 486.9L1416.0 475.1L1416.2 490.1L1416.5 492.3L1416.8 495.3L1417.0 477.8L1417.2 476.1L1417.5 487.7L1417.8 496.5L1418.0 482.9L1418.2 492.3L1418.5 484.8L1418.8 490.5L1419.0 471.6L1419.2 488.9L1419.5 490.0L1419.8 488.5L1420.0 485.1L1420.2 484.9L1420.5 469.2L1420.8 475.2L1421.0 485.9L1421.2 486.3L1421.5 493.9L1421.8 489.3L1422.0 484.2L1422.2 481.4L1422.5 474.1L1422.8 485.5L1423.0 482.8L1423.2 487.2L1423.5 478.5L1423.8 482.9L1424.0 493.6L1424.2 478.2L1424.5 483.7L1424.8 474.6L1425.0 482.9L1425.2 490.1L1425.5 497.3L1425.8 479.2L1426.0 487.2L1426.2 490.8L1426.5 476.4L1426.8 473.1L1427.0 490.1L1427.2 476.1L1427.5 480.1L1427.8 476.5L1428.0 483.2L1428.2 480.5L1428.5 470.0L1428.8 471.8L1429.0 479.3L1429.2 482.3L1429.5 477.7L1429.8 488.9L1430.0 478.9L1430.2 475.8L1430.5 483.5L1430.8 490.6L1431.0 491.8L1431.2 471.7L1431.5 478.5L1431.8 474.9L1432.0 479.2L1432.2 483.2L1432.5 482.7L1432.8 475.4L1433.0 491.4L1433.2 469.8L1433.5 477.8L1433.8 483.3L1434.0 487.8L1434.2 478.2L1434.5 479.1L1434.8 482.3L1435.0 475.6L1435.2 492.0L1435.5 483.7L1435.8 486.1L1436.0 480.9L1436.2 476.2L1436.5 480.9L1436.8 490.0L1437.0 478.6L1437.2 482.4L1437.5 484.1L1437.8 473.9L1438.0 485.7L1438.2 467.6L1438.5 475.0L1438.8 485.8L1439.0 478.9L1439.2 495.0L1439.5 475.8L1439.8 480.3L1440.0 483.2L1440.2 476.6L1440.5 492.4L1440.8 489.7L1441.0 479.6L1441.2 490.5L1441.5 479.7L1441.8 482.5L1442.0 484.7L1442.2 487.6L1442.5 492.3L1442.8 477.9L1443.0 479.7L1443.2 484.3L1443.5 487.4L1443.8 481.4L1444.0 479.9L1444.2 481.6L1444.5 476.6L1444.8 489.6L1445.0 485.5L1445.2 482.4L1445.5 477.9L1445.8 481.6L1446.0 480.5L1446.2 495.9L1446.5 481.3L1446.8 489.0L1447.0 487.9L1447.2 489.4L1447.5 483.8L1447.8 484.1L1448.0 476.3L1448.2 473.6L1448.5 478.4L1448.8 493.6L1449.0 484.9L1449.2 481.4L1449.5 483.0L1449.8 482.2L1450.0 490.4L1450.2 498.3L1450.5 490.5L1450.8 480.6L1451.0 486.6L1451.2 485.6L1451.5 482.8L1451.8 492.1L1452.0 477.0L1452.2 487.7L1452.5 495.0L1452.8 491.8L1453.0 490.0L1453.2 486.5L1453.5 485.2L1453.8 489.5L1454.0 490.4L1454.2 491.4L1454.5 485.9L1454.8 496.3L1455.0 478.8L1455.2 485.7L1455.5 485.1L1455.8 498.9L1456.0 495.8L1456.2 487.2L1456.5 482.0L1456.8 485.4L1457.0 484.9L1457.2 483.4L1457.5 483.2L1457.8 485.7L1458.0 493.1L1458.2 484.4L1458.5 487.9L1458.8 494.9L1459.0 485.4L1459.2 489.9L1459.5 496.6L1459.8 494.6L1460.0 492.5L1460.2 483.6L1460.5 479.9L1460.8 480.1L1461.0 495.8L1461.2 493.4L1461.5 490.9L1461.8 489.6L1462.0 489.0L1462.2 495.8L1462.5 483.0L1462.8 493.9L1463.0 496.0L1463.2 486.3L1463.5 496.9L1463.8 489.6L1464.0 499.4L1464.2 489.6L1464.5 491.3L1464.8 488.9L1465.0 492.4L1465.2 494.1L1465.5 489.0L1465.8 489.8L1466.0 492.2L1466.2 491.8L1466.5 489.0L1466.8 492.8L1467.0 494.9L1467.2 484.8L1467.5 494.6L1467.8 488.1L1468.0 494.0L1468.2 495.1L1468.5 486.2L1468.8 494.0L1469.0 495.0L1469.2 505.1L1469.5 501.7L1469.8 492.6L1470.0 497.6L1470.2 480.1L1470.5 484.6L1470.8 491.4L1471.0 489.7L1471.2 494.1L1471.5 495.4L1471.8 484.9L1472.0 483.7L1472.2 489.7L1472.5 488.2L1472.8 485.8L1473.0 487.2L1473.2 482.4L1473.5 492.0L1473.8 490.7L1474.0 490.7L1474.2 499.0L1474.5 490.0L1474.8 492.7L1475.0 501.7L1475.2 487.3L1475.5 491.5L1475.8 489.2L1476.0 488.7L1476.2 485.5L1476.5 490.2L1476.8 490.5L1477.0 491.7L1477.2 500.6L1477.5 491.2L1477.8 498.5L1478.0 494.7L1478.2 504.2L1478.5 488.5L1478.8 484.8L1479.0 494.2L1479.2 489.4L1479.5 498.1L1479.8 494.0L1480.0 492.0L1480.2 489.8L1480.5 491.6L1480.8 497.3L1481.0 494.4L1481.2 494.7L1481.5 494.5L1481.8 487.5L1482.0 492.1L1482.2 502.6L1482.5 500.1L1482.8 482.6L1483.0 497.7L1483.2 488.2L1483.5 494.7L1483.8 481.1L1484.0 485.9L1484.2 487.3L1484.5 486.4L1484.8 496.5L1485.0 498.4L1485.2 507.7L1485.5 490.6L1485.8 493.9L1486.0 501.2L1486.2 501.0L1486.5 508.0L1486.8 509.3L1487.0 500.7L1487.2 486.9L1487.5 494.6L1487.8 502.8L1488.0 488.3L1488.2 493.3L1488.5 495.0L1488.8 497.8L1489.0 492.8L1489.2 492.4L1489.5 491.1L1489.8 489.2L1490.0 489.0L1490.2 495.5L1490.5 496.5L1490.8 483.4L1491.0 486.2L1491.2 494.0L1491.5 489.7L1491.8 490.2L1492.0 497.8L1492.2 487.5L1492.5 500.8L1492.8 494.1L1493.0 496.2L1493.2 497.2L1493.5 489.7L1493.8 493.1L1494.0 495.3L1494.2 496.6L1494.5 494.8L1494.8 490.6L1495.0 495.5L1495.2 491.0L1495.5 492.6L1495.8 499.5L1496.0 496.0L1496.2 490.2L1496.5 495.3L1496.8 490.2L1497.0 492.3L1497.2 493.2L1497.5 492.7L1497.8 498.9L1498.0 498.9L1498.2 489.0L1498.5 501.4L1498.8 498.2L1499.0 504.7L1499.2 493.6L1499.5 501.0L1499.8 499.0L1500.0 497.0L1500.2 497.8L1500.5 491.8L1500.8 489.8L1501.0 487.9L1501.2 490.7L1501.5 498.5L1501.8 492.2L1502.0 498.0L1502.2 490.9L1502.5 491.9L1502.8 499.2L1503.0 501.4L1503.2 488.3L1503.5 500.3L1503.8 488.3L1504.0 498.6L1504.2 502.4L1504.5 500.0L1504.8 505.4L1505.0 489.9L1505.2 493.5L1505.5 498.0L1505.8 499.0L1506.0 490.5L1506.2 493.0L1506.5 494.4L1506.8 499.6L1507.0 492.3L1507.2 502.9L1507.5 497.4L1507.8 495.6L1508.0 488.6L1508.2 495.1L1508.5 498.8L1508.8 497.1L1509.0 495.2L1509.2 492.7L1509.5 506.0L1509.8 494.8L1510.0 489.9L1510.2 508.4L1510.5 502.8L1510.8 503.1L1511.0 500.6L1511.2 503.0L1511.5 501.1L1511.8 503.1L1512.0 495.7L1512.2 487.9L1512.5 498.6L1512.8 503.3L1513.0 494.2L1513.2 496.0L1513.5 495.5L1513.8 494.5L1514.0 493.9L1514.2 502.0L1514.5 495.1L1514.8 492.7L1515.0 508.7L1515.2 500.7L1515.5 490.5L1515.8 497.0L1516.0 493.5L1516.2 507.6L1516.5 492.0L1516.8 499.4L1517.0 497.8L1517.2 495.2L1517.5 490.6L1517.8 500.0L1518.0 492.4L1518.2 499.7L1518.5 491.7L1518.8 497.8L1519.0 498.4L1519.2 492.1L1519.5 499.5L1519.8 488.8L1520.0 496.6L1520.2 504.3L1520.5 492.4L1520.8 499.1L1521.0 492.1L1521.2 493.3L1521.5 504.7L1521.8 484.4L1522.0 488.7L1522.2 486.0L1522.5 499.7L1522.8 497.8L1523.0 487.6L1523.2 487.2L1523.5 496.1L1523.8 492.5L1524.0 495.2L1524.2 489.8L1524.5 492.3L1524.8 500.3L1525.0 496.9L1525.2 487.7L1525.5 496.4L1525.8 484.9L1526.0 496.7L1526.2 490.5L1526.5 503.7L1526.8 490.3L1527.0 498.3L1527.2 499.2L1527.5 496.8L1527.8 485.6L1528.0 492.5L1528.2 486.7L1528.5 500.7L1528.8 483.0L1529.0 500.0L1529.2 498.3L1529.5 481.6L1529.8 489.9L1530.0 494.5L1530.2 500.4L1530.5 499.3L1530.8 485.0L1531.0 490.9L1531.2 492.6L1531.5 498.0L1531.8 500.0L1532.0 490.8L1532.2 493.4L1532.5 491.0L1532.8 501.7L1533.0 495.7L1533.2 493.5L1533.5 509.5L1533.8 491.2L1534.0 488.6L1534.2 495.4L1534.5 492.7L1534.8 485.5L1535.0 489.3L1535.2 496.5L1535.5 493.8L1535.8 496.8L1536.0 503.0L1536.2 496.8L1536.5 485.4L1536.8 497.5L1537.0 495.9L1537.2 493.9L1537.5 499.8L1537.8 492.1L1538.0 489.7L1538.2 500.8L1538.5 489.9L1538.8 484.2L1539.0 488.7L1539.2 494.5L1539.5 490.0L1539.8 486.4L1540.0 497.8L1540.2 502.5L1540.5 485.8L1540.8 483.5L1541.0 502.2L1541.2 495.6L1541.5 493.1L1541.8 498.1L1542.0 494.3L1542.2 488.5L1542.5 484.8L1542.8 486.9L1543.0 485.8L1543.2 490.2L1543.5 494.5L1543.8 486.9L1544.0 491.7L1544.2 491.9L1544.5 495.8L1544.8 495.2L1545.0 502.7L1545.2 492.1L1545.5 489.0L1545.8 496.0L1546.0 495.1L1546.2 494.3L1546.5 495.3L1546.8 501.8L1547.0 492.5L1547.2 499.4L1547.5 488.0L1547.8 494.5L1548.0 492.6L1548.2 498.6L1548.5 491.3L1548.8 486.4L1549.0 502.8L1549.2 485.8L1549.5 486.9L1549.8 498.3L1550.0 498.2L1550.2 488.1L1550.5 496.2L1550.8 491.0L1551.0 482.8L1551.2 491.6L1551.5 507.1L1551.8 496.3L1552.0 493.8L1552.2 489.1L1552.5 494.7L1552.8 500.4L1553.0 494.3L1553.2 498.2L1553.5 503.3L1553.8 495.9L1554.0 484.0L1554.2 491.4L1554.5 498.5L1554.8 495.3L1555.0 500.1L1555.2 491.9L1555.5 502.1L1555.8 492.8L1556.0 500.8L1556.2 484.4L1556.5 496.2L1556.8 498.5L1557.0 487.3L1557.2 494.2L1557.5 493.6L1557.8 499.9L1558.0 497.8L1558.2 498.9L1558.5 501.0L1558.8 496.4L1559.0 491.4L1559.2 496.2L1559.5 489.9L1559.8 487.1L1560.0 494.3L1560.2 507.7L1560.5 496.5L1560.8 495.7L1561.0 486.6L1561.2 491.4L1561.5 496.9L1561.8 493.6L1562.0 493.1L1562.2 489.6L1562.5 491.8L1562.8 491.0L1563.0 489.3L1563.2 491.1L1563.5 497.6L1563.8 493.4L1564.0 492.2L1564.2 487.0L1564.5 491.9L1564.8 495.2L1565.0 500.2L1565.2 494.8L1565.5 488.5L1565.8 493.2L1566.0 496.8L1566.2 505.2L1566.5 488.1L1566.8 498.8L1567.0 489.5L1567.2 493.9L1567.5 504.2L1567.8 500.0L1568.0 487.8L1568.2 495.1L1568.5 492.6L1568.8 491.6L1569.0 498.7L1569.2 494.7L1569.5 501.9L1569.8 492.9L1570.0 502.9L1570.2 499.6L1570.5 508.9L1570.8 494.8L1571.0 506.1L1571.2 498.4L1571.5 489.0L1571.8 512.5L1572.0 507.3L1572.2 500.5L1572.5 490.9L1572.8 495.7L1573.0 501.7L1573.2 504.6L1573.5 493.9L1573.8 498.4L1574.0 492.4L1574.2 500.3L1574.5 500.3L1574.8 490.7L1575.0 487.3L1575.2 505.8L1575.5 500.5L1575.8 502.3L1576.0 502.4L1576.2 492.0L1576.5 510.3L1576.8 496.8L1577.0 497.1L1577.2 509.5L1577.5 494.7L1577.8 500.8L1578.0 491.6L1578.2 502.4L1578.5 500.6L1578.8 499.6L1579.0 501.2L1579.2 508.3L1579.5 496.6L1579.8 497.6L1580.0 504.5L1580.2 502.0L1580.5 494.3L1580.8 489.3L1581.0 509.8L1581.2 491.0L1581.5 493.2L1581.8 498.3L1582.0 501.4L1582.2 494.1L1582.5 495.7L1582.8 489.2L1583.0 505.5L1583.2 501.5L1583.5 496.1L1583.8 509.3L1584.0 490.3L1584.2 495.8L1584.5 497.6L1584.8 507.2L1585.0 498.4L1585.2 504.8L1585.5 503.8L1585.8 507.3L1586.0 492.2L1586.2 493.8L1586.5 494.9L1586.8 503.2L1587.0 507.8L1587.2 501.0L1587.5 503.9L1587.8 502.6L1588.0 494.8L1588.2 504.4L1588.5 490.8L1588.8 501.3L1589.0 493.4L1589.2 497.9L1589.5 495.6L1589.8 502.0L1590.0 501.1L1590.2 504.1L1590.5 492.7L1590.8 503.5L1591.0 509.1L1591.2 505.6L1591.5 500.5L1591.8 501.9L1592.0 493.0L1592.2 494.7L1592.5 510.4L1592.8 507.2L1593.0 500.7L1593.2 495.6L1593.5 495.9L1593.8 494.2L1594.0 500.1L1594.2 502.2L1594.5 501.4L1594.8 507.9L1595.0 502.4L1595.2 505.1L1595.5 513.1L1595.8 507.7L1596.0 488.5L1596.2 495.1L1596.5 489.9L1596.8 503.7L1597.0 506.8L1597.2 501.5L1597.5 501.4L1597.8 504.2L1598.0 504.1L1598.2 499.3L1598.5 497.2L1598.8 493.1L1599.0 500.1L1599.2 492.0L1599.5 504.3L1599.8 500.4L1600.0 498.9L1600.2 500.1L1600.5 505.8L1600.8 505.0L1601.0 492.3L1601.2 497.7L1601.5 498.7L1601.8 493.9L1602.0 508.8L1602.2 500.5L1602.5 506.1L1602.8 507.3L1603.0 508.9L1603.2 502.6L1603.5 502.3L1603.8 498.2L1604.0 500.9L1604.2 496.3L1604.5 502.2L1604.8 500.7L1605.0 506.1L1605.2 502.1L1605.5 500.0L1605.8 496.1L1606.0 513.9L1606.2 495.7L1606.5 501.5L1606.8 510.9L1607.0 505.3L1607.2 493.3L1607.5 503.8L1607.8 504.9L1608.0 504.2L1608.2 503.5L1608.5 505.1L1608.8 504.5L1609.0 507.2L1609.2 501.8L1609.5 499.6L1609.8 494.8L1610.0 507.5L1610.2 496.9L1610.5 499.3L1610.8 492.4L1611.0 498.4L1611.2 504.1L1611.5 507.6L1611.8 503.3L1612.0 503.8L1612.2 499.5L1612.5 508.9L1612.8 494.1L1613.0 499.7L1613.2 498.5L1613.5 509.9L1613.8 505.1L1614.0 501.2L1614.2 508.4L1614.5 504.1L1614.8 497.8L1615.0 511.3L1615.2 502.3L1615.5 496.4L1615.8 497.7L1616.0 505.8L1616.2 501.6L1616.5 499.5L1616.8 499.8L1617.0 510.3L1617.2 502.9L1617.5 504.3L1617.8 500.4L1618.0 500.5L1618.2 503.1L1618.5 505.6L1618.8 499.8L1619.0 500.5L1619.2 500.4L1619.5 505.0L1619.8 492.2L1620.0 502.0L1620.2 496.6L1620.5 499.2L1620.8 508.4L1621.0 499.0L1621.2 503.8L1621.5 507.6L1621.8 500.0L1622.0 491.8L1622.2 502.9L1622.5 502.9L1622.8 497.8L1623.0 500.2L1623.2 501.5L1623.5 507.1L1623.8 508.6L1624.0 507.0L1624.2 497.0L1624.5 504.6L1624.8 512.2L1625.0 499.7L1625.2 507.2L1625.5 511.1L1625.8 496.0L1626.0 504.2L1626.2 501.1L1626.5 502.2L1626.8 505.6L1627.0 497.8L1627.2 496.3L1627.5 497.4L1627.8 508.6L1628.0 501.0"/>
</g>
<rect x="51.8" y="9.7" width="756.2" height="526.7" fill="none" stroke="#000" stroke-width="4.5"/>
<rect x="919.0" y="8.1" width="711.3" height="527.2" fill="none" stroke="#000" stroke-width="4.4"/>
<path d="M52.1 536.4V546.4M260.7 536.4V546.4M469.4 536.4V546.4M678.0 536.4V546.4M156.4 536.4V541.6M365.1 536.4V541.6M573.7 536.4V541.6M782.3 536.4V541.6" stroke="#000" stroke-width="4.6" stroke-linecap="round" fill="none"/>
<text class="t" transform="translate(51.9 577.2) scale(0.9 1)">4000</text>
<text class="t" transform="translate(260.5 577.2) scale(0.9 1)">3000</text>
<text class="t" transform="translate(469.2 577.2) scale(0.9 1)">2000</text>
<text class="t" transform="translate(677.8 577.2) scale(0.9 1)">1000</text>
<path d="M919.0 535.3V545.2M1020.6 535.3V545.2M1122.2 535.3V545.2M1223.8 535.3V545.2M1325.5 535.3V545.2M1427.1 535.3V545.2M1528.7 535.3V545.2M1630.3 535.3V545.2M969.8 535.3V540.3M1071.4 535.3V540.3M1173.0 535.3V540.3M1274.7 535.3V540.3M1376.3 535.3V540.3M1477.9 535.3V540.3M1579.5 535.3V540.3" stroke="#000" stroke-width="4.6" stroke-linecap="round" fill="none"/>
<text class="t" style="font-size:31px" transform="translate(919.0 575.5) scale(0.97 1)">10</text>
<text class="t" style="font-size:31px" transform="translate(1020.6 575.5) scale(0.97 1)">20</text>
<text class="t" style="font-size:31px" transform="translate(1122.2 575.5) scale(0.97 1)">30</text>
<text class="t" style="font-size:31px" transform="translate(1223.8 575.5) scale(0.97 1)">40</text>
<text class="t" style="font-size:31px" transform="translate(1325.5 575.5) scale(0.97 1)">50</text>
<text class="t" style="font-size:31px" transform="translate(1427.1 575.5) scale(0.97 1)">60</text>
<text class="t" style="font-size:31px" transform="translate(1528.7 575.5) scale(0.97 1)">70</text>
<text class="t" style="font-size:31px" transform="translate(1630.3 575.5) scale(0.97 1)">80</text>
<text class="l" x="234" y="612" style="word-spacing:1.4px">Wave number (cm<tspan font-size="26" x="548.3" y="594.2" textLength="18.6" lengthAdjust="spacingAndGlyphs">-1</tspan><tspan x="566.6" y="612">)</tspan></text>
<text class="l" x="1183" y="614.6">2-Theta (°)</text>
<text class="l" style="letter-spacing:0.1px" transform="translate(31.6 439.4) rotate(-90)">Transmittance (%)</text>
<text class="l" transform="translate(888 426) rotate(-90)">Intensity (CPS)</text>
<text class="p" x="65" y="61">a</text>
<text class="p" x="929" y="63.4">b</text>
<rect x="73.9" y="394.8" width="224.1" height="114" fill="#fff" stroke="#000" stroke-width="2"/>
<path d="M84.5 415.7H154.8" stroke="#000" stroke-width="2.4" fill="none"/>
<text class="g" transform="translate(160.3 429.2) scale(0.955 1)">WG</text>
<path d="M84.5 453.6H154.8" stroke="#b01418" stroke-width="2.4" fill="none"/>
<text class="g" dx="0 0 0 0.6 2.6" transform="translate(160.3 465.4) scale(0.955 1)">WMC20</text>
<path d="M84.5 491.5H154.8" stroke="#14149c" stroke-width="2.4" fill="none"/>
<text class="g" dx="0 0 0 0.6 2.6" transform="translate(160.3 502.6) scale(0.955 1)">WMC40</text>
<rect x="1386.6" y="34.8" width="223.6" height="114" fill="#fff" stroke="#000" stroke-width="2"/>
<path d="M1397.2 55.7H1467" stroke="#000" stroke-width="2.4" fill="none"/>
<text class="g" transform="translate(1473.3 69.3) scale(0.955 1)">WG</text>
<path d="M1397.2 93.6H1467" stroke="#b01418" stroke-width="2.4" fill="none"/>
<text class="g" dx="0 0 0 0.6 2.6" transform="translate(1473.3 105.0) scale(0.955 1)">WMC20</text>
<path d="M1397.2 131.5H1467" stroke="#14149c" stroke-width="2.4" fill="none"/>
<text class="g" dx="0 0 0 0.6 2.6" transform="translate(1473.3 142.7) scale(0.955 1)">WMC40</text>
</svg></body></html>
